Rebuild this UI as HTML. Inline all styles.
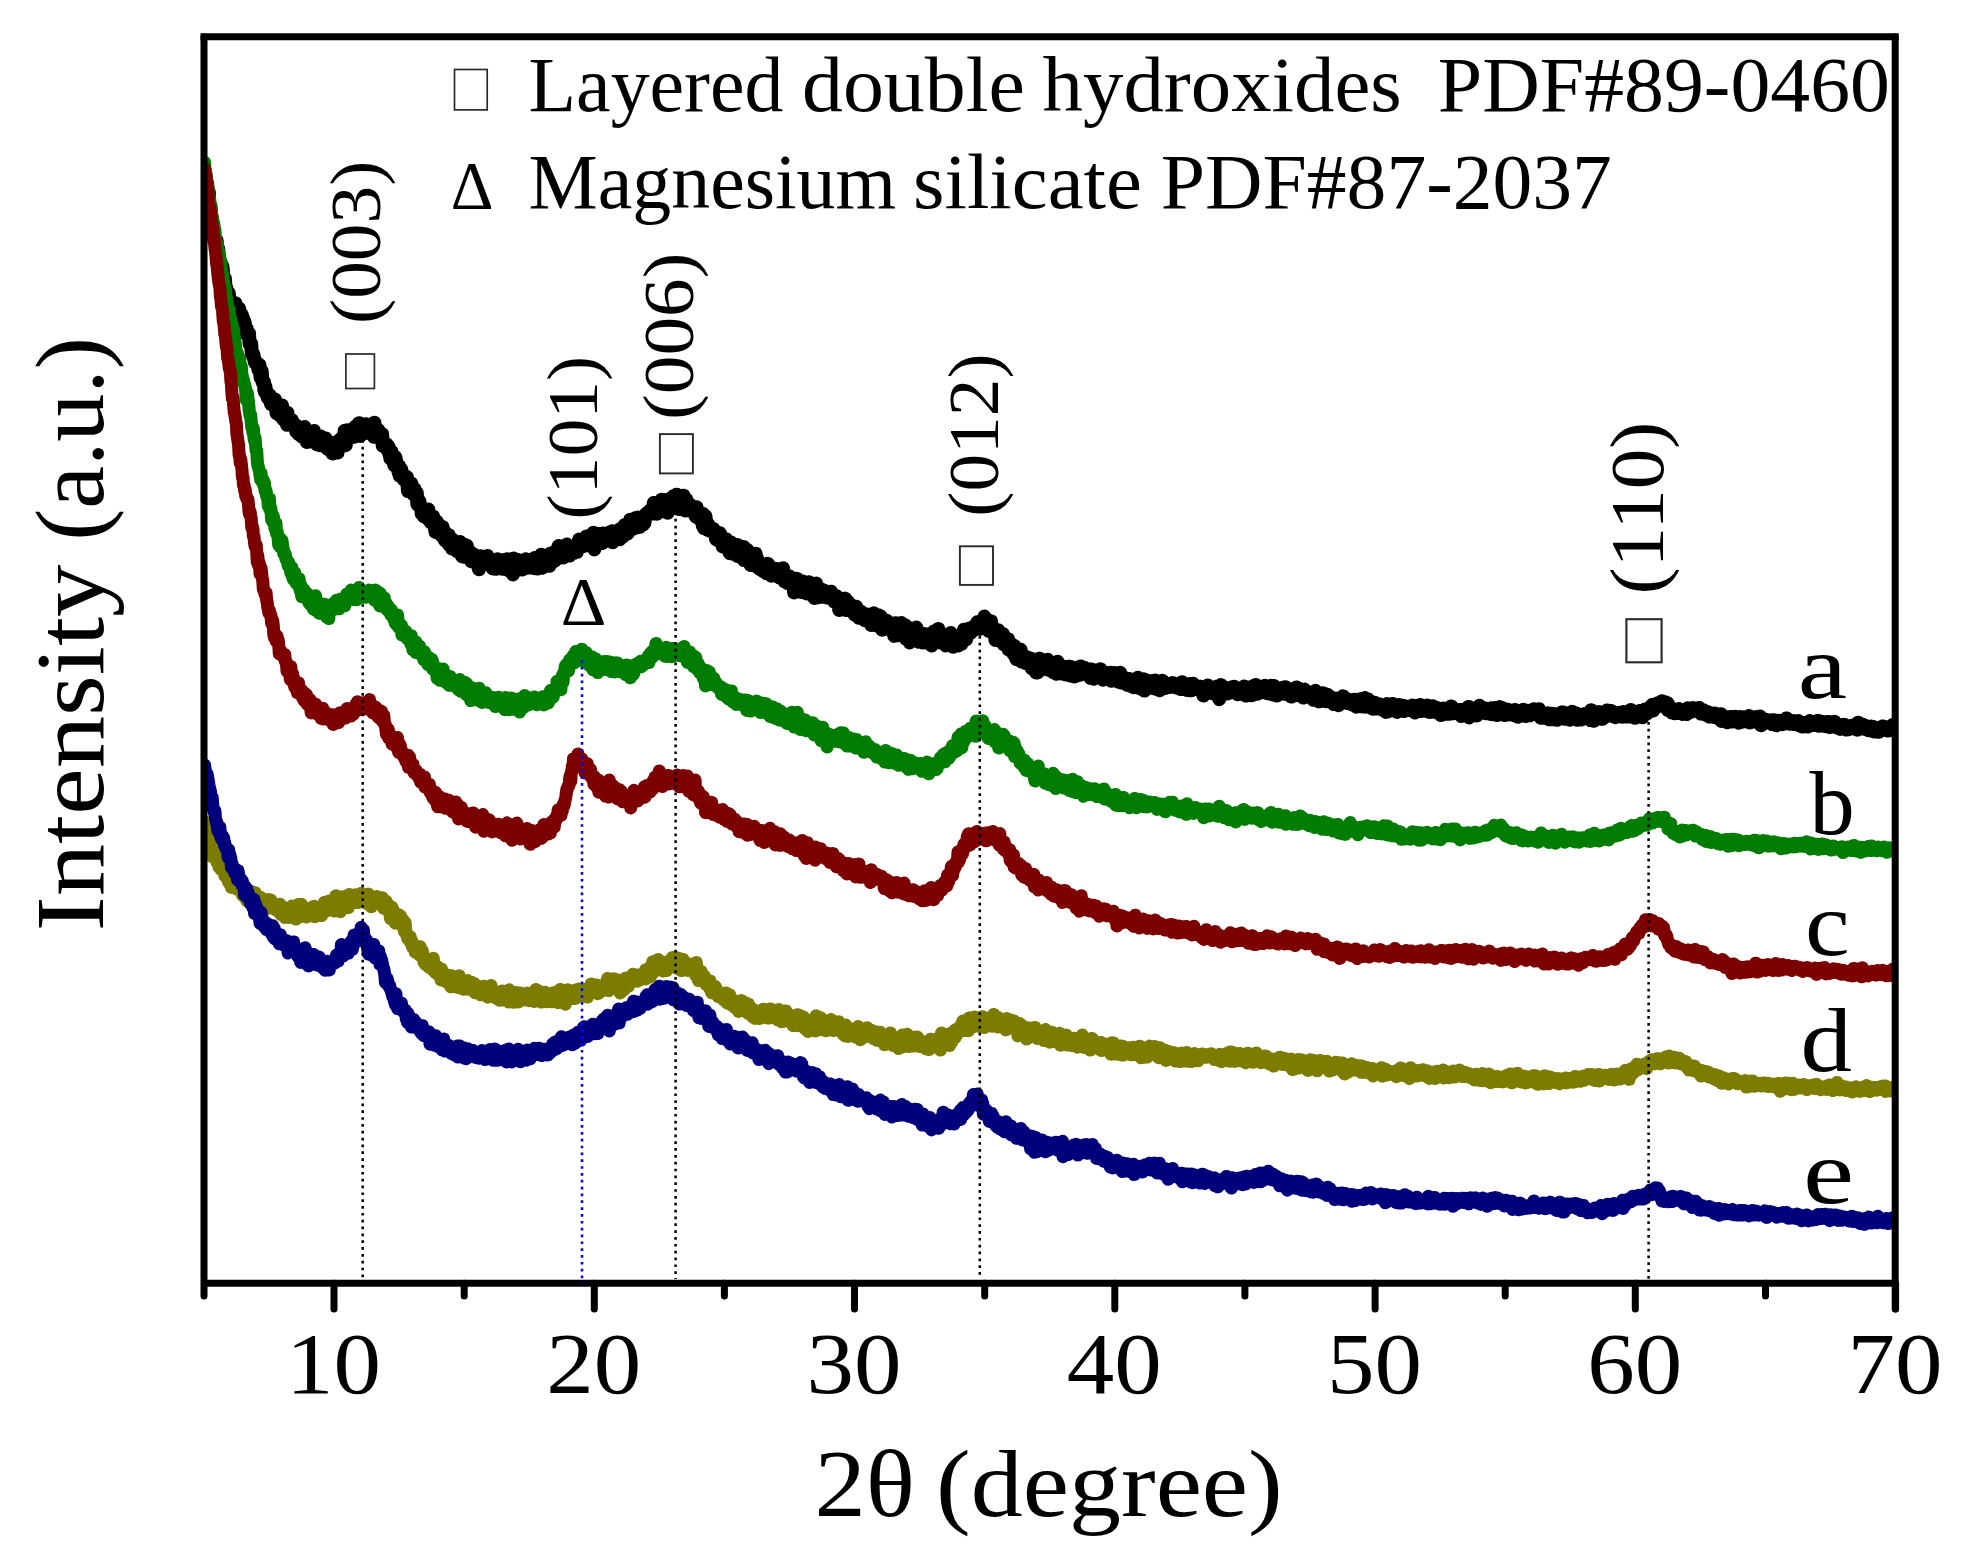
<!DOCTYPE html>
<html lang="en"><head><meta charset="utf-8"><title>XRD patterns</title>
<style>
html,body{margin:0;padding:0;background:#fff;}
body{width:1963px;height:1557px;overflow:hidden;}
svg{display:block;}
text{font-family:"Liberation Serif",serif;fill:#000;}
</style></head><body>
<svg width="1963" height="1557" viewBox="0 0 1963 1557">
<rect width="1963" height="1557" fill="#fff"/>
<defs><clipPath id="plot"><rect x="202.0" y="36.7" width="1693.2" height="1246.6"/></clipPath></defs>
<g clip-path="url(#plot)" fill="none" stroke-linejoin="round" stroke-linecap="round">
<path d="M203.9,163.0 204.5,175.1 205.0,171.6 205.6,177.0 206.1,181.0 206.7,182.3 207.2,183.8 207.8,193.8 208.3,196.4 208.9,192.7 209.4,210.3 210.0,209.7 210.5,208.0 211.1,217.1 211.6,216.4 212.2,221.4 212.7,227.7 213.3,224.4 213.8,233.5 214.4,239.2 214.9,241.8 215.5,239.3 216.0,245.9 216.6,240.4 217.1,247.7 217.7,252.2 218.2,248.9 218.8,255.4 219.3,263.7 219.9,269.0 220.4,265.4 221.0,267.9 221.5,264.5 222.1,266.1 222.6,267.9 223.2,276.6 223.7,279.8 224.3,277.6 224.8,278.1 225.4,285.3 225.9,287.7 226.5,288.5 227.0,295.1 227.6,292.6 228.1,294.6 228.7,293.0 229.2,298.6 229.8,303.9 230.3,301.0 230.9,302.2 231.4,304.4 232.0,304.8 232.5,306.4 233.1,307.2 233.6,308.2 234.2,304.4 234.7,308.6 235.3,303.1 235.8,309.9 236.4,305.6 236.9,310.2 237.5,312.8 238.0,310.8 238.6,313.4 239.1,308.8 239.7,312.3 240.2,318.4 240.8,313.5 241.3,320.4 241.9,315.0 242.4,317.7 243.0,318.3 243.5,323.1 244.1,326.1 244.6,322.3 245.2,326.5 245.7,333.8 246.3,329.1 246.8,329.2 247.4,334.8 247.9,334.7 248.5,335.1 249.0,333.6 249.6,344.0 250.1,341.6 250.7,345.4 251.2,344.0 251.8,353.5 252.3,353.6 252.9,356.2 253.4,354.4 254.0,357.8 254.5,360.8 255.1,362.8 255.6,362.1 256.2,362.4 256.7,362.9 257.3,363.2 257.8,364.0 258.4,369.7 258.9,369.3 259.5,365.1 260.0,372.5 260.6,377.8 261.1,375.0 261.7,371.3 262.2,378.3 262.8,382.7 263.3,382.2 263.9,381.6 264.4,390.4 265.0,392.0 265.5,387.0 266.1,391.4 266.6,391.6 267.2,394.2 267.7,397.8 268.3,397.1 268.8,396.1 269.4,395.0 269.9,395.6 270.5,399.3 271.0,404.1 271.6,402.3 272.1,402.3 272.7,403.7 273.2,403.8 273.8,406.2 274.3,401.5 274.9,399.5 275.4,405.2 276.0,403.6 276.5,413.2 277.1,408.1 277.6,408.5 278.2,405.0 278.7,411.5 279.3,409.2 279.8,415.4 280.4,415.1 280.9,410.5 281.5,414.9 282.0,405.4 282.6,412.5 283.1,419.2 283.7,418.3 284.2,416.9 284.8,416.8 285.3,412.8 285.9,413.6 286.4,419.2 287.0,424.8 287.5,412.7 288.1,422.2 288.6,422.7 289.2,424.4 289.7,419.1 290.3,420.8 290.8,423.2 291.4,420.3 291.9,420.2 292.5,421.8 293.0,425.0 293.6,426.9 294.1,426.2 294.7,427.0 295.2,425.0 295.8,425.3 296.3,431.7 296.9,428.4 297.4,428.7 298.0,432.4 298.5,433.8 299.1,434.3 299.6,431.8 300.2,430.7 300.7,432.2 301.3,432.2 301.8,436.5 302.4,433.3 302.9,434.7 303.5,432.9 304.0,437.8 304.6,427.1 305.1,435.3 305.7,436.8 306.2,431.0 306.8,442.0 307.3,434.9 307.9,435.2 308.4,432.6 309.0,439.2 309.5,437.3 310.1,435.0 310.6,437.9 311.2,439.6 311.7,441.6 312.3,438.6 312.8,435.0 313.4,436.5 313.9,431.0 314.5,436.3 315.0,441.1 315.6,440.4 316.1,438.7 316.7,438.1 317.2,444.4 317.8,440.4 318.3,442.5 318.9,441.0 319.4,437.8 320.0,445.2 320.5,436.4 321.1,436.8 321.6,439.6 322.2,439.0 322.7,439.9 323.3,440.1 323.8,445.6 324.4,443.0 324.9,444.4 325.5,438.5 326.0,441.3 326.6,447.9 327.1,441.0 327.7,449.0 328.2,442.2 328.8,446.8 329.3,443.4 329.9,447.0 330.4,443.7 331.0,445.9 331.5,452.2 332.1,445.7 332.6,453.5 333.2,445.4 333.7,443.0 334.3,446.9 334.8,445.1 335.4,451.8 335.9,448.6 336.5,449.3 337.0,447.1 337.6,452.5 338.1,446.7 338.7,445.3 339.2,440.4 339.8,439.7 340.3,442.7 340.9,444.7 341.4,444.6 342.0,437.5 342.5,441.7 343.1,440.1 343.6,435.4 344.2,440.2 344.7,430.8 345.3,438.5 345.8,445.2 346.4,433.7 346.9,436.7 347.5,430.2 348.0,433.5 348.6,438.0 349.1,431.8 349.7,434.7 350.2,433.3 350.8,432.9 351.3,434.4 351.9,435.0 352.4,437.1 353.0,435.5 353.5,430.7 354.1,436.8 354.6,436.0 355.2,426.8 355.7,433.7 356.3,433.9 356.8,434.1 357.4,432.5 357.9,426.3 358.5,429.3 359.0,423.2 359.6,429.1 360.1,435.9 360.7,431.4 361.2,431.8 361.8,427.3 362.3,425.7 362.9,425.5 363.4,429.4 364.0,426.5 364.5,427.2 365.1,433.1 365.6,424.3 366.2,425.5 366.7,428.3 367.3,429.8 367.8,429.9 368.4,426.0 368.9,431.3 369.5,430.5 370.0,432.2 370.6,427.8 371.1,432.2 371.7,432.3 372.2,429.6 372.8,431.2 373.3,430.4 373.9,436.8 374.4,422.7 375.0,428.4 375.5,427.9 376.1,432.6 376.6,432.0 377.2,433.3 377.7,437.4 378.3,430.3 378.8,433.4 379.4,435.9 379.9,433.4 380.5,439.0 381.0,439.6 381.6,436.9 382.1,434.2 382.7,445.7 383.2,442.9 383.8,443.5 384.3,443.1 384.9,443.7 385.4,447.2 386.0,445.3 386.5,444.1 387.1,449.3 387.6,448.1 388.2,446.3 388.7,446.7 389.3,454.2 389.8,453.4 390.4,458.6 390.9,451.5 391.5,451.7 392.0,456.3 392.6,460.4 393.1,458.9 393.7,459.4 394.2,465.1 394.8,457.7 395.3,457.1 395.9,459.8 396.4,462.2 397.0,465.5 397.5,468.7 398.1,467.8 398.6,472.4 399.2,466.0 399.7,475.9 400.3,468.2 400.8,475.7 401.4,470.0 401.9,475.1 402.5,475.2 403.0,477.7 403.6,479.4 404.1,477.3 404.7,478.7 405.2,480.6 405.8,476.5 406.3,479.2 406.9,477.2 407.4,483.2 408.0,491.1 408.5,487.2 409.1,482.8 409.6,484.1 410.2,490.3 410.7,486.5 411.3,483.6 411.8,486.3 412.4,487.0 412.9,488.0 413.5,494.3 414.0,493.2 414.6,489.1 415.1,493.1 415.7,492.1 416.2,492.9 416.8,492.9 417.3,504.3 417.9,498.7 418.4,502.6 419.0,504.6 419.5,501.6 420.1,505.6 420.6,506.6 421.2,506.6 421.7,513.8 422.3,508.8 422.8,508.1 423.4,511.8 423.9,516.4 424.5,514.7 425.0,510.8 425.6,510.4 426.1,511.0 426.7,512.6 427.2,516.7 427.8,518.8 428.3,509.5 428.9,517.3 429.4,514.4 430.0,520.7 430.5,522.0 431.1,517.2 431.6,518.8 432.2,517.7 432.7,522.6 433.3,516.8 433.8,518.9 434.4,520.9 434.9,527.6 435.5,532.0 436.0,525.0 436.6,521.6 437.1,526.4 437.7,524.0 438.2,529.0 438.8,524.6 439.3,527.6 439.9,529.4 440.4,531.8 441.0,530.6 441.5,535.6 442.1,532.6 442.6,527.0 443.2,536.5 443.7,533.2 444.3,532.6 444.8,540.2 445.4,532.9 445.9,536.9 446.5,535.0 447.0,542.2 447.6,537.3 448.1,539.8 448.7,535.1 449.2,544.7 449.8,537.3 450.3,544.1 450.9,545.3 451.4,546.2 452.0,548.6 452.5,539.5 453.1,544.9 453.6,544.5 454.2,545.8 454.7,548.4 455.3,545.5 455.8,542.9 456.4,545.5 456.9,551.0 457.5,542.6 458.0,546.8 458.6,543.7 459.1,550.6 459.7,542.1 460.2,546.5 460.8,547.5 461.3,548.6 461.9,556.1 462.4,553.9 463.0,546.1 463.5,556.7 464.1,546.4 464.6,544.7 465.2,546.4 465.7,552.4 466.3,553.9 466.8,545.7 467.4,554.7 467.9,553.0 468.5,556.6 469.0,553.6 469.6,558.2 470.1,557.5 470.7,552.4 471.2,561.2 471.8,557.6 472.3,559.5 472.9,561.5 473.4,554.6 474.0,557.7 474.5,555.5 475.1,555.3 475.6,559.3 476.2,559.6 476.7,562.9 477.3,563.1 477.8,558.7 478.4,556.2 478.9,569.2 479.5,565.9 480.0,558.8 480.6,556.3 481.1,558.1 481.7,560.5 482.2,563.4 482.8,563.1 483.3,561.6 483.9,559.7 484.4,561.3 485.0,560.0 485.5,561.5 486.1,561.2 486.6,563.5 487.2,556.1 487.7,561.3 488.3,561.8 488.8,559.4 489.4,562.7 489.9,560.2 490.5,561.7 491.0,563.1 491.6,563.5 492.1,562.8 492.7,568.4 493.2,565.7 493.8,566.3 494.3,566.3 494.9,563.6 495.4,563.0 496.0,568.7 496.5,565.0 497.1,560.5 497.6,559.2 498.2,566.9 498.7,563.8 499.3,565.9 499.8,564.3 500.4,564.7 500.9,565.4 501.5,561.9 502.0,565.7 502.6,568.8 503.1,567.8 503.7,559.9 504.2,561.0 504.8,561.0 505.3,564.3 505.9,567.8 506.4,566.0 507.0,559.2 507.5,564.9 508.1,567.2 508.6,563.1 509.2,570.6 509.7,562.4 510.3,568.1 510.8,571.8 511.4,560.2 511.9,563.2 512.5,566.0 513.0,574.4 513.6,558.4 514.1,565.9 514.7,565.0 515.2,562.7 515.8,561.4 516.3,562.4 516.9,563.1 517.4,560.0 518.0,569.1 518.5,560.6 519.1,562.8 519.6,562.0 520.2,562.8 520.7,564.4 521.3,561.7 521.8,563.3 522.4,569.5 522.9,567.4 523.5,563.0 524.0,566.8 524.6,561.4 525.1,564.6 525.7,559.3 526.2,560.1 526.8,561.0 527.3,567.7 527.9,564.4 528.4,565.4 529.0,564.2 529.5,564.8 530.1,565.0 530.6,566.1 531.2,564.1 531.7,560.7 532.3,561.0 532.8,567.4 533.4,568.0 533.9,565.2 534.5,558.1 535.0,568.3 535.6,564.3 536.1,562.9 536.7,563.2 537.2,561.8 537.8,568.6 538.3,568.2 538.9,559.4 539.4,562.2 540.0,563.7 540.5,566.7 541.1,554.8 541.6,565.5 542.2,567.8 542.7,561.3 543.3,562.2 543.8,566.2 544.4,563.3 544.9,557.7 545.5,558.1 546.0,558.3 546.6,556.9 547.1,561.2 547.7,559.3 548.2,560.8 548.8,562.6 549.3,565.8 549.9,560.4 550.4,553.5 551.0,563.5 551.5,558.3 552.1,562.1 552.6,556.5 553.2,558.6 553.7,556.9 554.3,556.9 554.8,560.7 555.4,554.3 555.9,556.6 556.5,556.5 557.0,554.3 557.6,548.3 558.1,556.2 558.7,545.9 559.2,549.9 559.8,553.1 560.3,555.8 560.9,557.0 561.4,556.7 562.0,555.8 562.5,552.6 563.1,557.5 563.6,552.6 564.2,556.8 564.7,545.9 565.3,549.8 565.8,550.9 566.4,552.5 566.9,544.6 567.5,554.6 568.0,554.9 568.6,554.0 569.1,549.6 569.7,555.6 570.2,548.9 570.8,553.2 571.3,549.8 571.9,549.6 572.4,548.8 573.0,548.9 573.5,552.1 574.1,552.8 574.6,552.4 575.2,550.3 575.7,549.2 576.3,548.1 576.8,551.9 577.4,544.5 577.9,543.6 578.5,545.4 579.0,539.6 579.6,543.8 580.1,544.0 580.7,540.7 581.2,541.8 581.8,545.6 582.3,542.5 582.9,543.2 583.4,546.1 584.0,540.7 584.5,538.9 585.1,542.3 585.6,543.7 586.2,536.5 586.7,544.3 587.3,541.2 587.8,540.8 588.4,539.3 588.9,541.4 589.5,545.1 590.0,543.6 590.6,544.4 591.1,540.6 591.7,546.7 592.2,545.5 592.8,541.2 593.3,532.7 593.9,541.1 594.4,549.4 595.0,540.2 595.5,536.9 596.1,545.3 596.6,537.6 597.2,540.9 597.7,541.5 598.3,534.1 598.8,538.9 599.4,542.1 599.9,537.0 600.5,539.9 601.0,537.5 601.6,540.7 602.1,543.1 602.7,533.6 603.2,536.1 603.8,538.1 604.3,534.8 604.9,534.1 605.4,535.6 606.0,535.9 606.5,534.6 607.1,537.8 607.6,539.3 608.2,539.1 608.7,538.9 609.3,540.5 609.8,532.3 610.4,536.3 610.9,537.2 611.5,538.2 612.0,531.3 612.6,542.3 613.1,533.4 613.7,536.9 614.2,538.2 614.8,539.2 615.3,533.4 615.9,533.6 616.4,536.3 617.0,536.8 617.5,537.6 618.1,534.3 618.6,532.0 619.2,529.7 619.7,539.3 620.3,529.1 620.8,535.4 621.4,533.8 621.9,535.1 622.5,535.4 623.0,536.4 623.6,531.6 624.1,532.8 624.7,525.0 625.2,531.0 625.8,527.6 626.3,529.7 626.9,533.8 627.4,529.9 628.0,532.6 628.5,528.2 629.1,529.7 629.6,526.8 630.2,519.7 630.7,525.1 631.3,526.2 631.8,527.2 632.4,526.3 632.9,525.6 633.5,528.6 634.0,527.3 634.6,523.6 635.1,527.3 635.7,517.9 636.2,522.9 636.8,523.0 637.3,527.3 637.9,521.0 638.4,517.6 639.0,522.4 639.5,526.8 640.1,520.3 640.6,520.2 641.2,519.3 641.7,519.6 642.3,523.1 642.8,524.6 643.4,519.3 643.9,516.9 644.5,522.6 645.0,516.4 645.6,515.8 646.1,513.9 646.7,513.5 647.2,514.7 647.8,512.5 648.3,514.3 648.9,512.7 649.4,513.8 650.0,510.4 650.5,510.5 651.1,511.6 651.6,510.6 652.2,510.4 652.7,513.5 653.3,506.0 653.8,502.9 654.4,511.0 654.9,507.5 655.5,512.2 656.0,507.3 656.6,503.5 657.1,513.7 657.7,507.7 658.2,504.6 658.8,503.3 659.3,507.1 659.9,502.9 660.4,506.0 661.0,508.2 661.5,499.8 662.1,502.9 662.6,505.5 663.2,509.1 663.7,506.7 664.3,502.2 664.8,508.2 665.4,502.3 665.9,502.8 666.5,504.5 667.0,499.7 667.6,512.8 668.1,506.8 668.7,503.6 669.2,501.0 669.8,499.0 670.3,503.7 670.9,504.6 671.4,501.1 672.0,501.6 672.5,503.9 673.1,501.8 673.6,496.0 674.2,503.9 674.7,502.5 675.3,504.0 675.8,499.2 676.4,494.8 676.9,497.6 677.5,502.5 678.0,508.1 678.6,509.0 679.1,502.5 679.7,497.0 680.2,500.6 680.8,503.2 681.3,503.3 681.9,502.4 682.4,506.6 683.0,499.7 683.5,495.8 684.1,500.2 684.6,499.5 685.2,510.6 685.7,503.2 686.3,499.6 686.8,506.4 687.4,508.0 687.9,505.3 688.5,506.2 689.0,509.2 689.6,508.0 690.1,504.6 690.7,509.1 691.2,510.7 691.8,509.3 692.3,511.5 692.9,511.2 693.4,509.2 694.0,510.0 694.5,513.1 695.1,510.0 695.6,516.0 696.2,516.9 696.7,507.3 697.3,514.2 697.8,512.7 698.4,513.7 698.9,516.9 699.5,516.6 700.0,519.6 700.6,519.5 701.1,520.4 701.7,517.4 702.2,519.5 702.8,525.9 703.3,514.1 703.9,528.0 704.4,521.4 705.0,527.6 705.5,516.2 706.1,523.7 706.6,528.3 707.2,526.6 707.7,530.0 708.3,524.5 708.8,526.1 709.4,526.3 709.9,530.6 710.5,531.0 711.0,529.6 711.6,529.7 712.1,530.1 712.7,531.8 713.2,529.0 713.8,532.4 714.3,532.6 714.9,531.8 715.4,532.2 716.0,539.1 716.5,533.0 717.1,536.7 717.6,540.2 718.2,538.7 718.7,536.9 719.3,540.5 719.8,533.3 720.4,534.4 720.9,537.6 721.5,538.6 722.0,539.5 722.6,546.3 723.1,546.2 723.7,541.3 724.2,542.7 724.8,539.6 725.3,544.0 725.9,539.3 726.4,548.4 727.0,542.9 727.5,546.8 728.1,541.3 728.6,550.3 729.2,548.3 729.7,553.0 730.3,547.4 730.8,542.5 731.4,545.5 731.9,544.4 732.5,553.8 733.0,547.1 733.6,547.1 734.1,551.7 734.7,551.0 735.2,552.1 735.8,549.3 736.3,544.9 736.9,547.3 737.4,545.0 738.0,556.3 738.5,555.5 739.1,551.8 739.6,555.3 740.2,555.8 740.7,556.0 741.3,556.0 741.8,557.5 742.4,555.3 742.9,548.4 743.5,547.0 744.0,560.1 744.6,558.3 745.1,548.8 745.7,557.6 746.2,554.6 746.8,556.0 747.3,549.8 747.9,560.8 748.4,558.4 749.0,561.5 749.5,562.7 750.1,563.6 750.6,565.0 751.2,561.0 751.7,561.0 752.3,558.6 752.8,562.6 753.4,560.4 753.9,557.7 754.5,565.5 755.0,564.3 755.6,553.8 756.1,556.7 756.7,562.3 757.2,559.0 757.8,567.5 758.3,564.5 758.9,566.1 759.4,567.6 760.0,569.2 760.5,564.4 761.1,567.6 761.6,566.7 762.2,568.7 762.7,568.2 763.3,571.3 763.8,568.8 764.4,565.8 764.9,568.0 765.5,564.3 766.0,569.2 766.6,573.3 767.1,566.8 767.7,563.8 768.2,569.0 768.8,567.9 769.3,569.8 769.9,568.2 770.4,570.6 771.0,567.3 771.5,575.7 772.1,570.3 772.6,572.9 773.2,573.9 773.7,571.2 774.3,573.3 774.8,571.3 775.4,570.8 775.9,571.8 776.5,574.3 777.0,568.9 777.6,570.3 778.1,570.8 778.7,571.8 779.2,577.5 779.8,574.0 780.3,573.4 780.9,575.1 781.4,578.2 782.0,572.7 782.5,578.7 783.1,568.3 783.6,573.2 784.2,581.0 784.7,581.5 785.3,577.5 785.8,575.9 786.4,580.2 786.9,576.6 787.5,583.1 788.0,582.3 788.6,581.3 789.1,576.5 789.7,582.6 790.2,579.0 790.8,579.4 791.3,579.1 791.9,580.3 792.4,582.5 793.0,583.9 793.5,584.1 794.1,592.4 794.6,580.7 795.2,585.7 795.7,580.1 796.3,581.7 796.8,578.8 797.4,586.5 797.9,583.6 798.5,583.4 799.0,582.8 799.6,586.3 800.1,581.9 800.7,585.0 801.2,592.0 801.8,583.8 802.3,582.5 802.9,581.5 803.4,587.6 804.0,585.6 804.5,583.3 805.1,583.3 805.6,586.3 806.2,583.4 806.7,593.5 807.3,586.5 807.8,586.8 808.4,587.4 808.9,582.2 809.5,583.6 810.0,587.3 810.6,588.6 811.1,584.9 811.7,594.5 812.2,590.8 812.8,593.7 813.3,593.5 813.9,589.3 814.4,598.0 815.0,590.9 815.5,584.8 816.1,583.6 816.6,591.2 817.2,594.2 817.7,591.8 818.3,597.3 818.8,591.1 819.4,594.0 819.9,594.7 820.5,589.2 821.0,593.6 821.6,593.9 822.1,596.3 822.7,596.8 823.2,596.2 823.8,590.8 824.3,595.6 824.9,596.8 825.4,593.6 826.0,596.0 826.5,596.2 827.1,597.6 827.6,594.3 828.2,595.7 828.7,595.0 829.3,594.8 829.8,592.8 830.4,594.0 830.9,591.7 831.5,594.9 832.0,598.0 832.6,598.1 833.1,598.9 833.7,596.5 834.2,601.6 834.8,596.1 835.3,600.3 835.9,599.6 836.4,596.2 837.0,596.7 837.5,601.7 838.1,599.8 838.6,600.9 839.2,610.0 839.7,602.5 840.3,601.4 840.8,603.7 841.4,599.8 841.9,601.5 842.5,603.8 843.0,600.2 843.6,603.0 844.1,602.8 844.7,604.1 845.2,598.6 845.8,610.1 846.3,604.6 846.9,607.0 847.4,602.3 848.0,601.8 848.5,606.4 849.1,605.7 849.6,609.1 850.2,604.5 850.7,604.7 851.3,609.2 851.8,610.8 852.4,611.9 852.9,609.2 853.5,610.6 854.0,607.7 854.6,614.7 855.1,614.6 855.7,614.9 856.2,606.8 856.8,615.1 857.3,610.4 857.9,614.7 858.4,614.9 859.0,617.8 859.5,613.8 860.1,613.7 860.6,611.9 861.2,611.7 861.7,617.6 862.3,613.2 862.8,618.4 863.4,615.4 863.9,615.0 864.5,620.0 865.0,619.9 865.6,614.3 866.1,617.1 866.7,617.8 867.2,620.1 867.8,615.9 868.3,617.1 868.9,618.2 869.4,621.0 870.0,621.8 870.5,617.6 871.1,625.0 871.6,621.1 872.2,617.5 872.7,615.3 873.3,618.9 873.8,613.2 874.4,621.5 874.9,622.8 875.5,625.3 876.0,623.0 876.6,616.3 877.1,620.9 877.7,624.1 878.2,615.3 878.8,619.7 879.3,624.3 879.9,622.7 880.4,616.4 881.0,621.3 881.5,623.1 882.1,629.7 882.6,622.0 883.2,620.7 883.7,624.6 884.3,625.1 884.8,626.0 885.4,629.0 885.9,624.5 886.5,620.6 887.0,625.3 887.6,625.4 888.1,628.6 888.7,628.4 889.2,623.7 889.8,628.5 890.3,629.4 890.9,625.8 891.4,629.5 892.0,627.1 892.5,627.2 893.1,626.3 893.6,629.3 894.2,635.9 894.7,627.6 895.3,623.2 895.8,626.2 896.4,625.2 896.9,628.1 897.5,626.7 898.0,635.2 898.6,629.7 899.1,633.3 899.7,625.4 900.2,627.2 900.8,634.5 901.3,623.0 901.9,629.0 902.4,623.9 903.0,633.9 903.5,624.9 904.1,628.8 904.6,629.5 905.2,625.1 905.7,638.5 906.3,630.6 906.8,636.6 907.4,629.6 907.9,627.6 908.5,633.2 909.0,633.5 909.6,642.4 910.1,630.2 910.7,629.0 911.2,632.0 911.8,635.4 912.3,636.5 912.9,632.7 913.4,634.1 914.0,637.2 914.5,639.1 915.1,634.0 915.6,636.4 916.2,627.5 916.7,633.3 917.3,637.8 917.8,636.5 918.4,636.1 918.9,641.8 919.5,635.9 920.0,633.5 920.6,637.6 921.1,637.6 921.7,633.4 922.2,640.1 922.8,642.4 923.3,635.1 923.9,634.2 924.4,636.7 925.0,640.8 925.5,635.1 926.1,634.5 926.6,634.8 927.2,637.4 927.7,637.2 928.3,635.9 928.8,640.2 929.4,643.4 929.9,634.4 930.5,639.4 931.0,637.0 931.6,645.5 932.1,633.3 932.7,635.0 933.2,636.4 933.8,631.6 934.3,635.5 934.9,638.4 935.4,631.7 936.0,636.8 936.5,642.1 937.1,634.7 937.6,633.9 938.2,628.9 938.7,636.6 939.3,632.0 939.8,639.0 940.4,642.5 940.9,639.2 941.5,635.1 942.0,639.7 942.6,636.3 943.1,634.3 943.7,636.5 944.2,638.9 944.8,637.2 945.3,640.1 945.9,645.4 946.4,640.8 947.0,641.4 947.5,637.1 948.1,643.6 948.6,640.7 949.2,643.0 949.7,637.6 950.3,641.0 950.8,633.1 951.4,639.5 951.9,638.2 952.5,638.0 953.0,646.8 953.6,636.7 954.1,641.3 954.7,641.6 955.2,643.9 955.8,645.6 956.3,637.6 956.9,641.2 957.4,640.8 958.0,645.1 958.5,645.5 959.1,640.7 959.6,639.6 960.2,637.3 960.7,640.7 961.3,643.9 961.8,638.9 962.4,634.7 962.9,633.5 963.5,633.3 964.0,629.7 964.6,639.7 965.1,633.7 965.7,631.8 966.2,639.2 966.8,632.3 967.3,635.7 967.9,631.4 968.4,633.6 969.0,630.1 969.5,628.4 970.1,630.7 970.6,631.4 971.2,632.4 971.7,629.4 972.3,627.8 972.8,627.2 973.4,629.2 973.9,626.5 974.5,626.8 975.0,629.3 975.6,629.3 976.1,628.8 976.7,624.7 977.2,622.3 977.8,627.5 978.3,626.8 978.9,625.1 979.4,626.8 980.0,628.7 980.5,625.3 981.1,627.0 981.6,622.6 982.2,624.9 982.7,623.0 983.3,621.0 983.8,626.9 984.4,616.6 984.9,625.3 985.5,628.0 986.0,626.9 986.6,620.8 987.1,626.6 987.7,620.3 988.2,623.4 988.8,631.0 989.3,627.3 989.9,630.8 990.4,624.0 991.0,621.3 991.5,625.8 992.1,632.5 992.6,631.7 993.2,632.5 993.7,629.1 994.3,629.7 994.8,629.8 995.4,640.0 995.9,631.7 996.5,637.5 997.0,632.0 997.6,637.5 998.1,630.3 998.7,632.7 999.2,636.0 999.8,633.6 1000.3,634.7 1000.9,635.9 1001.4,635.2 1002.0,642.3 1002.5,641.4 1003.1,634.0 1003.6,644.2 1004.2,639.3 1004.7,639.8 1005.3,639.9 1005.8,643.6 1006.4,643.7 1006.9,640.4 1007.5,642.8 1008.0,639.1 1008.6,649.6 1009.1,641.8 1009.7,642.3 1010.2,643.5 1010.8,646.9 1011.3,649.4 1011.9,646.7 1012.4,648.6 1013.0,648.1 1013.5,653.9 1014.1,651.3 1014.6,646.0 1015.2,656.4 1015.7,653.6 1016.3,659.1 1016.8,651.9 1017.4,652.8 1017.9,654.4 1018.5,651.1 1019.0,654.7 1019.6,660.1 1020.1,658.9 1020.7,649.8 1021.2,661.4 1021.8,658.9 1022.3,660.6 1022.9,658.6 1023.4,659.3 1024.0,659.2 1024.5,659.5 1025.1,656.5 1025.6,663.1 1026.2,660.9 1026.7,661.7 1027.3,662.0 1027.8,660.4 1028.4,661.5 1028.9,658.1 1029.5,663.3 1030.0,663.7 1030.6,662.6 1031.1,658.6 1031.7,668.2 1032.2,664.0 1032.8,664.9 1033.3,664.3 1033.9,663.8 1034.4,664.6 1035.0,662.7 1035.5,664.5 1036.1,672.5 1036.6,670.0 1037.2,672.5 1037.7,664.7 1038.3,660.9 1038.8,662.5 1039.4,658.7 1039.9,669.7 1040.5,670.1 1041.0,666.8 1041.6,667.6 1042.1,667.5 1042.7,666.1 1043.2,668.6 1043.8,663.5 1044.3,665.2 1044.9,666.2 1045.4,661.7 1046.0,663.8 1046.5,668.1 1047.1,667.9 1047.6,659.8 1048.2,669.8 1048.7,668.2 1049.3,669.5 1049.8,667.1 1050.4,669.1 1050.9,663.7 1051.5,666.9 1052.0,664.5 1052.6,666.2 1053.1,671.2 1053.7,672.5 1054.2,668.0 1054.8,666.7 1055.3,670.3 1055.9,669.4 1056.4,673.7 1057.0,670.1 1057.5,661.7 1058.1,668.7 1058.6,667.7 1059.2,666.5 1059.7,669.3 1060.3,669.2 1060.8,668.2 1061.4,673.6 1061.9,670.5 1062.5,670.7 1063.0,670.2 1063.6,673.3 1064.1,666.8 1064.7,673.5 1065.2,669.5 1065.8,674.5 1066.3,674.4 1066.9,671.8 1067.4,669.2 1068.0,671.4 1068.5,671.7 1069.1,666.6 1069.6,669.9 1070.2,668.9 1070.7,674.8 1071.3,675.8 1071.8,669.1 1072.4,669.7 1072.9,667.6 1073.5,672.1 1074.0,673.7 1074.6,676.5 1075.1,667.9 1075.7,674.2 1076.2,671.2 1076.8,669.6 1077.3,670.7 1077.9,669.5 1078.4,672.9 1079.0,671.6 1079.5,674.9 1080.1,670.1 1080.6,666.4 1081.2,668.8 1081.7,672.4 1082.3,667.4 1082.8,669.4 1083.4,672.9 1083.9,667.7 1084.5,673.8 1085.0,672.4 1085.6,669.9 1086.1,671.4 1086.7,670.2 1087.2,670.6 1087.8,670.8 1088.3,671.9 1088.9,671.7 1089.4,670.0 1090.0,669.5 1090.5,677.9 1091.1,669.4 1091.6,672.2 1092.2,676.0 1092.7,675.6 1093.3,671.1 1093.8,678.7 1094.4,678.2 1094.9,672.8 1095.5,670.5 1096.0,675.7 1096.6,673.7 1097.1,673.6 1097.7,672.4 1098.2,673.2 1098.8,675.4 1099.3,677.6 1099.9,669.8 1100.4,669.2 1101.0,678.3 1101.5,673.7 1102.1,677.9 1102.6,676.5 1103.2,679.7 1103.7,679.0 1104.3,675.9 1104.8,676.4 1105.4,677.7 1105.9,679.0 1106.5,675.4 1107.0,673.1 1107.6,677.5 1108.1,677.1 1108.7,676.9 1109.2,674.7 1109.8,678.9 1110.3,672.8 1110.9,676.1 1111.4,680.7 1112.0,674.4 1112.5,678.4 1113.1,678.5 1113.6,678.4 1114.2,672.9 1114.7,680.0 1115.3,677.7 1115.8,678.7 1116.4,678.3 1116.9,677.7 1117.5,680.8 1118.0,681.5 1118.6,673.1 1119.1,676.1 1119.7,677.8 1120.2,672.8 1120.8,682.5 1121.3,676.9 1121.9,680.6 1122.4,679.9 1123.0,679.1 1123.5,677.3 1124.1,679.2 1124.6,680.6 1125.2,682.7 1125.7,680.4 1126.3,680.1 1126.8,680.7 1127.4,684.9 1127.9,682.5 1128.5,680.2 1129.0,678.9 1129.6,681.2 1130.1,680.0 1130.7,681.4 1131.2,686.0 1131.8,684.4 1132.3,683.3 1132.9,683.8 1133.4,687.2 1134.0,680.0 1134.5,684.0 1135.1,682.4 1135.6,683.3 1136.2,683.2 1136.7,682.3 1137.3,684.5 1137.8,677.8 1138.4,684.1 1138.9,685.2 1139.5,681.2 1140.0,681.2 1140.6,688.6 1141.1,681.7 1141.7,683.1 1142.2,682.3 1142.8,682.8 1143.3,682.8 1143.9,679.3 1144.4,690.6 1145.0,683.0 1145.5,685.8 1146.1,684.7 1146.6,688.3 1147.2,686.7 1147.7,687.8 1148.3,687.9 1148.8,687.1 1149.4,685.1 1149.9,687.3 1150.5,681.1 1151.0,687.2 1151.6,686.7 1152.1,685.7 1152.7,681.7 1153.2,688.2 1153.8,683.3 1154.3,686.5 1154.9,680.4 1155.4,684.5 1156.0,683.4 1156.5,683.1 1157.1,683.4 1157.6,689.3 1158.2,684.9 1158.7,685.9 1159.3,690.3 1159.8,681.6 1160.4,688.8 1160.9,684.2 1161.5,683.6 1162.0,684.2 1162.6,680.8 1163.1,681.5 1163.7,682.5 1164.2,684.0 1164.8,687.1 1165.3,688.1 1165.9,684.6 1166.4,686.4 1167.0,686.6 1167.5,685.1 1168.1,686.2 1168.6,684.3 1169.2,687.1 1169.7,685.3 1170.3,686.0 1170.8,686.6 1171.4,686.4 1171.9,684.3 1172.5,682.9 1173.0,686.0 1173.6,684.8 1174.1,685.0 1174.7,686.0 1175.2,684.6 1175.8,687.4 1176.3,687.4 1176.9,684.2 1177.4,687.3 1178.0,684.2 1178.5,688.2 1179.1,688.0 1179.6,686.5 1180.2,688.7 1180.7,689.1 1181.3,687.8 1181.8,682.3 1182.4,687.1 1182.9,687.3 1183.5,688.9 1184.0,684.6 1184.6,688.8 1185.1,688.0 1185.7,688.2 1186.2,684.3 1186.8,685.3 1187.3,690.1 1187.9,689.5 1188.4,687.3 1189.0,690.2 1189.5,688.3 1190.1,686.7 1190.6,684.0 1191.2,690.2 1191.7,687.5 1192.3,688.5 1192.8,683.7 1193.4,686.7 1193.9,688.8 1194.5,687.6 1195.0,686.6 1195.6,685.8 1196.1,689.1 1196.7,687.8 1197.2,688.1 1197.8,688.3 1198.3,687.7 1198.9,688.6 1199.4,688.1 1200.0,689.8 1200.5,686.7 1201.1,687.5 1201.6,690.3 1202.2,690.1 1202.7,691.0 1203.3,695.5 1203.8,692.6 1204.4,693.6 1204.9,692.0 1205.5,690.8 1206.0,689.2 1206.6,686.7 1207.1,687.7 1207.7,685.5 1208.2,688.4 1208.8,687.2 1209.3,688.6 1209.9,690.8 1210.4,689.8 1211.0,692.8 1211.5,692.7 1212.1,693.0 1212.6,692.5 1213.2,691.1 1213.7,689.2 1214.3,691.4 1214.8,689.7 1215.4,689.8 1215.9,691.3 1216.5,687.7 1217.0,686.5 1217.6,691.1 1218.1,694.5 1218.7,693.0 1219.2,699.2 1219.8,687.2 1220.3,689.0 1220.9,685.1 1221.4,688.5 1222.0,694.9 1222.5,694.3 1223.1,688.2 1223.6,689.8 1224.2,688.6 1224.7,687.4 1225.3,689.9 1225.8,689.7 1226.4,690.6 1226.9,690.9 1227.5,691.9 1228.0,693.4 1228.6,690.0 1229.1,689.6 1229.7,690.1 1230.2,691.0 1230.8,689.7 1231.3,687.6 1231.9,688.7 1232.4,691.6 1233.0,687.5 1233.5,691.8 1234.1,686.7 1234.6,691.4 1235.2,691.4 1235.7,689.6 1236.3,690.2 1236.8,689.8 1237.4,694.3 1237.9,689.6 1238.5,689.0 1239.0,691.7 1239.6,693.5 1240.1,691.9 1240.7,690.9 1241.2,693.7 1241.8,689.7 1242.3,689.7 1242.9,688.7 1243.4,694.4 1244.0,686.6 1244.5,688.7 1245.1,692.2 1245.6,692.6 1246.2,695.6 1246.7,692.5 1247.3,690.3 1247.8,694.6 1248.4,693.8 1248.9,693.9 1249.5,693.6 1250.0,692.2 1250.6,687.6 1251.1,688.5 1251.7,695.3 1252.2,690.8 1252.8,686.4 1253.3,690.6 1253.9,692.6 1254.4,691.2 1255.0,690.3 1255.5,684.9 1256.1,690.2 1256.6,689.7 1257.2,693.8 1257.7,689.9 1258.3,689.7 1258.8,688.8 1259.4,689.5 1259.9,690.4 1260.5,688.6 1261.0,687.7 1261.6,686.9 1262.1,690.0 1262.7,689.0 1263.2,689.1 1263.8,686.5 1264.3,688.1 1264.9,685.8 1265.4,692.3 1266.0,692.9 1266.5,691.2 1267.1,690.2 1267.6,691.6 1268.2,687.3 1268.7,687.8 1269.3,693.5 1269.8,688.6 1270.4,691.0 1270.9,689.7 1271.5,685.8 1272.0,689.8 1272.6,693.3 1273.1,694.5 1273.7,685.9 1274.2,688.1 1274.8,690.4 1275.3,693.9 1275.9,694.5 1276.4,695.3 1277.0,695.5 1277.5,690.8 1278.1,689.5 1278.6,693.8 1279.2,691.1 1279.7,691.8 1280.3,690.9 1280.8,690.8 1281.4,693.7 1281.9,689.4 1282.5,687.7 1283.0,690.1 1283.6,691.9 1284.1,691.0 1284.7,691.4 1285.2,687.2 1285.8,689.7 1286.3,694.1 1286.9,691.3 1287.4,690.2 1288.0,694.2 1288.5,690.5 1289.1,693.4 1289.6,692.1 1290.2,692.5 1290.7,693.9 1291.3,696.6 1291.8,694.4 1292.4,689.6 1292.9,689.0 1293.5,690.7 1294.0,691.0 1294.6,692.9 1295.1,691.4 1295.7,691.7 1296.2,687.5 1296.8,691.2 1297.3,692.5 1297.9,695.2 1298.4,693.2 1299.0,691.7 1299.5,689.0 1300.1,691.7 1300.6,691.9 1301.2,691.7 1301.7,692.5 1302.3,693.5 1302.8,693.5 1303.4,697.6 1303.9,690.7 1304.5,689.6 1305.0,694.2 1305.6,690.8 1306.1,693.2 1306.7,693.7 1307.2,692.3 1307.8,696.0 1308.3,695.9 1308.9,694.9 1309.4,696.2 1310.0,696.9 1310.5,694.5 1311.1,696.6 1311.6,695.8 1312.2,695.6 1312.7,694.7 1313.3,699.7 1313.8,696.8 1314.4,693.0 1314.9,697.4 1315.5,690.8 1316.0,697.1 1316.6,698.3 1317.1,699.9 1317.7,697.3 1318.2,695.5 1318.8,701.4 1319.3,699.5 1319.9,700.2 1320.4,696.9 1321.0,699.0 1321.5,693.8 1322.1,698.8 1322.6,693.3 1323.2,695.8 1323.7,694.9 1324.3,700.8 1324.8,700.4 1325.4,697.2 1325.9,701.3 1326.5,698.9 1327.0,694.6 1327.6,698.1 1328.1,695.4 1328.7,699.4 1329.2,700.1 1329.8,697.9 1330.3,701.3 1330.9,702.0 1331.4,697.8 1332.0,701.1 1332.5,699.8 1333.1,699.5 1333.6,703.9 1334.2,698.8 1334.7,699.6 1335.3,700.3 1335.8,701.8 1336.4,702.3 1336.9,698.6 1337.5,703.7 1338.0,704.8 1338.6,705.2 1339.1,701.2 1339.7,699.8 1340.2,698.6 1340.8,701.7 1341.3,700.9 1341.9,700.9 1342.4,699.7 1343.0,696.3 1343.5,700.5 1344.1,700.8 1344.6,700.4 1345.2,698.2 1345.7,700.8 1346.3,701.1 1346.8,699.1 1347.4,703.0 1347.9,701.6 1348.5,702.0 1349.0,702.7 1349.6,701.4 1350.1,701.9 1350.7,703.3 1351.2,703.9 1351.8,704.2 1352.3,702.0 1352.9,704.2 1353.4,705.0 1354.0,699.7 1354.5,701.9 1355.1,702.7 1355.6,702.8 1356.2,706.7 1356.7,705.4 1357.3,702.6 1357.8,702.7 1358.4,699.9 1358.9,700.8 1359.5,705.8 1360.0,699.2 1360.6,704.2 1361.1,701.3 1361.7,702.1 1362.2,702.5 1362.8,706.6 1363.3,703.4 1363.9,703.8 1364.4,704.9 1365.0,698.0 1365.5,706.8 1366.1,699.3 1366.6,701.4 1367.2,704.5 1367.7,700.6 1368.3,699.6 1368.8,705.9 1369.4,702.9 1369.9,705.8 1370.5,705.0 1371.0,703.7 1371.6,707.8 1372.1,703.9 1372.7,708.8 1373.2,702.8 1373.8,702.7 1374.3,703.5 1374.9,705.6 1375.4,702.8 1376.0,703.9 1376.5,708.5 1377.1,705.9 1377.6,708.1 1378.2,706.5 1378.7,704.6 1379.3,704.3 1379.8,706.4 1380.4,706.3 1380.9,705.1 1381.5,705.1 1382.0,709.5 1382.6,708.7 1383.1,707.2 1383.7,706.0 1384.2,705.9 1384.8,711.1 1385.3,705.7 1385.9,711.9 1386.4,705.7 1387.0,704.1 1387.5,711.5 1388.1,707.1 1388.6,710.6 1389.2,708.3 1389.7,707.0 1390.3,709.5 1390.8,706.9 1391.4,708.5 1391.9,707.3 1392.5,704.0 1393.0,708.5 1393.6,706.6 1394.1,707.5 1394.7,708.7 1395.2,704.9 1395.8,709.0 1396.3,709.1 1396.9,711.9 1397.4,709.7 1398.0,708.7 1398.5,706.7 1399.1,708.0 1399.6,705.1 1400.2,708.9 1400.7,707.7 1401.3,707.4 1401.8,708.2 1402.4,709.1 1402.9,708.8 1403.5,705.8 1404.0,711.0 1404.6,708.4 1405.1,709.1 1405.7,708.4 1406.2,706.5 1406.8,709.0 1407.3,707.7 1407.9,706.7 1408.4,708.8 1409.0,710.1 1409.5,709.8 1410.1,708.9 1410.6,707.3 1411.2,707.9 1411.7,708.3 1412.3,705.6 1412.8,710.2 1413.4,708.8 1413.9,706.0 1414.5,711.6 1415.0,712.5 1415.6,706.0 1416.1,708.3 1416.7,707.0 1417.2,710.3 1417.8,705.9 1418.3,709.8 1418.9,709.6 1419.4,711.1 1420.0,705.0 1420.5,707.3 1421.1,708.5 1421.6,710.9 1422.2,709.2 1422.7,710.6 1423.3,710.0 1423.8,707.3 1424.4,708.9 1424.9,708.4 1425.5,708.6 1426.0,707.5 1426.6,710.9 1427.1,710.0 1427.7,705.6 1428.2,711.0 1428.8,708.4 1429.3,706.6 1429.9,712.1 1430.4,709.6 1431.0,710.4 1431.5,709.5 1432.1,709.7 1432.6,706.2 1433.2,711.3 1433.7,708.4 1434.3,709.9 1434.8,709.7 1435.4,708.0 1435.9,707.4 1436.5,709.6 1437.0,712.4 1437.6,708.6 1438.1,708.7 1438.7,710.1 1439.2,708.8 1439.8,712.6 1440.3,711.0 1440.9,715.1 1441.4,710.6 1442.0,714.7 1442.5,709.2 1443.1,710.9 1443.6,708.5 1444.2,709.9 1444.7,710.2 1445.3,712.1 1445.8,713.8 1446.4,710.6 1446.9,708.4 1447.5,711.4 1448.0,711.1 1448.6,710.5 1449.1,713.3 1449.7,713.8 1450.2,710.2 1450.8,710.2 1451.3,706.4 1451.9,710.3 1452.4,713.2 1453.0,709.6 1453.5,713.2 1454.1,712.7 1454.6,712.5 1455.2,712.5 1455.7,711.0 1456.3,713.1 1456.8,713.2 1457.4,711.8 1457.9,711.0 1458.5,713.7 1459.0,714.1 1459.6,709.9 1460.1,712.9 1460.7,711.4 1461.2,716.0 1461.8,710.8 1462.3,710.4 1462.9,709.9 1463.4,713.6 1464.0,709.8 1464.5,713.2 1465.1,711.0 1465.6,714.8 1466.2,715.3 1466.7,714.5 1467.3,708.4 1467.8,709.4 1468.4,706.9 1468.9,717.4 1469.5,711.0 1470.0,711.3 1470.6,712.1 1471.1,713.1 1471.7,711.1 1472.2,711.8 1472.8,711.5 1473.3,708.9 1473.9,714.9 1474.4,714.6 1475.0,711.2 1475.5,710.7 1476.1,714.6 1476.6,715.6 1477.2,710.9 1477.7,712.0 1478.3,709.9 1478.8,711.4 1479.4,705.7 1479.9,706.3 1480.5,711.6 1481.0,710.3 1481.6,711.5 1482.1,710.9 1482.7,711.9 1483.2,711.2 1483.8,710.3 1484.3,711.5 1484.9,709.3 1485.4,713.3 1486.0,708.6 1486.5,709.7 1487.1,712.2 1487.6,709.7 1488.2,712.2 1488.7,713.1 1489.3,711.8 1489.8,709.4 1490.4,713.9 1490.9,711.1 1491.5,708.3 1492.0,714.2 1492.6,710.6 1493.1,711.5 1493.7,712.1 1494.2,709.4 1494.8,712.2 1495.3,708.1 1495.9,708.7 1496.4,709.9 1497.0,715.0 1497.5,712.0 1498.1,713.2 1498.6,710.2 1499.2,712.2 1499.7,707.1 1500.3,710.8 1500.8,712.2 1501.4,710.4 1501.9,707.8 1502.5,708.5 1503.0,713.0 1503.6,714.4 1504.1,711.2 1504.7,715.1 1505.2,709.6 1505.8,713.4 1506.3,712.9 1506.9,714.4 1507.4,709.6 1508.0,714.5 1508.5,712.9 1509.1,711.2 1509.6,712.0 1510.2,712.6 1510.7,713.6 1511.3,711.5 1511.8,711.6 1512.4,713.5 1512.9,713.3 1513.5,714.4 1514.0,715.2 1514.6,709.9 1515.1,713.3 1515.7,714.0 1516.2,713.6 1516.8,711.5 1517.3,714.9 1517.9,716.8 1518.4,713.2 1519.0,712.0 1519.5,715.0 1520.1,713.6 1520.6,713.8 1521.2,714.0 1521.7,712.7 1522.3,713.6 1522.8,712.2 1523.4,709.8 1523.9,715.6 1524.5,714.1 1525.0,713.4 1525.6,716.1 1526.1,713.2 1526.7,715.7 1527.2,715.1 1527.8,712.9 1528.3,711.1 1528.9,714.3 1529.4,713.8 1530.0,715.3 1530.5,710.5 1531.1,713.2 1531.6,713.9 1532.2,714.1 1532.7,713.7 1533.3,714.1 1533.8,709.2 1534.4,713.0 1534.9,712.4 1535.5,710.8 1536.0,714.0 1536.6,713.1 1537.1,711.7 1537.7,711.3 1538.2,714.6 1538.8,709.2 1539.3,713.9 1539.9,712.0 1540.4,714.4 1541.0,717.7 1541.5,716.1 1542.1,714.0 1542.6,717.0 1543.2,717.8 1543.7,716.1 1544.3,717.8 1544.8,714.7 1545.4,715.6 1545.9,714.3 1546.5,713.8 1547.0,714.7 1547.6,713.3 1548.1,714.7 1548.7,719.2 1549.2,716.5 1549.8,714.9 1550.3,718.7 1550.9,718.3 1551.4,713.7 1552.0,714.5 1552.5,719.2 1553.1,716.2 1553.6,716.5 1554.2,715.2 1554.7,714.2 1555.3,718.5 1555.8,714.8 1556.4,717.4 1556.9,719.8 1557.5,717.3 1558.0,715.9 1558.6,717.5 1559.1,717.3 1559.7,715.3 1560.2,716.6 1560.8,713.7 1561.3,712.6 1561.9,714.8 1562.4,712.4 1563.0,714.4 1563.5,715.3 1564.1,715.8 1564.6,718.8 1565.2,713.6 1565.7,714.4 1566.3,714.3 1566.8,713.3 1567.4,718.9 1567.9,713.7 1568.5,714.7 1569.0,714.9 1569.6,719.8 1570.1,714.7 1570.7,714.0 1571.2,717.8 1571.8,714.4 1572.3,711.8 1572.9,717.9 1573.4,717.6 1574.0,713.3 1574.5,713.8 1575.1,716.1 1575.6,714.4 1576.2,713.4 1576.7,714.1 1577.3,719.7 1577.8,718.4 1578.4,714.4 1578.9,716.0 1579.5,716.5 1580.0,715.7 1580.6,716.2 1581.1,719.5 1581.7,715.0 1582.2,714.7 1582.8,716.0 1583.3,714.8 1583.9,715.2 1584.4,715.1 1585.0,714.1 1585.5,718.1 1586.1,714.6 1586.6,718.3 1587.2,714.2 1587.7,714.1 1588.3,716.2 1588.8,715.2 1589.4,717.3 1589.9,717.0 1590.5,720.1 1591.0,710.3 1591.6,713.8 1592.1,715.7 1592.7,715.4 1593.2,715.7 1593.8,720.7 1594.3,711.7 1594.9,717.1 1595.4,715.4 1596.0,715.9 1596.5,717.8 1597.1,715.7 1597.6,717.2 1598.2,718.1 1598.7,717.9 1599.3,712.1 1599.8,714.3 1600.4,713.0 1600.9,713.8 1601.5,714.8 1602.0,718.9 1602.6,713.7 1603.1,714.3 1603.7,714.4 1604.2,717.4 1604.8,713.4 1605.3,715.2 1605.9,715.8 1606.4,715.3 1607.0,710.4 1607.5,711.7 1608.1,715.3 1608.6,710.7 1609.2,713.5 1609.7,711.2 1610.3,714.7 1610.8,713.9 1611.4,711.1 1611.9,713.6 1612.5,712.1 1613.0,713.1 1613.6,716.5 1614.1,714.7 1614.7,714.9 1615.2,717.2 1615.8,714.6 1616.3,716.8 1616.9,715.2 1617.4,715.0 1618.0,713.9 1618.5,713.1 1619.1,712.7 1619.6,712.9 1620.2,715.6 1620.7,715.4 1621.3,713.1 1621.8,716.8 1622.4,713.4 1622.9,713.8 1623.5,712.0 1624.0,713.0 1624.6,716.0 1625.1,715.2 1625.7,713.2 1626.2,716.6 1626.8,714.2 1627.3,714.4 1627.9,716.2 1628.4,715.1 1629.0,713.7 1629.5,712.3 1630.1,716.6 1630.6,710.0 1631.2,713.1 1631.7,711.1 1632.3,713.2 1632.8,715.8 1633.4,713.7 1633.9,713.5 1634.5,714.2 1635.0,717.8 1635.6,716.7 1636.1,714.6 1636.7,713.0 1637.2,713.3 1637.8,714.6 1638.3,713.4 1638.9,713.5 1639.4,711.7 1640.0,711.0 1640.5,711.3 1641.1,713.5 1641.6,711.2 1642.2,717.2 1642.7,713.5 1643.3,713.4 1643.8,713.8 1644.4,710.0 1644.9,709.5 1645.5,710.9 1646.0,712.1 1646.6,711.8 1647.1,713.5 1647.7,712.8 1648.2,711.9 1648.8,711.7 1649.3,709.9 1649.9,710.6 1650.4,708.3 1651.0,707.7 1651.5,709.8 1652.1,705.0 1652.6,710.0 1653.2,710.5 1653.7,706.1 1654.3,707.9 1654.8,706.6 1655.4,704.2 1655.9,706.2 1656.5,706.2 1657.0,706.7 1657.6,704.0 1658.1,704.5 1658.7,702.9 1659.2,705.5 1659.8,703.3 1660.3,704.8 1660.9,701.9 1661.4,703.2 1662.0,701.3 1662.5,701.5 1663.1,704.7 1663.6,702.5 1664.2,702.8 1664.7,704.5 1665.3,702.2 1665.8,707.4 1666.4,703.3 1666.9,704.6 1667.5,709.7 1668.0,703.6 1668.6,710.3 1669.1,708.6 1669.7,709.5 1670.2,707.5 1670.8,710.2 1671.3,708.2 1671.9,712.6 1672.4,710.8 1673.0,710.4 1673.5,710.8 1674.1,711.3 1674.6,713.3 1675.2,712.3 1675.7,710.4 1676.3,710.2 1676.8,710.0 1677.4,713.1 1677.9,712.6 1678.5,709.9 1679.0,709.1 1679.6,711.8 1680.1,711.0 1680.7,712.9 1681.2,711.8 1681.8,712.7 1682.3,713.5 1682.9,713.9 1683.4,711.8 1684.0,713.4 1684.5,711.1 1685.1,710.0 1685.6,712.3 1686.2,713.8 1686.7,714.0 1687.3,711.3 1687.8,708.3 1688.4,711.6 1688.9,710.4 1689.5,711.6 1690.0,712.2 1690.6,709.5 1691.1,708.9 1691.7,709.3 1692.2,708.7 1692.8,708.1 1693.3,710.1 1693.9,708.5 1694.4,709.3 1695.0,709.2 1695.5,708.8 1696.1,710.9 1696.6,709.1 1697.2,709.9 1697.7,711.4 1698.3,709.9 1698.8,707.9 1699.4,709.6 1699.9,709.8 1700.5,711.7 1701.0,713.6 1701.6,711.3 1702.1,710.9 1702.7,713.8 1703.2,710.3 1703.8,712.2 1704.3,712.7 1704.9,712.0 1705.4,711.9 1706.0,712.7 1706.5,715.1 1707.1,713.8 1707.6,712.0 1708.2,713.7 1708.7,715.0 1709.3,716.6 1709.8,715.2 1710.4,714.4 1710.9,716.5 1711.5,715.9 1712.0,714.9 1712.6,713.8 1713.1,715.3 1713.7,717.0 1714.2,714.0 1714.8,713.4 1715.3,717.1 1715.9,714.1 1716.4,714.7 1717.0,716.8 1717.5,717.0 1718.1,717.8 1718.6,718.2 1719.2,719.0 1719.7,718.2 1720.3,717.2 1720.8,714.2 1721.4,721.0 1721.9,720.4 1722.5,720.2 1723.0,719.3 1723.6,717.9 1724.1,720.2 1724.7,719.3 1725.2,717.2 1725.8,721.1 1726.3,717.1 1726.9,718.7 1727.4,722.3 1728.0,718.1 1728.5,719.7 1729.1,721.1 1729.6,719.4 1730.2,717.1 1730.7,718.6 1731.3,719.3 1731.8,716.9 1732.4,721.6 1732.9,719.8 1733.5,720.4 1734.0,719.7 1734.6,719.9 1735.1,718.6 1735.7,716.8 1736.2,720.3 1736.8,719.2 1737.3,721.7 1737.9,717.3 1738.4,719.4 1739.0,722.7 1739.5,717.0 1740.1,717.2 1740.6,719.5 1741.2,721.9 1741.7,717.2 1742.3,719.3 1742.8,718.9 1743.4,718.3 1743.9,718.8 1744.5,721.2 1745.0,719.5 1745.6,717.2 1746.1,718.3 1746.7,719.5 1747.2,717.1 1747.8,718.3 1748.3,718.8 1748.9,716.1 1749.4,722.4 1750.0,716.9 1750.5,719.6 1751.1,719.2 1751.6,718.6 1752.2,721.5 1752.7,719.7 1753.3,718.2 1753.8,721.4 1754.4,720.5 1754.9,717.9 1755.5,717.1 1756.0,721.0 1756.6,719.4 1757.1,717.2 1757.7,720.5 1758.2,717.3 1758.8,718.5 1759.3,718.3 1759.9,716.5 1760.4,720.8 1761.0,725.3 1761.5,720.8 1762.1,720.5 1762.6,719.5 1763.2,719.8 1763.7,720.5 1764.3,721.1 1764.8,719.4 1765.4,720.4 1765.9,720.1 1766.5,721.5 1767.0,722.2 1767.6,722.6 1768.1,720.3 1768.7,720.4 1769.2,722.4 1769.8,721.1 1770.3,721.3 1770.9,722.5 1771.4,722.5 1772.0,724.1 1772.5,720.2 1773.1,724.0 1773.6,721.6 1774.2,723.4 1774.7,720.4 1775.3,722.3 1775.8,721.5 1776.4,725.3 1776.9,721.0 1777.5,724.3 1778.0,721.2 1778.6,720.7 1779.1,722.9 1779.7,724.0 1780.2,722.2 1780.8,723.2 1781.3,722.6 1781.9,722.0 1782.4,724.2 1783.0,722.0 1783.5,723.3 1784.1,720.1 1784.6,721.6 1785.2,723.3 1785.7,721.1 1786.3,718.4 1786.8,723.0 1787.4,722.7 1787.9,721.4 1788.5,722.0 1789.0,721.4 1789.6,722.6 1790.1,723.8 1790.7,722.6 1791.2,722.1 1791.8,721.6 1792.3,722.2 1792.9,721.7 1793.4,724.1 1794.0,721.1 1794.5,721.9 1795.1,723.5 1795.6,723.6 1796.2,723.5 1796.7,722.6 1797.3,723.6 1797.8,721.2 1798.4,721.1 1798.9,721.6 1799.5,724.2 1800.0,725.8 1800.6,723.0 1801.1,722.9 1801.7,723.3 1802.2,726.6 1802.8,724.2 1803.3,724.0 1803.9,723.0 1804.4,724.6 1805.0,725.8 1805.5,724.1 1806.1,722.6 1806.6,725.8 1807.2,723.8 1807.7,726.5 1808.3,722.2 1808.8,723.5 1809.4,724.2 1809.9,721.1 1810.5,723.9 1811.0,724.7 1811.6,723.6 1812.1,724.5 1812.7,724.1 1813.2,722.6 1813.8,725.1 1814.3,722.8 1814.9,723.6 1815.4,722.9 1816.0,725.1 1816.5,723.4 1817.1,723.5 1817.6,720.9 1818.2,723.8 1818.7,725.7 1819.3,721.1 1819.8,724.8 1820.4,724.2 1820.9,721.6 1821.5,723.6 1822.0,725.6 1822.6,724.2 1823.1,724.7 1823.7,725.8 1824.2,723.6 1824.8,725.4 1825.3,722.2 1825.9,722.8 1826.4,726.3 1827.0,726.1 1827.5,725.5 1828.1,721.9 1828.6,723.8 1829.2,722.8 1829.7,727.0 1830.3,722.2 1830.8,722.3 1831.4,723.4 1831.9,724.8 1832.5,723.5 1833.0,723.9 1833.6,724.9 1834.1,724.5 1834.7,721.8 1835.2,722.8 1835.8,727.1 1836.3,724.8 1836.9,727.6 1837.4,727.1 1838.0,726.7 1838.5,725.3 1839.1,727.6 1839.6,724.8 1840.2,728.9 1840.7,726.6 1841.3,726.7 1841.8,725.4 1842.4,725.2 1842.9,725.8 1843.5,725.5 1844.0,725.1 1844.6,724.8 1845.1,726.8 1845.7,728.3 1846.2,729.5 1846.8,727.8 1847.3,726.5 1847.9,727.6 1848.4,729.2 1849.0,726.9 1849.5,728.2 1850.1,727.4 1850.6,727.0 1851.2,726.0 1851.7,727.9 1852.3,725.6 1852.8,725.4 1853.4,727.3 1853.9,728.2 1854.5,728.1 1855.0,728.0 1855.6,726.3 1856.1,726.5 1856.7,728.4 1857.2,729.7 1857.8,722.8 1858.3,728.4 1858.9,727.0 1859.4,726.6 1860.0,725.6 1860.5,725.8 1861.1,725.0 1861.6,727.2 1862.2,725.4 1862.7,726.7 1863.3,724.8 1863.8,728.8 1864.4,728.2 1864.9,725.6 1865.5,728.1 1866.0,727.0 1866.6,726.4 1867.1,727.9 1867.7,729.1 1868.2,730.2 1868.8,728.5 1869.3,729.9 1869.9,729.3 1870.4,729.4 1871.0,729.9 1871.5,726.6 1872.1,728.1 1872.6,730.9 1873.2,726.9 1873.7,727.6 1874.3,731.6 1874.8,727.5 1875.4,729.2 1875.9,729.5 1876.5,728.7 1877.0,730.5 1877.6,730.5 1878.1,728.3 1878.7,731.8 1879.2,728.2 1879.8,728.8 1880.3,729.3 1880.9,729.8 1881.4,728.0 1882.0,729.9 1882.5,726.5 1883.1,728.9 1883.6,728.3 1884.2,728.6 1884.7,729.4 1885.3,729.9 1885.8,728.4 1886.4,729.5 1886.9,727.3 1887.5,728.8 1888.0,730.6 1888.6,728.3 1889.1,728.7 1889.7,729.1 1890.2,730.2 1890.8,729.6 1891.3,728.8 1891.9,727.6 1892.4,729.3 1893.0,724.9" stroke="#000000" stroke-width="14"/>
<path d="M203.9,163.7 204.5,162.4 205.0,172.0 205.6,170.7 206.1,178.0 206.7,183.9 207.2,184.5 207.8,186.9 208.3,190.3 208.9,197.1 209.4,196.8 210.0,204.2 210.5,211.4 211.1,205.9 211.6,213.3 212.2,220.6 212.7,219.7 213.3,223.5 213.8,226.2 214.4,236.3 214.9,229.6 215.5,239.0 216.0,241.6 216.6,244.9 217.1,244.9 217.7,250.3 218.2,250.9 218.8,252.3 219.3,266.1 219.9,263.6 220.4,259.4 221.0,263.4 221.5,270.1 222.1,276.4 222.6,274.3 223.2,280.5 223.7,282.2 224.3,288.8 224.8,286.6 225.4,289.2 225.9,295.9 226.5,299.1 227.0,301.4 227.6,308.2 228.1,309.5 228.7,310.5 229.2,309.2 229.8,318.1 230.3,321.6 230.9,319.5 231.4,324.1 232.0,323.6 232.5,330.4 233.1,332.1 233.6,329.8 234.2,338.3 234.7,339.9 235.3,342.6 235.8,349.8 236.4,350.6 236.9,354.6 237.5,353.3 238.0,361.3 238.6,357.0 239.1,364.3 239.7,359.4 240.2,367.3 240.8,365.5 241.3,366.3 241.9,375.4 242.4,376.1 243.0,379.4 243.5,380.2 244.1,383.3 244.6,384.8 245.2,386.9 245.7,390.5 246.3,400.2 246.8,392.2 247.4,393.3 247.9,398.0 248.5,401.6 249.0,408.4 249.6,413.2 250.1,416.3 250.7,415.0 251.2,421.1 251.8,427.9 252.3,427.2 252.9,432.6 253.4,428.6 254.0,437.9 254.5,441.0 255.1,437.9 255.6,445.5 256.2,451.3 256.7,450.7 257.3,461.0 257.8,465.5 258.4,467.2 258.9,469.1 259.5,471.3 260.0,475.3 260.6,479.7 261.1,473.5 261.7,480.2 262.2,482.0 262.8,480.0 263.3,480.3 263.9,485.5 264.4,482.7 265.0,490.8 265.5,491.2 266.1,490.6 266.6,496.2 267.2,495.5 267.7,498.0 268.3,506.2 268.8,502.0 269.4,498.3 269.9,509.7 270.5,507.3 271.0,509.9 271.6,519.8 272.1,516.5 272.7,521.4 273.2,516.1 273.8,519.1 274.3,521.6 274.9,528.4 275.4,525.7 276.0,523.3 276.5,533.8 277.1,531.4 277.6,535.0 278.2,538.9 278.7,545.1 279.3,539.6 279.8,546.5 280.4,538.5 280.9,545.1 281.5,547.1 282.0,540.5 282.6,546.0 283.1,548.3 283.7,553.8 284.2,552.0 284.8,553.6 285.3,554.2 285.9,559.3 286.4,559.0 287.0,560.3 287.5,561.1 288.1,565.5 288.6,562.3 289.2,565.8 289.7,567.2 290.3,569.7 290.8,573.0 291.4,572.0 291.9,567.8 292.5,576.5 293.0,578.3 293.6,579.7 294.1,579.4 294.7,572.7 295.2,578.4 295.8,582.4 296.3,583.4 296.9,581.5 297.4,583.2 298.0,580.2 298.5,585.9 299.1,578.9 299.6,585.9 300.2,590.6 300.7,584.6 301.3,593.5 301.8,596.7 302.4,592.9 302.9,590.5 303.5,591.4 304.0,589.9 304.6,597.0 305.1,591.8 305.7,596.7 306.2,593.3 306.8,599.2 307.3,593.7 307.9,598.3 308.4,597.0 309.0,603.1 309.5,599.0 310.1,600.3 310.6,604.9 311.2,598.1 311.7,598.2 312.3,602.5 312.8,599.9 313.4,609.1 313.9,604.7 314.5,605.7 315.0,604.3 315.6,595.8 316.1,610.7 316.7,606.7 317.2,601.1 317.8,604.7 318.3,608.6 318.9,613.2 319.4,610.8 320.0,611.3 320.5,611.5 321.1,607.9 321.6,609.0 322.2,611.4 322.7,607.2 323.3,611.8 323.8,614.0 324.4,604.2 324.9,611.1 325.5,610.9 326.0,612.0 326.6,617.2 327.1,606.9 327.7,617.4 328.2,613.1 328.8,618.6 329.3,609.1 329.9,611.1 330.4,609.2 331.0,610.9 331.5,606.0 332.1,605.9 332.6,607.5 333.2,609.7 333.7,603.0 334.3,605.7 334.8,604.3 335.4,606.9 335.9,608.2 336.5,600.3 337.0,601.5 337.6,603.2 338.1,600.7 338.7,608.3 339.2,608.8 339.8,605.5 340.3,604.4 340.9,598.9 341.4,599.0 342.0,603.2 342.5,606.3 343.1,600.0 343.6,601.8 344.2,605.8 344.7,605.9 345.3,596.8 345.8,600.7 346.4,601.9 346.9,593.9 347.5,597.4 348.0,599.3 348.6,596.7 349.1,599.8 349.7,596.6 350.2,592.1 350.8,593.3 351.3,590.1 351.9,592.4 352.4,598.2 353.0,596.9 353.5,597.3 354.1,599.5 354.6,591.4 355.2,593.2 355.7,595.0 356.3,599.7 356.8,595.1 357.4,593.6 357.9,594.9 358.5,591.0 359.0,587.5 359.6,595.5 360.1,592.6 360.7,595.5 361.2,590.2 361.8,591.2 362.3,596.6 362.9,594.8 363.4,597.3 364.0,592.0 364.5,594.5 365.1,596.5 365.6,597.2 366.2,594.1 366.7,595.2 367.3,594.0 367.8,593.9 368.4,594.2 368.9,595.9 369.5,590.1 370.0,594.4 370.6,591.3 371.1,594.7 371.7,593.9 372.2,595.5 372.8,594.2 373.3,594.7 373.9,590.9 374.4,600.1 375.0,591.4 375.5,590.0 376.1,597.5 376.6,598.5 377.2,596.6 377.7,596.2 378.3,593.9 378.8,603.8 379.4,592.7 379.9,606.0 380.5,593.8 381.0,596.1 381.6,599.1 382.1,599.0 382.7,602.6 383.2,598.9 383.8,601.2 384.3,597.9 384.9,607.6 385.4,603.5 386.0,602.9 386.5,606.2 387.1,609.9 387.6,609.0 388.2,606.4 388.7,610.0 389.3,611.5 389.8,612.6 390.4,611.2 390.9,615.2 391.5,610.3 392.0,615.1 392.6,612.9 393.1,616.6 393.7,615.3 394.2,620.2 394.8,617.5 395.3,623.5 395.9,617.5 396.4,624.6 397.0,619.4 397.5,615.0 398.1,620.6 398.6,627.4 399.2,626.1 399.7,627.8 400.3,625.8 400.8,628.9 401.4,625.4 401.9,634.9 402.5,635.2 403.0,632.3 403.6,629.7 404.1,630.2 404.7,634.9 405.2,634.8 405.8,631.4 406.3,637.3 406.9,638.3 407.4,638.0 408.0,638.1 408.5,638.2 409.1,638.1 409.6,637.7 410.2,637.4 410.7,643.9 411.3,635.7 411.8,641.7 412.4,644.8 412.9,650.1 413.5,642.3 414.0,648.6 414.6,649.1 415.1,648.8 415.7,652.5 416.2,642.1 416.8,651.3 417.3,648.7 417.9,651.2 418.4,650.1 419.0,648.6 419.5,646.1 420.1,654.1 420.6,652.7 421.2,649.9 421.7,654.4 422.3,652.0 422.8,653.3 423.4,657.3 423.9,659.9 424.5,651.8 425.0,658.3 425.6,661.1 426.1,655.7 426.7,659.3 427.2,661.9 427.8,664.5 428.3,658.4 428.9,657.5 429.4,661.3 430.0,662.3 430.5,664.4 431.1,665.3 431.6,659.5 432.2,668.7 432.7,661.7 433.3,668.7 433.8,669.9 434.4,670.2 434.9,670.4 435.5,671.2 436.0,668.1 436.6,668.5 437.1,678.5 437.7,677.3 438.2,677.1 438.8,675.9 439.3,668.7 439.9,680.3 440.4,674.0 441.0,675.1 441.5,678.1 442.1,673.9 442.6,680.6 443.2,669.1 443.7,681.2 444.3,679.3 444.8,675.3 445.4,681.2 445.9,682.6 446.5,681.8 447.0,682.6 447.6,679.2 448.1,683.8 448.7,684.2 449.2,685.3 449.8,683.7 450.3,676.6 450.9,684.1 451.4,678.5 452.0,680.6 452.5,683.0 453.1,684.3 453.6,683.1 454.2,685.4 454.7,686.3 455.3,685.5 455.8,685.5 456.4,686.6 456.9,688.0 457.5,683.0 458.0,681.4 458.6,689.9 459.1,687.2 459.7,679.6 460.2,690.9 460.8,691.3 461.3,682.0 461.9,684.4 462.4,686.9 463.0,685.0 463.5,687.3 464.1,689.5 464.6,693.2 465.2,682.4 465.7,691.1 466.3,694.7 466.8,683.7 467.4,693.0 467.9,692.1 468.5,690.8 469.0,695.5 469.6,697.6 470.1,697.2 470.7,700.6 471.2,691.8 471.8,687.7 472.3,692.9 472.9,695.3 473.4,698.7 474.0,696.8 474.5,693.2 475.1,699.7 475.6,696.9 476.2,696.3 476.7,694.9 477.3,697.0 477.8,697.6 478.4,696.0 478.9,688.2 479.5,693.2 480.0,697.6 480.6,701.4 481.1,700.3 481.7,700.2 482.2,702.4 482.8,699.2 483.3,701.5 483.9,700.7 484.4,698.4 485.0,694.9 485.5,692.7 486.1,699.7 486.6,694.5 487.2,698.4 487.7,701.4 488.3,697.0 488.8,702.5 489.4,700.0 489.9,697.1 490.5,702.1 491.0,702.8 491.6,699.1 492.1,702.5 492.7,697.4 493.2,701.6 493.8,702.4 494.3,698.2 494.9,702.1 495.4,706.6 496.0,699.9 496.5,698.5 497.1,697.6 497.6,699.9 498.2,698.9 498.7,697.2 499.3,703.1 499.8,703.9 500.4,699.8 500.9,703.2 501.5,706.2 502.0,704.4 502.6,703.9 503.1,705.6 503.7,701.3 504.2,706.4 504.8,709.7 505.3,701.5 505.9,697.6 506.4,701.4 507.0,700.6 507.5,704.6 508.1,707.9 508.6,705.9 509.2,709.7 509.7,705.6 510.3,704.4 510.8,697.9 511.4,705.5 511.9,702.1 512.5,702.5 513.0,703.3 513.6,709.4 514.1,706.9 514.7,704.1 515.2,699.3 515.8,702.5 516.3,703.0 516.9,706.6 517.4,705.4 518.0,705.3 518.5,700.4 519.1,706.4 519.6,712.0 520.2,698.6 520.7,699.6 521.3,703.1 521.8,705.9 522.4,703.5 522.9,702.9 523.5,707.3 524.0,698.8 524.6,695.6 525.1,697.2 525.7,704.7 526.2,705.0 526.8,700.6 527.3,697.1 527.9,698.9 528.4,702.8 529.0,704.7 529.5,699.4 530.1,698.7 530.6,698.3 531.2,699.3 531.7,703.4 532.3,701.8 532.8,702.4 533.4,701.5 533.9,701.8 534.5,696.9 535.0,697.7 535.6,702.3 536.1,702.5 536.7,704.7 537.2,700.9 537.8,698.3 538.3,700.4 538.9,700.2 539.4,702.6 540.0,700.3 540.5,702.4 541.1,702.3 541.6,702.2 542.2,702.2 542.7,696.8 543.3,703.6 543.8,705.0 544.4,702.1 544.9,704.4 545.5,700.3 546.0,696.9 546.6,700.1 547.1,698.0 547.7,697.4 548.2,702.7 548.8,694.3 549.3,700.5 549.9,694.8 550.4,690.6 551.0,698.1 551.5,695.6 552.1,695.4 552.6,694.9 553.2,697.0 553.7,694.0 554.3,691.2 554.8,691.0 555.4,691.9 555.9,687.8 556.5,690.0 557.0,681.3 557.6,686.5 558.1,685.8 558.7,687.2 559.2,680.4 559.8,682.3 560.3,683.3 560.9,689.8 561.4,680.0 562.0,680.1 562.5,675.0 563.1,682.2 563.6,673.2 564.2,671.8 564.7,671.6 565.3,665.7 565.8,665.4 566.4,666.3 566.9,663.8 567.5,668.6 568.0,663.0 568.6,670.8 569.1,663.8 569.7,659.7 570.2,661.8 570.8,662.7 571.3,659.8 571.9,660.6 572.4,657.8 573.0,655.6 573.5,657.3 574.1,662.8 574.6,655.7 575.2,656.4 575.7,651.5 576.3,654.0 576.8,656.8 577.4,654.4 577.9,658.9 578.5,658.1 579.0,653.5 579.6,654.5 580.1,656.8 580.7,655.8 581.2,653.9 581.8,649.2 582.3,659.7 582.9,655.8 583.4,656.7 584.0,654.5 584.5,662.0 585.1,657.5 585.6,659.1 586.2,652.8 586.7,658.3 587.3,660.2 587.8,662.2 588.4,663.6 588.9,661.3 589.5,665.6 590.0,662.4 590.6,662.5 591.1,663.3 591.7,658.3 592.2,656.8 592.8,669.8 593.3,658.8 593.9,662.6 594.4,666.5 595.0,662.8 595.5,668.6 596.1,659.1 596.6,665.9 597.2,667.6 597.7,672.6 598.3,670.5 598.8,663.7 599.4,668.8 599.9,667.1 600.5,662.4 601.0,664.7 601.6,669.6 602.1,665.4 602.7,663.4 603.2,664.4 603.8,662.4 604.3,661.4 604.9,667.5 605.4,667.8 606.0,669.6 606.5,661.5 607.1,662.8 607.6,667.7 608.2,666.8 608.7,665.8 609.3,662.7 609.8,665.5 610.4,662.1 610.9,671.4 611.5,668.9 612.0,663.7 612.6,670.8 613.1,663.8 613.7,669.0 614.2,667.9 614.8,666.3 615.3,671.9 615.9,662.7 616.4,667.0 617.0,667.2 617.5,662.9 618.1,663.9 618.6,669.2 619.2,669.8 619.7,666.1 620.3,671.1 620.8,671.0 621.4,672.2 621.9,669.2 622.5,669.8 623.0,672.1 623.6,668.6 624.1,667.8 624.7,666.8 625.2,672.2 625.8,674.6 626.3,665.0 626.9,669.9 627.4,673.1 628.0,675.4 628.5,671.6 629.1,668.2 629.6,672.9 630.2,677.8 630.7,671.6 631.3,672.5 631.8,675.6 632.4,665.4 632.9,672.4 633.5,674.2 634.0,672.4 634.6,669.6 635.1,667.6 635.7,666.7 636.2,664.0 636.8,666.1 637.3,663.6 637.9,666.6 638.4,665.9 639.0,664.4 639.5,664.5 640.1,665.6 640.6,661.3 641.2,666.7 641.7,665.0 642.3,665.9 642.8,662.7 643.4,662.8 643.9,663.5 644.5,663.1 645.0,661.3 645.6,661.0 646.1,659.9 646.7,659.9 647.2,658.1 647.8,657.3 648.3,656.0 648.9,662.5 649.4,655.4 650.0,656.4 650.5,652.9 651.1,655.5 651.6,658.0 652.2,651.2 652.7,653.2 653.3,651.8 653.8,653.9 654.4,650.4 654.9,649.8 655.5,649.0 656.0,643.4 656.6,652.1 657.1,654.0 657.7,646.4 658.2,651.5 658.8,649.0 659.3,653.5 659.9,647.6 660.4,650.7 661.0,653.5 661.5,651.4 662.1,650.6 662.6,650.0 663.2,648.6 663.7,651.1 664.3,648.0 664.8,656.2 665.4,653.1 665.9,651.2 666.5,647.3 667.0,655.3 667.6,656.4 668.1,653.9 668.7,655.3 669.2,655.5 669.8,652.8 670.3,652.2 670.9,653.4 671.4,656.8 672.0,651.4 672.5,648.4 673.1,653.5 673.6,653.5 674.2,652.9 674.7,653.7 675.3,649.7 675.8,650.6 676.4,652.1 676.9,653.0 677.5,654.8 678.0,655.4 678.6,653.9 679.1,652.9 679.7,650.4 680.2,651.9 680.8,648.6 681.3,651.2 681.9,654.6 682.4,655.0 683.0,650.3 683.5,656.8 684.1,646.4 684.6,655.3 685.2,654.0 685.7,653.9 686.3,656.0 686.8,654.0 687.4,662.4 687.9,654.8 688.5,655.7 689.0,658.2 689.6,651.9 690.1,657.8 690.7,654.4 691.2,663.2 691.8,658.2 692.3,659.8 692.9,655.4 693.4,666.8 694.0,656.8 694.5,658.2 695.1,661.0 695.6,657.1 696.2,660.6 696.7,664.0 697.3,669.1 697.8,670.0 698.4,663.9 698.9,666.4 699.5,670.8 700.0,673.0 700.6,667.6 701.1,670.0 701.7,671.4 702.2,672.4 702.8,671.9 703.3,678.6 703.9,673.1 704.4,677.8 705.0,676.4 705.5,685.9 706.1,680.2 706.6,670.4 707.2,678.6 707.7,671.0 708.3,681.7 708.8,677.2 709.4,672.3 709.9,676.1 710.5,678.6 711.0,684.5 711.6,681.0 712.1,682.7 712.7,679.8 713.2,680.9 713.8,678.4 714.3,682.3 714.9,683.2 715.4,684.4 716.0,682.7 716.5,685.1 717.1,685.0 717.6,687.7 718.2,685.5 718.7,686.2 719.3,685.9 719.8,687.0 720.4,688.8 720.9,687.1 721.5,694.4 722.0,694.3 722.6,692.8 723.1,694.4 723.7,688.8 724.2,691.0 724.8,691.9 725.3,694.4 725.9,696.5 726.4,697.0 727.0,690.3 727.5,694.9 728.1,698.7 728.6,694.8 729.2,697.3 729.7,691.1 730.3,696.6 730.8,696.0 731.4,691.0 731.9,699.8 732.5,701.8 733.0,700.5 733.6,697.3 734.1,698.2 734.7,697.0 735.2,701.2 735.8,701.1 736.3,704.4 736.9,700.3 737.4,703.5 738.0,700.3 738.5,699.2 739.1,701.6 739.6,699.3 740.2,699.6 740.7,704.7 741.3,704.8 741.8,700.5 742.4,700.4 742.9,702.7 743.5,701.2 744.0,705.8 744.6,702.8 745.1,699.9 745.7,701.5 746.2,705.5 746.8,710.5 747.3,706.0 747.9,700.4 748.4,701.8 749.0,705.2 749.5,704.3 750.1,705.3 750.6,711.1 751.2,701.9 751.7,702.2 752.3,705.1 752.8,705.5 753.4,706.2 753.9,708.1 754.5,705.7 755.0,709.1 755.6,706.6 756.1,707.3 756.7,701.1 757.2,703.8 757.8,705.5 758.3,708.8 758.9,705.0 759.4,704.1 760.0,704.9 760.5,712.6 761.1,703.0 761.6,708.3 762.2,707.9 762.7,712.2 763.3,710.1 763.8,707.2 764.4,710.9 764.9,712.3 765.5,707.5 766.0,703.6 766.6,705.2 767.1,709.1 767.7,706.0 768.2,709.6 768.8,712.9 769.3,710.2 769.9,716.5 770.4,709.7 771.0,706.6 771.5,711.2 772.1,713.9 772.6,707.0 773.2,712.9 773.7,716.9 774.3,712.9 774.8,718.2 775.4,708.5 775.9,715.1 776.5,708.7 777.0,708.9 777.6,710.2 778.1,718.2 778.7,716.3 779.2,720.0 779.8,713.5 780.3,711.2 780.9,719.3 781.4,714.8 782.0,712.6 782.5,719.8 783.1,720.8 783.6,715.4 784.2,718.4 784.7,719.7 785.3,715.3 785.8,715.8 786.4,719.3 786.9,723.5 787.5,715.6 788.0,721.2 788.6,720.6 789.1,719.6 789.7,718.5 790.2,716.7 790.8,721.5 791.3,719.3 791.9,712.2 792.4,721.1 793.0,717.9 793.5,720.1 794.1,727.1 794.6,722.2 795.2,715.0 795.7,720.3 796.3,718.4 796.8,725.4 797.4,712.3 797.9,724.6 798.5,723.3 799.0,722.3 799.6,725.0 800.1,729.5 800.7,718.4 801.2,722.9 801.8,724.6 802.3,725.0 802.9,724.3 803.4,726.8 804.0,725.9 804.5,724.3 805.1,720.0 805.6,728.1 806.2,730.7 806.7,730.0 807.3,727.8 807.8,730.4 808.4,722.2 808.9,729.5 809.5,728.3 810.0,727.2 810.6,731.1 811.1,727.2 811.7,726.8 812.2,725.0 812.8,722.7 813.3,727.3 813.9,734.4 814.4,735.0 815.0,727.6 815.5,730.3 816.1,734.8 816.6,727.1 817.2,729.2 817.7,726.5 818.3,736.2 818.8,729.5 819.4,730.6 819.9,731.9 820.5,729.7 821.0,740.7 821.6,736.6 822.1,740.0 822.7,727.2 823.2,736.4 823.8,733.8 824.3,731.1 824.9,735.2 825.4,740.4 826.0,739.3 826.5,734.2 827.1,747.0 827.6,740.0 828.2,734.0 828.7,734.1 829.3,734.9 829.8,736.8 830.4,735.5 830.9,735.2 831.5,740.3 832.0,735.3 832.6,737.8 833.1,735.5 833.7,736.7 834.2,741.3 834.8,737.7 835.3,740.1 835.9,737.5 836.4,741.3 837.0,737.8 837.5,741.6 838.1,734.1 838.6,741.8 839.2,739.9 839.7,735.7 840.3,736.6 840.8,732.7 841.4,738.3 841.9,739.9 842.5,737.9 843.0,743.1 843.6,733.1 844.1,739.5 844.7,736.5 845.2,739.0 845.8,743.6 846.3,741.1 846.9,746.1 847.4,740.5 848.0,739.8 848.5,741.2 849.1,737.7 849.6,739.8 850.2,742.6 850.7,746.0 851.3,740.1 851.8,740.6 852.4,738.7 852.9,739.5 853.5,743.9 854.0,744.4 854.6,745.5 855.1,743.8 855.7,748.1 856.2,739.4 856.8,745.0 857.3,747.3 857.9,744.3 858.4,746.9 859.0,744.9 859.5,744.6 860.1,746.4 860.6,744.0 861.2,746.1 861.7,748.3 862.3,743.0 862.8,748.9 863.4,750.6 863.9,752.3 864.5,746.3 865.0,751.1 865.6,741.8 866.1,743.5 866.7,748.3 867.2,744.8 867.8,745.6 868.3,745.6 868.9,748.1 869.4,747.3 870.0,746.6 870.5,749.8 871.1,748.6 871.6,750.6 872.2,751.9 872.7,753.1 873.3,751.0 873.8,750.7 874.4,751.1 874.9,749.4 875.5,754.6 876.0,753.3 876.6,757.1 877.1,755.1 877.7,753.0 878.2,757.5 878.8,754.2 879.3,755.2 879.9,757.2 880.4,756.8 881.0,754.0 881.5,758.8 882.1,758.1 882.6,757.1 883.2,756.8 883.7,758.4 884.3,753.2 884.8,762.1 885.4,750.5 885.9,755.3 886.5,755.5 887.0,759.9 887.6,758.9 888.1,760.0 888.7,755.3 889.2,762.8 889.8,762.0 890.3,752.9 890.9,760.0 891.4,753.5 892.0,757.8 892.5,761.3 893.1,759.7 893.6,755.7 894.2,757.9 894.7,763.3 895.3,760.6 895.8,762.4 896.4,755.1 896.9,762.0 897.5,761.2 898.0,757.8 898.6,765.2 899.1,760.9 899.7,763.8 900.2,759.7 900.8,762.6 901.3,763.2 901.9,761.3 902.4,762.2 903.0,762.9 903.5,761.9 904.1,758.4 904.6,763.5 905.2,762.2 905.7,763.5 906.3,760.4 906.8,767.7 907.4,766.0 907.9,767.6 908.5,769.3 909.0,766.7 909.6,763.0 910.1,760.2 910.7,767.7 911.2,765.2 911.8,767.1 912.3,768.8 912.9,764.5 913.4,762.4 914.0,766.7 914.5,764.3 915.1,763.3 915.6,767.3 916.2,765.6 916.7,768.1 917.3,763.5 917.8,766.6 918.4,766.4 918.9,767.3 919.5,765.7 920.0,769.7 920.6,763.4 921.1,769.2 921.7,771.3 922.2,767.9 922.8,768.2 923.3,765.7 923.9,768.8 924.4,769.3 925.0,768.4 925.5,769.0 926.1,769.4 926.6,768.4 927.2,762.1 927.7,764.1 928.3,767.1 928.8,773.8 929.4,770.5 929.9,767.0 930.5,766.4 931.0,765.6 931.6,768.6 932.1,765.8 932.7,766.8 933.2,764.0 933.8,765.3 934.3,763.5 934.9,764.0 935.4,765.2 936.0,769.5 936.5,766.8 937.1,768.5 937.6,763.6 938.2,765.4 938.7,762.3 939.3,763.1 939.8,762.6 940.4,757.7 940.9,762.1 941.5,757.8 942.0,762.2 942.6,758.3 943.1,754.8 943.7,755.3 944.2,755.6 944.8,761.9 945.3,753.2 945.9,755.2 946.4,756.2 947.0,754.6 947.5,754.4 948.1,756.0 948.6,751.3 949.2,758.0 949.7,756.3 950.3,752.3 950.8,755.1 951.4,750.9 951.9,748.7 952.5,745.8 953.0,746.9 953.6,750.0 954.1,748.8 954.7,752.1 955.2,751.4 955.8,749.0 956.3,746.2 956.9,750.6 957.4,744.7 958.0,737.2 958.5,743.0 959.1,744.7 959.6,744.6 960.2,744.1 960.7,744.2 961.3,733.7 961.8,747.7 962.4,742.0 962.9,740.1 963.5,733.5 964.0,741.2 964.6,735.1 965.1,731.6 965.7,738.7 966.2,738.0 966.8,735.4 967.3,732.5 967.9,735.9 968.4,734.3 969.0,734.7 969.5,734.4 970.1,728.2 970.6,733.7 971.2,728.2 971.7,733.1 972.3,730.3 972.8,729.6 973.4,735.8 973.9,731.2 974.5,730.9 975.0,732.4 975.6,736.3 976.1,720.9 976.7,730.7 977.2,729.0 977.8,732.0 978.3,728.4 978.9,727.9 979.4,729.6 980.0,727.5 980.5,724.8 981.1,727.5 981.6,733.0 982.2,729.3 982.7,720.7 983.3,727.4 983.8,725.2 984.4,731.3 984.9,725.4 985.5,729.0 986.0,731.2 986.6,732.7 987.1,728.7 987.7,731.9 988.2,738.4 988.8,730.0 989.3,732.7 989.9,730.6 990.4,733.3 991.0,736.1 991.5,735.4 992.1,737.9 992.6,732.6 993.2,737.6 993.7,736.8 994.3,729.5 994.8,742.1 995.4,739.4 995.9,737.6 996.5,742.9 997.0,741.6 997.6,733.0 998.1,741.9 998.7,748.0 999.2,741.8 999.8,743.6 1000.3,736.1 1000.9,736.6 1001.4,737.1 1002.0,745.0 1002.5,744.6 1003.1,734.2 1003.6,744.8 1004.2,735.7 1004.7,737.8 1005.3,741.9 1005.8,740.2 1006.4,742.2 1006.9,743.1 1007.5,746.1 1008.0,741.2 1008.6,740.8 1009.1,740.9 1009.7,750.7 1010.2,747.2 1010.8,747.7 1011.3,746.1 1011.9,745.6 1012.4,749.9 1013.0,746.0 1013.5,742.5 1014.1,743.2 1014.6,756.8 1015.2,747.0 1015.7,749.2 1016.3,751.9 1016.8,756.8 1017.4,751.3 1017.9,755.2 1018.5,758.1 1019.0,754.1 1019.6,759.2 1020.1,763.2 1020.7,761.5 1021.2,761.8 1021.8,763.6 1022.3,762.6 1022.9,762.0 1023.4,762.4 1024.0,767.1 1024.5,760.2 1025.1,762.1 1025.6,768.7 1026.2,770.5 1026.7,767.8 1027.3,765.5 1027.8,763.7 1028.4,770.8 1028.9,770.1 1029.5,771.0 1030.0,771.7 1030.6,767.8 1031.1,769.0 1031.7,771.4 1032.2,771.6 1032.8,767.6 1033.3,769.1 1033.9,772.6 1034.4,777.7 1035.0,781.0 1035.5,775.0 1036.1,773.6 1036.6,775.8 1037.2,775.4 1037.7,773.0 1038.3,766.1 1038.8,776.6 1039.4,774.5 1039.9,776.5 1040.5,774.0 1041.0,776.2 1041.6,778.0 1042.1,773.9 1042.7,776.0 1043.2,780.3 1043.8,781.0 1044.3,773.8 1044.9,781.7 1045.4,783.4 1046.0,781.1 1046.5,781.5 1047.1,780.8 1047.6,781.7 1048.2,779.4 1048.7,784.7 1049.3,781.1 1049.8,777.0 1050.4,782.9 1050.9,784.1 1051.5,782.7 1052.0,778.7 1052.6,783.4 1053.1,773.3 1053.7,786.6 1054.2,783.3 1054.8,776.5 1055.3,775.7 1055.9,788.6 1056.4,782.4 1057.0,779.7 1057.5,782.8 1058.1,781.2 1058.6,781.3 1059.2,782.8 1059.7,782.9 1060.3,779.1 1060.8,783.1 1061.4,782.9 1061.9,779.6 1062.5,785.3 1063.0,784.2 1063.6,779.9 1064.1,788.1 1064.7,784.7 1065.2,787.3 1065.8,781.4 1066.3,782.4 1066.9,784.3 1067.4,782.5 1068.0,783.7 1068.5,780.4 1069.1,790.5 1069.6,786.4 1070.2,788.8 1070.7,790.2 1071.3,785.4 1071.8,791.4 1072.4,779.3 1072.9,785.1 1073.5,784.8 1074.0,786.4 1074.6,783.5 1075.1,789.4 1075.7,792.7 1076.2,788.1 1076.8,789.3 1077.3,781.8 1077.9,786.0 1078.4,789.4 1079.0,786.6 1079.5,789.6 1080.1,787.9 1080.6,790.2 1081.2,785.6 1081.7,791.1 1082.3,793.9 1082.8,792.0 1083.4,796.2 1083.9,790.2 1084.5,793.1 1085.0,787.2 1085.6,793.6 1086.1,792.5 1086.7,790.5 1087.2,794.4 1087.8,788.2 1088.3,790.8 1088.9,792.4 1089.4,788.9 1090.0,789.0 1090.5,794.5 1091.1,790.9 1091.6,789.1 1092.2,790.8 1092.7,790.6 1093.3,790.2 1093.8,793.4 1094.4,789.7 1094.9,788.7 1095.5,793.0 1096.0,792.9 1096.6,796.5 1097.1,789.9 1097.7,792.1 1098.2,796.5 1098.8,794.9 1099.3,792.6 1099.9,792.1 1100.4,796.4 1101.0,794.6 1101.5,792.7 1102.1,793.9 1102.6,794.2 1103.2,797.9 1103.7,788.9 1104.3,794.3 1104.8,799.2 1105.4,791.7 1105.9,795.7 1106.5,798.9 1107.0,793.4 1107.6,795.6 1108.1,795.0 1108.7,798.0 1109.2,796.0 1109.8,795.2 1110.3,798.4 1110.9,799.0 1111.4,801.6 1112.0,797.8 1112.5,798.7 1113.1,797.8 1113.6,802.5 1114.2,802.8 1114.7,797.8 1115.3,794.5 1115.8,805.2 1116.4,795.5 1116.9,796.0 1117.5,799.2 1118.0,805.7 1118.6,803.8 1119.1,800.4 1119.7,803.0 1120.2,800.9 1120.8,804.3 1121.3,800.4 1121.9,805.8 1122.4,803.2 1123.0,800.4 1123.5,797.5 1124.1,805.0 1124.6,803.4 1125.2,799.6 1125.7,799.9 1126.3,801.0 1126.8,801.4 1127.4,801.9 1127.9,802.3 1128.5,802.4 1129.0,801.0 1129.6,807.7 1130.1,801.9 1130.7,801.0 1131.2,804.1 1131.8,800.6 1132.3,804.0 1132.9,803.3 1133.4,805.6 1134.0,800.6 1134.5,798.4 1135.1,806.1 1135.6,802.8 1136.2,807.7 1136.7,805.2 1137.3,802.3 1137.8,804.3 1138.4,800.6 1138.9,801.1 1139.5,803.6 1140.0,804.0 1140.6,799.5 1141.1,805.7 1141.7,805.1 1142.2,806.4 1142.8,800.3 1143.3,805.4 1143.9,802.5 1144.4,802.9 1145.0,806.7 1145.5,804.3 1146.1,805.6 1146.6,806.4 1147.2,807.0 1147.7,802.1 1148.3,802.0 1148.8,805.2 1149.4,805.7 1149.9,802.7 1150.5,805.4 1151.0,802.3 1151.6,803.8 1152.1,804.2 1152.7,805.0 1153.2,806.1 1153.8,803.7 1154.3,804.9 1154.9,802.5 1155.4,806.4 1156.0,806.0 1156.5,803.4 1157.1,809.4 1157.6,804.7 1158.2,804.3 1158.7,804.1 1159.3,806.1 1159.8,805.7 1160.4,803.9 1160.9,806.7 1161.5,808.2 1162.0,809.3 1162.6,807.3 1163.1,805.4 1163.7,804.4 1164.2,807.6 1164.8,809.4 1165.3,811.8 1165.9,805.9 1166.4,804.1 1167.0,804.4 1167.5,807.6 1168.1,808.3 1168.6,805.1 1169.2,804.0 1169.7,802.3 1170.3,808.5 1170.8,803.2 1171.4,808.2 1171.9,806.4 1172.5,802.2 1173.0,804.2 1173.6,809.3 1174.1,807.1 1174.7,806.6 1175.2,810.2 1175.8,807.3 1176.3,807.8 1176.9,807.9 1177.4,808.0 1178.0,810.5 1178.5,806.8 1179.1,810.8 1179.6,811.9 1180.2,807.3 1180.7,809.7 1181.3,806.0 1181.8,809.0 1182.4,811.9 1182.9,811.3 1183.5,808.3 1184.0,810.7 1184.6,810.6 1185.1,809.9 1185.7,810.1 1186.2,814.4 1186.8,803.8 1187.3,808.7 1187.9,812.2 1188.4,810.0 1189.0,811.2 1189.5,811.2 1190.1,810.1 1190.6,810.7 1191.2,809.0 1191.7,810.9 1192.3,812.8 1192.8,813.4 1193.4,812.4 1193.9,810.6 1194.5,810.4 1195.0,807.4 1195.6,810.9 1196.1,809.2 1196.7,809.8 1197.2,810.7 1197.8,811.6 1198.3,811.8 1198.9,811.6 1199.4,808.9 1200.0,810.5 1200.5,813.1 1201.1,811.3 1201.6,812.5 1202.2,811.7 1202.7,815.1 1203.3,815.5 1203.8,817.7 1204.4,811.0 1204.9,813.7 1205.5,809.0 1206.0,813.7 1206.6,813.1 1207.1,811.3 1207.7,815.6 1208.2,812.7 1208.8,808.9 1209.3,815.9 1209.9,812.8 1210.4,814.5 1211.0,811.3 1211.5,811.1 1212.1,810.2 1212.6,810.6 1213.2,814.9 1213.7,814.6 1214.3,809.7 1214.8,813.5 1215.4,813.7 1215.9,812.0 1216.5,814.5 1217.0,812.1 1217.6,816.2 1218.1,813.4 1218.7,814.5 1219.2,806.2 1219.8,813.1 1220.3,814.2 1220.9,812.8 1221.4,813.7 1222.0,812.1 1222.5,816.3 1223.1,812.0 1223.6,813.7 1224.2,817.7 1224.7,817.2 1225.3,814.5 1225.8,811.8 1226.4,810.4 1226.9,815.8 1227.5,815.4 1228.0,814.3 1228.6,814.3 1229.1,819.8 1229.7,817.1 1230.2,815.2 1230.8,814.8 1231.3,814.5 1231.9,816.0 1232.4,814.7 1233.0,815.6 1233.5,814.3 1234.1,817.0 1234.6,815.9 1235.2,812.8 1235.7,821.9 1236.3,816.0 1236.8,814.3 1237.4,812.6 1237.9,815.6 1238.5,814.0 1239.0,819.3 1239.6,816.7 1240.1,814.2 1240.7,811.6 1241.2,817.4 1241.8,811.8 1242.3,816.7 1242.9,816.0 1243.4,809.5 1244.0,815.1 1244.5,819.4 1245.1,813.7 1245.6,810.7 1246.2,811.9 1246.7,815.6 1247.3,816.4 1247.8,817.6 1248.4,816.4 1248.9,813.6 1249.5,814.8 1250.0,815.3 1250.6,815.5 1251.1,813.0 1251.7,817.3 1252.2,818.3 1252.8,815.6 1253.3,816.3 1253.9,813.1 1254.4,816.5 1255.0,814.2 1255.5,814.1 1256.1,817.9 1256.6,816.5 1257.2,815.2 1257.7,812.6 1258.3,816.4 1258.8,820.1 1259.4,817.2 1259.9,817.1 1260.5,819.4 1261.0,821.5 1261.6,818.2 1262.1,819.3 1262.7,817.5 1263.2,818.3 1263.8,818.3 1264.3,819.9 1264.9,816.4 1265.4,818.3 1266.0,818.3 1266.5,817.5 1267.1,816.4 1267.6,819.7 1268.2,817.0 1268.7,814.5 1269.3,819.6 1269.8,814.8 1270.4,819.8 1270.9,812.4 1271.5,818.1 1272.0,822.2 1272.6,817.7 1273.1,820.8 1273.7,817.4 1274.2,816.6 1274.8,817.7 1275.3,820.5 1275.9,821.3 1276.4,821.7 1277.0,820.6 1277.5,818.6 1278.1,814.3 1278.6,817.1 1279.2,822.3 1279.7,815.4 1280.3,820.2 1280.8,820.2 1281.4,815.6 1281.9,820.2 1282.5,818.7 1283.0,820.1 1283.6,819.6 1284.1,819.5 1284.7,818.0 1285.2,815.7 1285.8,824.3 1286.3,818.5 1286.9,820.0 1287.4,819.9 1288.0,820.2 1288.5,819.3 1289.1,822.3 1289.6,821.1 1290.2,820.1 1290.7,819.9 1291.3,822.4 1291.8,819.2 1292.4,822.5 1292.9,824.3 1293.5,823.7 1294.0,822.5 1294.6,817.6 1295.1,822.9 1295.7,821.8 1296.2,824.2 1296.8,820.0 1297.3,820.2 1297.9,824.4 1298.4,819.4 1299.0,823.8 1299.5,822.1 1300.1,815.9 1300.6,820.4 1301.2,820.4 1301.7,818.6 1302.3,817.4 1302.8,821.9 1303.4,819.6 1303.9,820.5 1304.5,820.0 1305.0,821.7 1305.6,823.4 1306.1,824.2 1306.7,823.7 1307.2,821.8 1307.8,822.4 1308.3,824.1 1308.9,825.7 1309.4,822.9 1310.0,820.3 1310.5,823.9 1311.1,824.8 1311.6,822.4 1312.2,826.2 1312.7,822.6 1313.3,823.8 1313.8,824.8 1314.4,827.6 1314.9,821.6 1315.5,825.5 1316.0,826.2 1316.6,824.3 1317.1,827.0 1317.7,823.4 1318.2,822.4 1318.8,822.4 1319.3,823.7 1319.9,823.0 1320.4,826.6 1321.0,825.6 1321.5,822.5 1322.1,829.2 1322.6,826.3 1323.2,822.2 1323.7,821.8 1324.3,826.0 1324.8,828.9 1325.4,825.3 1325.9,828.1 1326.5,829.6 1327.0,827.6 1327.6,825.4 1328.1,823.2 1328.7,824.7 1329.2,829.2 1329.8,826.4 1330.3,824.2 1330.9,825.6 1331.4,826.2 1332.0,829.2 1332.5,825.6 1333.1,831.1 1333.6,827.6 1334.2,828.0 1334.7,824.8 1335.3,828.3 1335.8,828.1 1336.4,829.2 1336.9,826.1 1337.5,828.2 1338.0,824.4 1338.6,825.6 1339.1,833.0 1339.7,826.9 1340.2,826.3 1340.8,830.0 1341.3,827.7 1341.9,833.8 1342.4,828.3 1343.0,829.7 1343.5,827.7 1344.1,830.8 1344.6,828.5 1345.2,834.4 1345.7,826.9 1346.3,829.6 1346.8,830.2 1347.4,826.2 1347.9,827.6 1348.5,827.1 1349.0,825.1 1349.6,829.5 1350.1,822.6 1350.7,826.1 1351.2,826.4 1351.8,829.5 1352.3,828.6 1352.9,831.2 1353.4,831.6 1354.0,829.3 1354.5,826.9 1355.1,830.6 1355.6,827.4 1356.2,828.3 1356.7,829.1 1357.3,832.3 1357.8,834.8 1358.4,831.8 1358.9,828.1 1359.5,831.2 1360.0,831.9 1360.6,827.3 1361.1,829.5 1361.7,827.7 1362.2,827.8 1362.8,829.4 1363.3,829.5 1363.9,827.5 1364.4,829.2 1365.0,826.5 1365.5,828.7 1366.1,829.4 1366.6,828.0 1367.2,825.7 1367.7,827.3 1368.3,829.8 1368.8,831.0 1369.4,830.9 1369.9,831.0 1370.5,832.6 1371.0,827.9 1371.6,831.3 1372.1,827.1 1372.7,832.6 1373.2,831.0 1373.8,826.8 1374.3,830.5 1374.9,831.2 1375.4,827.4 1376.0,830.0 1376.5,831.2 1377.1,833.4 1377.6,828.4 1378.2,833.0 1378.7,827.8 1379.3,828.3 1379.8,833.1 1380.4,832.0 1380.9,828.9 1381.5,833.9 1382.0,831.9 1382.6,831.4 1383.1,830.5 1383.7,825.8 1384.2,831.4 1384.8,833.5 1385.3,831.5 1385.9,833.3 1386.4,831.7 1387.0,834.9 1387.5,826.0 1388.1,833.3 1388.6,830.5 1389.2,833.0 1389.7,834.1 1390.3,835.3 1390.8,834.7 1391.4,835.7 1391.9,831.2 1392.5,833.7 1393.0,829.0 1393.6,834.4 1394.1,830.3 1394.7,836.1 1395.2,834.3 1395.8,833.4 1396.3,832.7 1396.9,834.5 1397.4,832.9 1398.0,831.2 1398.5,835.1 1399.1,832.5 1399.6,835.4 1400.2,832.5 1400.7,832.0 1401.3,839.3 1401.8,836.0 1402.4,837.3 1402.9,834.3 1403.5,834.8 1404.0,835.0 1404.6,839.1 1405.1,836.5 1405.7,835.3 1406.2,835.1 1406.8,835.3 1407.3,837.4 1407.9,835.3 1408.4,835.3 1409.0,838.0 1409.5,837.2 1410.1,836.8 1410.6,839.2 1411.2,834.9 1411.7,832.8 1412.3,831.8 1412.8,835.0 1413.4,835.7 1413.9,837.2 1414.5,832.3 1415.0,832.5 1415.6,834.8 1416.1,834.7 1416.7,832.4 1417.2,835.0 1417.8,836.8 1418.3,834.9 1418.9,840.3 1419.4,837.0 1420.0,833.9 1420.5,835.1 1421.1,832.7 1421.6,840.1 1422.2,835.1 1422.7,835.1 1423.3,837.2 1423.8,835.0 1424.4,834.4 1424.9,835.6 1425.5,837.8 1426.0,837.8 1426.6,832.8 1427.1,832.3 1427.7,836.5 1428.2,834.9 1428.8,834.5 1429.3,837.6 1429.9,836.3 1430.4,834.3 1431.0,836.5 1431.5,833.7 1432.1,834.1 1432.6,838.9 1433.2,834.5 1433.7,836.1 1434.3,834.3 1434.8,834.2 1435.4,832.5 1435.9,832.4 1436.5,837.2 1437.0,839.1 1437.6,836.0 1438.1,835.7 1438.7,833.4 1439.2,834.3 1439.8,837.5 1440.3,839.7 1440.9,835.8 1441.4,835.2 1442.0,836.6 1442.5,834.6 1443.1,832.7 1443.6,832.4 1444.2,833.6 1444.7,833.3 1445.3,829.3 1445.8,830.4 1446.4,835.6 1446.9,835.9 1447.5,835.5 1448.0,833.4 1448.6,832.4 1449.1,833.6 1449.7,834.3 1450.2,832.7 1450.8,835.9 1451.3,832.3 1451.9,828.9 1452.4,835.1 1453.0,835.6 1453.5,833.4 1454.1,836.0 1454.6,836.4 1455.2,828.9 1455.7,835.0 1456.3,831.8 1456.8,835.8 1457.4,835.0 1457.9,836.3 1458.5,834.2 1459.0,833.6 1459.6,835.5 1460.1,839.9 1460.7,835.9 1461.2,833.0 1461.8,835.1 1462.3,834.8 1462.9,837.9 1463.4,835.6 1464.0,834.8 1464.5,835.8 1465.1,834.0 1465.6,836.4 1466.2,833.3 1466.7,834.6 1467.3,835.9 1467.8,832.8 1468.4,832.8 1468.9,834.0 1469.5,838.4 1470.0,837.2 1470.6,835.6 1471.1,837.5 1471.7,837.2 1472.2,834.3 1472.8,833.3 1473.3,837.9 1473.9,834.1 1474.4,836.7 1475.0,832.3 1475.5,835.2 1476.1,832.9 1476.6,836.6 1477.2,836.8 1477.7,836.0 1478.3,836.7 1478.8,834.0 1479.4,835.8 1479.9,836.0 1480.5,833.0 1481.0,835.8 1481.6,835.0 1482.1,835.3 1482.7,833.7 1483.2,834.0 1483.8,834.9 1484.3,834.0 1484.9,834.7 1485.4,830.8 1486.0,835.2 1486.5,831.6 1487.1,835.1 1487.6,830.0 1488.2,831.4 1488.7,833.0 1489.3,833.0 1489.8,831.0 1490.4,829.7 1490.9,832.3 1491.5,832.8 1492.0,828.5 1492.6,827.5 1493.1,828.2 1493.7,828.8 1494.2,825.2 1494.8,826.3 1495.3,829.3 1495.9,826.2 1496.4,826.0 1497.0,830.5 1497.5,829.7 1498.1,830.9 1498.6,827.8 1499.2,827.8 1499.7,827.6 1500.3,825.9 1500.8,825.1 1501.4,829.4 1501.9,828.5 1502.5,831.8 1503.0,832.9 1503.6,828.5 1504.1,829.2 1504.7,832.7 1505.2,835.3 1505.8,836.0 1506.3,831.8 1506.9,833.5 1507.4,836.4 1508.0,832.4 1508.5,832.2 1509.1,837.0 1509.6,833.2 1510.2,832.5 1510.7,838.1 1511.3,834.4 1511.8,834.6 1512.4,836.7 1512.9,838.6 1513.5,837.3 1514.0,836.3 1514.6,836.7 1515.1,836.8 1515.7,836.6 1516.2,832.8 1516.8,836.8 1517.3,833.7 1517.9,834.9 1518.4,836.7 1519.0,836.3 1519.5,837.4 1520.1,836.7 1520.6,837.8 1521.2,840.5 1521.7,835.0 1522.3,839.3 1522.8,840.9 1523.4,836.6 1523.9,836.9 1524.5,837.5 1525.0,838.7 1525.6,836.6 1526.1,837.3 1526.7,838.1 1527.2,838.3 1527.8,841.0 1528.3,837.4 1528.9,840.0 1529.4,840.0 1530.0,838.9 1530.5,838.9 1531.1,837.1 1531.6,837.3 1532.2,839.4 1532.7,839.2 1533.3,838.3 1533.8,841.0 1534.4,839.1 1534.9,839.0 1535.5,838.6 1536.0,841.0 1536.6,840.0 1537.1,839.6 1537.7,836.6 1538.2,842.2 1538.8,836.4 1539.3,839.8 1539.9,836.8 1540.4,836.1 1541.0,833.0 1541.5,839.3 1542.1,839.5 1542.6,838.3 1543.2,838.0 1543.7,836.3 1544.3,838.8 1544.8,838.3 1545.4,836.0 1545.9,837.9 1546.5,838.2 1547.0,836.7 1547.6,840.9 1548.1,836.3 1548.7,842.5 1549.2,841.0 1549.8,838.0 1550.3,842.0 1550.9,841.1 1551.4,841.4 1552.0,839.4 1552.5,837.3 1553.1,835.2 1553.6,839.7 1554.2,839.0 1554.7,838.2 1555.3,843.2 1555.8,840.3 1556.4,836.5 1556.9,839.1 1557.5,840.3 1558.0,837.0 1558.6,839.7 1559.1,838.7 1559.7,836.5 1560.2,840.0 1560.8,840.5 1561.3,834.3 1561.9,839.9 1562.4,838.0 1563.0,838.4 1563.5,835.9 1564.1,837.1 1564.6,842.2 1565.2,840.2 1565.7,838.6 1566.3,839.1 1566.8,837.4 1567.4,838.7 1567.9,837.3 1568.5,839.4 1569.0,836.9 1569.6,839.4 1570.1,840.5 1570.7,838.6 1571.2,839.6 1571.8,839.8 1572.3,838.3 1572.9,836.8 1573.4,841.4 1574.0,839.7 1574.5,839.0 1575.1,841.9 1575.6,838.1 1576.2,838.7 1576.7,838.4 1577.3,837.8 1577.8,839.4 1578.4,838.5 1578.9,842.2 1579.5,838.4 1580.0,841.9 1580.6,837.9 1581.1,838.9 1581.7,839.5 1582.2,837.8 1582.8,840.5 1583.3,838.1 1583.9,837.9 1584.4,840.3 1585.0,837.6 1585.5,840.0 1586.1,840.7 1586.6,840.1 1587.2,841.1 1587.7,837.7 1588.3,840.6 1588.8,837.2 1589.4,835.1 1589.9,837.7 1590.5,841.4 1591.0,836.0 1591.6,840.9 1592.1,835.1 1592.7,839.2 1593.2,838.4 1593.8,836.6 1594.3,833.3 1594.9,838.5 1595.4,838.4 1596.0,838.1 1596.5,839.0 1597.1,835.7 1597.6,840.8 1598.2,838.8 1598.7,835.7 1599.3,841.0 1599.8,837.1 1600.4,837.9 1600.9,838.5 1601.5,835.4 1602.0,835.4 1602.6,836.7 1603.1,834.9 1603.7,836.5 1604.2,839.3 1604.8,834.8 1605.3,836.9 1605.9,835.7 1606.4,838.2 1607.0,834.5 1607.5,834.5 1608.1,836.1 1608.6,839.9 1609.2,834.4 1609.7,832.9 1610.3,834.1 1610.8,837.0 1611.4,837.2 1611.9,835.3 1612.5,835.6 1613.0,832.5 1613.6,835.5 1614.1,834.3 1614.7,833.3 1615.2,836.0 1615.8,835.9 1616.3,833.0 1616.9,834.0 1617.4,830.0 1618.0,831.4 1618.5,835.4 1619.1,830.9 1619.6,831.0 1620.2,834.5 1620.7,828.3 1621.3,831.0 1621.8,833.3 1622.4,831.1 1622.9,830.2 1623.5,829.7 1624.0,831.8 1624.6,829.6 1625.1,831.7 1625.7,830.7 1626.2,830.8 1626.8,832.6 1627.3,829.7 1627.9,828.6 1628.4,830.1 1629.0,830.4 1629.5,829.4 1630.1,826.6 1630.6,830.6 1631.2,826.1 1631.7,825.5 1632.3,830.5 1632.8,831.3 1633.4,828.0 1633.9,826.8 1634.5,830.5 1635.0,825.5 1635.6,827.6 1636.1,826.4 1636.7,828.3 1637.2,827.5 1637.8,825.4 1638.3,828.5 1638.9,827.6 1639.4,826.1 1640.0,825.3 1640.5,825.5 1641.1,823.1 1641.6,824.7 1642.2,824.4 1642.7,825.5 1643.3,823.9 1643.8,823.3 1644.4,824.2 1644.9,825.2 1645.5,824.2 1646.0,822.8 1646.6,822.0 1647.1,824.9 1647.7,822.4 1648.2,820.1 1648.8,822.4 1649.3,818.7 1649.9,820.7 1650.4,822.6 1651.0,821.1 1651.5,820.6 1652.1,822.3 1652.6,823.0 1653.2,819.2 1653.7,818.7 1654.3,819.4 1654.8,818.5 1655.4,821.2 1655.9,821.6 1656.5,820.1 1657.0,818.3 1657.6,817.4 1658.1,819.8 1658.7,818.6 1659.2,820.7 1659.8,817.7 1660.3,818.9 1660.9,819.1 1661.4,821.6 1662.0,821.1 1662.5,820.6 1663.1,820.2 1663.6,821.2 1664.2,817.2 1664.7,822.2 1665.3,820.7 1665.8,824.1 1666.4,823.7 1666.9,824.8 1667.5,822.2 1668.0,829.0 1668.6,825.7 1669.1,825.8 1669.7,825.0 1670.2,827.1 1670.8,823.7 1671.3,830.4 1671.9,829.8 1672.4,829.8 1673.0,833.2 1673.5,832.7 1674.1,833.4 1674.6,832.5 1675.2,834.5 1675.7,832.3 1676.3,832.6 1676.8,834.8 1677.4,833.5 1677.9,832.2 1678.5,834.2 1679.0,831.3 1679.6,837.0 1680.1,832.7 1680.7,832.6 1681.2,836.6 1681.8,831.3 1682.3,830.0 1682.9,833.6 1683.4,833.0 1684.0,835.1 1684.5,833.2 1685.1,830.4 1685.6,833.3 1686.2,832.6 1686.7,835.0 1687.3,833.4 1687.8,831.2 1688.4,831.6 1688.9,832.7 1689.5,831.9 1690.0,833.0 1690.6,833.0 1691.1,830.6 1691.7,833.0 1692.2,833.9 1692.8,830.6 1693.3,830.2 1693.9,834.0 1694.4,833.8 1695.0,834.6 1695.5,836.1 1696.1,833.2 1696.6,831.8 1697.2,834.2 1697.7,833.0 1698.3,835.0 1698.8,835.9 1699.4,835.1 1699.9,836.2 1700.5,835.6 1701.0,836.4 1701.6,834.4 1702.1,839.4 1702.7,835.8 1703.2,836.6 1703.8,836.5 1704.3,837.6 1704.9,837.6 1705.4,835.4 1706.0,841.6 1706.5,839.9 1707.1,839.1 1707.6,839.8 1708.2,841.8 1708.7,841.7 1709.3,841.1 1709.8,842.2 1710.4,836.6 1710.9,842.4 1711.5,840.6 1712.0,839.8 1712.6,839.4 1713.1,841.3 1713.7,838.4 1714.2,841.8 1714.8,840.1 1715.3,842.6 1715.9,838.5 1716.4,842.1 1717.0,840.8 1717.5,839.6 1718.1,843.7 1718.6,843.5 1719.2,840.2 1719.7,841.3 1720.3,844.3 1720.8,842.1 1721.4,841.0 1721.9,840.5 1722.5,840.8 1723.0,843.1 1723.6,843.7 1724.1,841.6 1724.7,840.6 1725.2,841.0 1725.8,839.4 1726.3,843.2 1726.9,842.4 1727.4,844.2 1728.0,846.2 1728.5,844.7 1729.1,841.9 1729.6,842.0 1730.2,840.4 1730.7,839.2 1731.3,845.7 1731.8,843.0 1732.4,840.1 1732.9,843.8 1733.5,839.2 1734.0,842.3 1734.6,842.9 1735.1,841.7 1735.7,841.9 1736.2,844.0 1736.8,841.9 1737.3,844.7 1737.9,839.9 1738.4,842.2 1739.0,845.7 1739.5,841.2 1740.1,841.3 1740.6,843.0 1741.2,842.2 1741.7,843.4 1742.3,844.6 1742.8,843.9 1743.4,843.3 1743.9,842.4 1744.5,843.4 1745.0,844.5 1745.6,841.6 1746.1,842.4 1746.7,841.3 1747.2,843.1 1747.8,843.4 1748.3,842.3 1748.9,841.5 1749.4,842.1 1750.0,844.4 1750.5,842.5 1751.1,844.8 1751.6,842.5 1752.2,842.3 1752.7,844.9 1753.3,842.4 1753.8,845.5 1754.4,840.2 1754.9,843.8 1755.5,842.9 1756.0,843.2 1756.6,844.3 1757.1,840.6 1757.7,847.3 1758.2,843.1 1758.8,847.8 1759.3,845.2 1759.9,844.1 1760.4,841.2 1761.0,846.5 1761.5,844.7 1762.1,845.5 1762.6,841.0 1763.2,840.6 1763.7,842.8 1764.3,844.2 1764.8,844.5 1765.4,845.1 1765.9,841.7 1766.5,840.9 1767.0,844.2 1767.6,841.3 1768.1,842.8 1768.7,846.2 1769.2,842.2 1769.8,843.5 1770.3,843.3 1770.9,842.9 1771.4,843.6 1772.0,843.9 1772.5,843.2 1773.1,845.7 1773.6,844.8 1774.2,841.8 1774.7,845.8 1775.3,843.9 1775.8,843.5 1776.4,842.6 1776.9,845.2 1777.5,844.0 1778.0,842.9 1778.6,843.0 1779.1,846.2 1779.7,844.0 1780.2,843.9 1780.8,848.7 1781.3,845.3 1781.9,845.8 1782.4,845.1 1783.0,844.9 1783.5,843.4 1784.1,846.1 1784.6,845.5 1785.2,843.8 1785.7,845.0 1786.3,848.0 1786.8,845.7 1787.4,845.3 1787.9,844.2 1788.5,844.3 1789.0,846.1 1789.6,846.6 1790.1,845.5 1790.7,846.6 1791.2,843.9 1791.8,844.5 1792.3,845.6 1792.9,846.9 1793.4,844.3 1794.0,846.4 1794.5,843.2 1795.1,846.6 1795.6,846.8 1796.2,844.2 1796.7,845.2 1797.3,845.8 1797.8,843.6 1798.4,844.0 1798.9,843.9 1799.5,845.4 1800.0,846.0 1800.6,843.2 1801.1,843.5 1801.7,845.6 1802.2,843.7 1802.8,844.4 1803.3,846.0 1803.9,844.9 1804.4,846.5 1805.0,845.1 1805.5,844.9 1806.1,844.0 1806.6,841.8 1807.2,844.7 1807.7,842.5 1808.3,846.6 1808.8,846.7 1809.4,846.3 1809.9,847.4 1810.5,849.0 1811.0,843.1 1811.6,845.7 1812.1,847.2 1812.7,845.7 1813.2,845.9 1813.8,847.9 1814.3,847.1 1814.9,844.2 1815.4,848.6 1816.0,845.2 1816.5,846.9 1817.1,847.5 1817.6,844.2 1818.2,849.4 1818.7,847.9 1819.3,847.5 1819.8,848.2 1820.4,846.7 1820.9,848.2 1821.5,848.2 1822.0,843.9 1822.6,845.4 1823.1,848.7 1823.7,845.8 1824.2,848.2 1824.8,847.2 1825.3,848.6 1825.9,844.8 1826.4,847.7 1827.0,847.6 1827.5,848.0 1828.1,848.0 1828.6,847.8 1829.2,848.3 1829.7,848.5 1830.3,847.0 1830.8,850.1 1831.4,848.0 1831.9,847.1 1832.5,849.0 1833.0,845.9 1833.6,849.7 1834.1,847.6 1834.7,848.3 1835.2,848.3 1835.8,848.9 1836.3,847.3 1836.9,847.6 1837.4,848.8 1838.0,847.4 1838.5,848.3 1839.1,848.1 1839.6,847.8 1840.2,847.4 1840.7,847.2 1841.3,847.8 1841.8,846.7 1842.4,846.9 1842.9,852.6 1843.5,848.7 1844.0,850.0 1844.6,849.1 1845.1,849.8 1845.7,849.0 1846.2,850.3 1846.8,849.1 1847.3,849.3 1847.9,847.1 1848.4,850.3 1849.0,848.6 1849.5,848.8 1850.1,849.5 1850.6,849.2 1851.2,848.8 1851.7,850.6 1852.3,847.5 1852.8,845.8 1853.4,848.3 1853.9,845.5 1854.5,848.5 1855.0,850.5 1855.6,850.9 1856.1,847.1 1856.7,849.2 1857.2,846.9 1857.8,849.1 1858.3,850.6 1858.9,847.7 1859.4,850.8 1860.0,849.0 1860.5,852.4 1861.1,847.7 1861.6,847.3 1862.2,850.5 1862.7,849.9 1863.3,849.5 1863.8,847.5 1864.4,848.9 1864.9,847.9 1865.5,850.9 1866.0,849.6 1866.6,847.8 1867.1,847.5 1867.7,846.6 1868.2,847.9 1868.8,848.7 1869.3,849.3 1869.9,850.3 1870.4,848.1 1871.0,850.6 1871.5,845.9 1872.1,848.7 1872.6,849.7 1873.2,848.1 1873.7,849.2 1874.3,850.1 1874.8,848.1 1875.4,849.3 1875.9,850.6 1876.5,847.4 1877.0,850.7 1877.6,849.0 1878.1,847.1 1878.7,849.8 1879.2,850.3 1879.8,849.1 1880.3,849.9 1880.9,850.2 1881.4,849.6 1882.0,849.8 1882.5,850.8 1883.1,850.8 1883.6,849.7 1884.2,847.1 1884.7,847.9 1885.3,849.2 1885.8,851.4 1886.4,850.5 1886.9,852.3 1887.5,850.4 1888.0,850.4 1888.6,849.3 1889.1,851.5 1889.7,847.8 1890.2,850.2 1890.8,849.5 1891.3,849.0 1891.9,851.1 1892.4,850.7 1893.0,850.3" stroke="#007c00" stroke-width="13"/>
<path d="M203.9,168.7 204.5,168.8 205.0,173.7 205.6,179.4 206.1,176.7 206.7,184.8 207.2,190.4 207.8,189.7 208.3,200.8 208.9,204.3 209.4,206.4 210.0,208.4 210.5,211.7 211.1,218.8 211.6,222.5 212.2,228.2 212.7,227.2 213.3,235.6 213.8,241.5 214.4,239.4 214.9,247.4 215.5,251.7 216.0,255.7 216.6,264.1 217.1,265.3 217.7,272.9 218.2,276.8 218.8,282.7 219.3,284.4 219.9,287.9 220.4,296.7 221.0,299.6 221.5,306.7 222.1,307.2 222.6,311.7 223.2,320.3 223.7,323.2 224.3,327.0 224.8,334.2 225.4,336.1 225.9,341.9 226.5,347.5 227.0,347.1 227.6,357.9 228.1,359.4 228.7,362.9 229.2,367.8 229.8,370.3 230.3,371.0 230.9,381.2 231.4,384.1 232.0,395.0 232.5,399.1 233.1,397.6 233.6,404.8 234.2,411.8 234.7,414.2 235.3,417.3 235.8,421.4 236.4,424.0 236.9,434.3 237.5,438.1 238.0,441.3 238.6,445.3 239.1,455.1 239.7,455.7 240.2,463.0 240.8,459.6 241.3,464.8 241.9,468.8 242.4,477.0 243.0,477.1 243.5,485.5 244.1,484.9 244.6,490.6 245.2,489.5 245.7,496.2 246.3,495.4 246.8,498.9 247.4,498.9 247.9,499.4 248.5,504.2 249.0,511.6 249.6,514.6 250.1,511.9 250.7,516.2 251.2,518.6 251.8,527.7 252.3,526.3 252.9,528.9 253.4,536.5 254.0,536.3 254.5,542.6 255.1,546.4 255.6,545.3 256.2,544.8 256.7,552.0 257.3,562.3 257.8,555.3 258.4,565.4 258.9,562.1 259.5,563.8 260.0,573.9 260.6,570.9 261.1,568.3 261.7,573.4 262.2,577.5 262.8,581.0 263.3,589.2 263.9,590.8 264.4,590.5 265.0,594.3 265.5,594.0 266.1,592.8 266.6,600.4 267.2,602.0 267.7,607.8 268.3,608.3 268.8,613.0 269.4,610.5 269.9,612.8 270.5,614.6 271.0,615.5 271.6,623.5 272.1,622.8 272.7,620.6 273.2,624.5 273.8,634.1 274.3,637.4 274.9,636.5 275.4,634.6 276.0,641.0 276.5,637.9 277.1,636.3 277.6,641.9 278.2,640.1 278.7,644.5 279.3,653.8 279.8,650.1 280.4,650.7 280.9,654.1 281.5,651.8 282.0,655.5 282.6,653.1 283.1,653.4 283.7,657.5 284.2,656.7 284.8,654.8 285.3,661.4 285.9,661.1 286.4,662.8 287.0,671.3 287.5,670.0 288.1,672.3 288.6,669.9 289.2,668.5 289.7,670.1 290.3,679.5 290.8,666.5 291.4,674.7 291.9,677.9 292.5,673.8 293.0,682.6 293.6,677.9 294.1,681.4 294.7,687.2 295.2,686.0 295.8,683.6 296.3,684.8 296.9,690.6 297.4,692.8 298.0,689.4 298.5,683.0 299.1,688.1 299.6,693.6 300.2,688.9 300.7,691.1 301.3,689.8 301.8,692.3 302.4,697.4 302.9,697.3 303.5,692.6 304.0,700.6 304.6,693.0 305.1,701.2 305.7,701.8 306.2,695.8 306.8,694.8 307.3,704.4 307.9,704.0 308.4,703.4 309.0,701.0 309.5,705.2 310.1,700.0 310.6,707.6 311.2,712.9 311.7,705.8 312.3,710.1 312.8,704.8 313.4,708.9 313.9,707.8 314.5,710.2 315.0,708.3 315.6,704.3 316.1,713.3 316.7,706.8 317.2,714.2 317.8,707.4 318.3,714.0 318.9,713.1 319.4,710.8 320.0,715.7 320.5,713.9 321.1,718.4 321.6,715.9 322.2,718.0 322.7,708.2 323.3,719.1 323.8,714.4 324.4,714.7 324.9,711.7 325.5,713.7 326.0,715.3 326.6,716.7 327.1,716.8 327.7,715.6 328.2,717.5 328.8,719.8 329.3,715.7 329.9,715.4 330.4,720.8 331.0,718.9 331.5,714.7 332.1,719.7 332.6,719.0 333.2,724.5 333.7,720.5 334.3,720.2 334.8,717.5 335.4,714.8 335.9,717.4 336.5,716.8 337.0,716.7 337.6,721.0 338.1,714.2 338.7,722.6 339.2,714.1 339.8,712.8 340.3,719.9 340.9,716.2 341.4,714.6 342.0,717.9 342.5,715.0 343.1,716.8 343.6,715.1 344.2,716.6 344.7,713.5 345.3,718.0 345.8,714.4 346.4,715.8 346.9,708.6 347.5,716.6 348.0,713.1 348.6,713.9 349.1,713.2 349.7,712.1 350.2,710.5 350.8,716.0 351.3,711.2 351.9,711.6 352.4,710.8 353.0,709.1 353.5,714.2 354.1,708.3 354.6,711.0 355.2,707.0 355.7,704.6 356.3,704.1 356.8,709.7 357.4,701.7 357.9,702.1 358.5,704.9 359.0,708.3 359.6,703.8 360.1,709.0 360.7,704.8 361.2,704.4 361.8,709.6 362.3,706.2 362.9,703.2 363.4,702.8 364.0,707.0 364.5,708.9 365.1,703.9 365.6,704.5 366.2,708.5 366.7,703.3 367.3,707.0 367.8,706.8 368.4,705.8 368.9,703.8 369.5,699.6 370.0,706.6 370.6,703.7 371.1,708.5 371.7,706.3 372.2,707.0 372.8,713.0 373.3,711.1 373.9,706.5 374.4,712.5 375.0,709.3 375.5,707.0 376.1,711.9 376.6,712.2 377.2,715.7 377.7,716.5 378.3,717.4 378.8,712.6 379.4,715.2 379.9,710.7 380.5,717.8 381.0,716.9 381.6,711.8 382.1,721.1 382.7,721.5 383.2,716.2 383.8,715.2 384.3,721.9 384.9,724.7 385.4,724.7 386.0,730.5 386.5,734.4 387.1,728.7 387.6,728.8 388.2,729.2 388.7,738.1 389.3,733.0 389.8,736.1 390.4,737.8 390.9,739.3 391.5,738.4 392.0,743.9 392.6,740.7 393.1,740.4 393.7,737.4 394.2,740.4 394.8,742.1 395.3,746.2 395.9,742.0 396.4,745.2 397.0,744.5 397.5,737.5 398.1,747.3 398.6,752.4 399.2,743.4 399.7,752.1 400.3,745.4 400.8,748.6 401.4,750.3 401.9,754.2 402.5,752.1 403.0,753.0 403.6,756.5 404.1,757.4 404.7,754.7 405.2,757.5 405.8,761.1 406.3,759.1 406.9,755.2 407.4,759.3 408.0,755.2 408.5,767.5 409.1,762.1 409.6,757.1 410.2,761.6 410.7,765.2 411.3,766.9 411.8,765.0 412.4,765.0 412.9,764.1 413.5,770.7 414.0,772.7 414.6,770.7 415.1,771.1 415.7,771.8 416.2,770.5 416.8,771.8 417.3,775.6 417.9,775.4 418.4,776.7 419.0,773.8 419.5,779.3 420.1,774.4 420.6,782.2 421.2,778.4 421.7,780.6 422.3,778.1 422.8,780.7 423.4,779.2 423.9,782.7 424.5,777.2 425.0,787.1 425.6,784.8 426.1,787.0 426.7,785.1 427.2,787.8 427.8,784.7 428.3,784.8 428.9,787.1 429.4,784.5 430.0,792.4 430.5,789.6 431.1,790.9 431.6,789.7 432.2,794.9 432.7,797.3 433.3,793.8 433.8,799.0 434.4,797.4 434.9,797.7 435.5,792.4 436.0,795.5 436.6,802.6 437.1,802.7 437.7,806.8 438.2,798.4 438.8,803.3 439.3,796.4 439.9,798.8 440.4,798.4 441.0,799.4 441.5,803.3 442.1,807.1 442.6,803.5 443.2,799.2 443.7,807.5 444.3,804.7 444.8,798.9 445.4,808.3 445.9,804.4 446.5,806.8 447.0,802.7 447.6,803.2 448.1,806.4 448.7,800.2 449.2,805.7 449.8,808.6 450.3,807.4 450.9,806.0 451.4,805.3 452.0,805.5 452.5,811.8 453.1,808.3 453.6,808.3 454.2,805.2 454.7,809.7 455.3,811.1 455.8,801.9 456.4,814.8 456.9,812.5 457.5,809.7 458.0,805.0 458.6,818.9 459.1,813.8 459.7,810.5 460.2,807.9 460.8,816.2 461.3,807.5 461.9,813.7 462.4,813.2 463.0,810.8 463.5,812.7 464.1,813.1 464.6,818.6 465.2,817.4 465.7,820.1 466.3,813.5 466.8,821.1 467.4,818.4 467.9,821.5 468.5,816.7 469.0,819.4 469.6,815.0 470.1,821.9 470.7,818.7 471.2,816.5 471.8,818.2 472.3,819.0 472.9,812.9 473.4,819.3 474.0,815.7 474.5,818.9 475.1,820.0 475.6,827.2 476.2,821.2 476.7,815.9 477.3,822.1 477.8,816.9 478.4,817.5 478.9,818.7 479.5,824.3 480.0,826.9 480.6,824.0 481.1,817.8 481.7,822.7 482.2,825.1 482.8,814.6 483.3,821.8 483.9,831.3 484.4,819.0 485.0,820.5 485.5,820.3 486.1,828.8 486.6,827.7 487.2,827.4 487.7,829.1 488.3,823.5 488.8,819.8 489.4,828.0 489.9,821.3 490.5,828.9 491.0,828.9 491.6,828.0 492.1,831.9 492.7,829.3 493.2,824.3 493.8,826.0 494.3,830.9 494.9,826.8 495.4,831.0 496.0,828.3 496.5,830.1 497.1,826.3 497.6,829.0 498.2,824.3 498.7,827.3 499.3,831.4 499.8,827.7 500.4,826.8 500.9,832.7 501.5,832.5 502.0,826.4 502.6,831.0 503.1,831.9 503.7,827.6 504.2,828.2 504.8,830.2 505.3,835.7 505.9,830.9 506.4,831.0 507.0,822.8 507.5,832.6 508.1,834.7 508.6,828.2 509.2,834.3 509.7,833.1 510.3,834.6 510.8,832.1 511.4,832.3 511.9,840.2 512.5,838.1 513.0,829.4 513.6,827.0 514.1,833.6 514.7,833.9 515.2,832.9 515.8,832.1 516.3,837.3 516.9,823.1 517.4,829.6 518.0,834.9 518.5,834.6 519.1,834.7 519.6,830.9 520.2,838.9 520.7,836.8 521.3,836.6 521.8,835.5 522.4,829.6 522.9,832.6 523.5,830.5 524.0,834.7 524.6,830.1 525.1,834.9 525.7,833.1 526.2,835.2 526.8,828.4 527.3,832.1 527.9,836.0 528.4,838.1 529.0,831.9 529.5,838.1 530.1,844.3 530.6,835.7 531.2,833.8 531.7,830.4 532.3,831.1 532.8,834.5 533.4,835.3 533.9,837.9 534.5,841.8 535.0,833.2 535.6,836.7 536.1,840.5 536.7,837.4 537.2,836.1 537.8,835.7 538.3,830.7 538.9,830.1 539.4,836.6 540.0,838.3 540.5,837.0 541.1,836.6 541.6,838.2 542.2,837.3 542.7,831.2 543.3,832.8 543.8,824.5 544.4,834.7 544.9,831.6 545.5,831.1 546.0,833.6 546.6,825.9 547.1,830.2 547.7,826.7 548.2,834.1 548.8,824.7 549.3,826.5 549.9,829.4 550.4,832.9 551.0,827.0 551.5,822.1 552.1,823.7 552.6,826.4 553.2,826.5 553.7,820.1 554.3,826.9 554.8,819.7 555.4,818.7 555.9,820.3 556.5,816.2 557.0,815.4 557.6,817.6 558.1,809.8 558.7,815.4 559.2,811.8 559.8,815.6 560.3,810.7 560.9,815.5 561.4,812.6 562.0,811.8 562.5,809.5 563.1,804.5 563.6,806.5 564.2,805.0 564.7,801.2 565.3,799.4 565.8,796.9 566.4,792.5 566.9,789.1 567.5,788.6 568.0,786.4 568.6,785.7 569.1,785.4 569.7,778.3 570.2,775.6 570.8,781.0 571.3,772.3 571.9,770.3 572.4,765.9 573.0,768.1 573.5,758.7 574.1,762.3 574.6,762.9 575.2,760.6 575.7,762.8 576.3,765.2 576.8,762.5 577.4,760.2 577.9,753.9 578.5,759.2 579.0,765.8 579.6,767.0 580.1,764.4 580.7,765.5 581.2,765.7 581.8,759.0 582.3,762.7 582.9,762.9 583.4,767.0 584.0,769.2 584.5,766.6 585.1,773.0 585.6,767.4 586.2,766.9 586.7,767.5 587.3,763.6 587.8,772.9 588.4,769.8 588.9,774.3 589.5,774.5 590.0,775.7 590.6,769.7 591.1,774.7 591.7,776.0 592.2,778.8 592.8,775.6 593.3,776.5 593.9,784.3 594.4,777.1 595.0,783.2 595.5,779.8 596.1,786.5 596.6,783.2 597.2,784.2 597.7,782.9 598.3,780.1 598.8,792.2 599.4,786.9 599.9,792.1 600.5,789.9 601.0,785.1 601.6,786.9 602.1,790.6 602.7,789.4 603.2,787.4 603.8,791.0 604.3,792.8 604.9,794.2 605.4,796.0 606.0,791.2 606.5,790.1 607.1,790.3 607.6,783.5 608.2,796.0 608.7,797.1 609.3,780.1 609.8,792.6 610.4,790.5 610.9,791.4 611.5,786.7 612.0,791.9 612.6,785.8 613.1,794.4 613.7,795.5 614.2,796.6 614.8,787.5 615.3,789.2 615.9,791.2 616.4,797.7 617.0,793.0 617.5,798.9 618.1,794.8 618.6,796.6 619.2,790.2 619.7,789.8 620.3,793.0 620.8,792.0 621.4,791.4 621.9,798.2 622.5,801.8 623.0,794.6 623.6,797.0 624.1,801.8 624.7,798.0 625.2,800.4 625.8,800.5 626.3,802.2 626.9,802.1 627.4,799.5 628.0,795.5 628.5,802.2 629.1,795.3 629.6,799.2 630.2,800.2 630.7,807.9 631.3,800.9 631.8,799.9 632.4,797.1 632.9,797.5 633.5,792.9 634.0,790.3 634.6,796.6 635.1,797.3 635.7,794.9 636.2,795.2 636.8,794.8 637.3,800.9 637.9,792.8 638.4,800.5 639.0,791.7 639.5,792.8 640.1,792.9 640.6,794.6 641.2,796.9 641.7,795.1 642.3,795.1 642.8,792.2 643.4,790.9 643.9,790.3 644.5,786.7 645.0,797.2 645.6,789.7 646.1,787.4 646.7,785.6 647.2,788.2 647.8,785.5 648.3,791.9 648.9,792.1 649.4,786.0 650.0,791.9 650.5,790.1 651.1,788.3 651.6,787.8 652.2,785.6 652.7,789.1 653.3,780.3 653.8,787.7 654.4,784.7 654.9,777.1 655.5,783.0 656.0,784.1 656.6,785.2 657.1,783.1 657.7,779.4 658.2,782.8 658.8,782.0 659.3,770.9 659.9,777.4 660.4,779.5 661.0,778.3 661.5,780.7 662.1,786.5 662.6,779.8 663.2,778.0 663.7,779.0 664.3,776.1 664.8,777.1 665.4,776.5 665.9,780.6 666.5,777.0 667.0,779.0 667.6,779.8 668.1,775.4 668.7,780.6 669.2,783.9 669.8,778.1 670.3,779.8 670.9,782.7 671.4,783.5 672.0,780.3 672.5,778.8 673.1,781.4 673.6,776.3 674.2,777.4 674.7,778.3 675.3,781.5 675.8,776.7 676.4,781.2 676.9,775.1 677.5,777.4 678.0,777.9 678.6,782.6 679.1,786.7 679.7,776.0 680.2,782.1 680.8,781.0 681.3,782.9 681.9,780.0 682.4,784.7 683.0,775.5 683.5,785.5 684.1,787.3 684.6,780.3 685.2,783.8 685.7,780.0 686.3,782.8 686.8,783.3 687.4,775.9 687.9,787.6 688.5,787.3 689.0,791.4 689.6,785.6 690.1,786.6 690.7,790.3 691.2,781.0 691.8,789.1 692.3,786.7 692.9,794.5 693.4,788.3 694.0,792.7 694.5,788.6 695.1,780.1 695.6,795.7 696.2,795.2 696.7,795.7 697.3,792.1 697.8,797.6 698.4,791.3 698.9,792.5 699.5,798.8 700.0,798.9 700.6,803.0 701.1,795.4 701.7,799.9 702.2,800.9 702.8,803.4 703.3,797.0 703.9,801.5 704.4,800.6 705.0,804.3 705.5,812.7 706.1,806.3 706.6,809.7 707.2,807.2 707.7,804.6 708.3,807.2 708.8,806.8 709.4,806.9 709.9,810.4 710.5,810.0 711.0,805.9 711.6,802.3 712.1,807.7 712.7,811.1 713.2,814.6 713.8,811.1 714.3,812.5 714.9,814.4 715.4,815.1 716.0,809.4 716.5,811.4 717.1,814.5 717.6,810.9 718.2,810.1 718.7,812.4 719.3,813.6 719.8,817.3 720.4,812.6 720.9,811.8 721.5,813.5 722.0,817.8 722.6,809.6 723.1,816.6 723.7,819.1 724.2,814.9 724.8,814.5 725.3,812.8 725.9,813.9 726.4,816.6 727.0,821.3 727.5,819.4 728.1,816.6 728.6,813.5 729.2,814.7 729.7,822.3 730.3,814.8 730.8,822.9 731.4,820.6 731.9,823.9 732.5,822.3 733.0,819.9 733.6,822.1 734.1,821.4 734.7,819.2 735.2,823.0 735.8,823.9 736.3,821.1 736.9,824.3 737.4,827.9 738.0,826.0 738.5,822.8 739.1,831.7 739.6,824.8 740.2,831.1 740.7,828.8 741.3,831.4 741.8,829.0 742.4,824.8 742.9,832.4 743.5,826.3 744.0,824.1 744.6,824.1 745.1,830.2 745.7,827.4 746.2,827.6 746.8,824.4 747.3,835.3 747.9,831.6 748.4,832.8 749.0,830.3 749.5,833.6 750.1,828.4 750.6,834.4 751.2,830.2 751.7,829.1 752.3,833.2 752.8,832.3 753.4,832.3 753.9,826.3 754.5,828.6 755.0,827.7 755.6,829.6 756.1,832.7 756.7,829.5 757.2,833.0 757.8,829.9 758.3,832.5 758.9,835.6 759.4,837.8 760.0,840.4 760.5,835.5 761.1,836.0 761.6,840.1 762.2,830.6 762.7,832.5 763.3,839.0 763.8,839.6 764.4,842.5 764.9,842.2 765.5,841.8 766.0,839.5 766.6,837.2 767.1,840.9 767.7,831.3 768.2,836.6 768.8,832.4 769.3,836.5 769.9,828.3 770.4,838.8 771.0,837.3 771.5,841.1 772.1,832.7 772.6,836.8 773.2,840.9 773.7,832.8 774.3,837.9 774.8,831.7 775.4,844.9 775.9,836.1 776.5,839.5 777.0,840.6 777.6,834.1 778.1,838.2 778.7,835.0 779.2,842.3 779.8,845.4 780.3,833.7 780.9,841.0 781.4,836.9 782.0,842.8 782.5,843.7 783.1,845.0 783.6,844.2 784.2,837.2 784.7,838.4 785.3,842.5 785.8,845.0 786.4,840.5 786.9,841.8 787.5,844.7 788.0,843.8 788.6,846.9 789.1,840.1 789.7,845.4 790.2,844.2 790.8,844.3 791.3,843.6 791.9,842.5 792.4,848.7 793.0,842.5 793.5,845.9 794.1,845.1 794.6,842.9 795.2,846.0 795.7,846.4 796.3,850.5 796.8,843.3 797.4,847.8 797.9,847.8 798.5,849.3 799.0,844.3 799.6,847.5 800.1,842.8 800.7,848.0 801.2,850.6 801.8,852.0 802.3,840.4 802.9,846.2 803.4,848.9 804.0,842.2 804.5,855.9 805.1,849.2 805.6,842.9 806.2,858.5 806.7,850.2 807.3,842.8 807.8,846.3 808.4,847.1 808.9,849.4 809.5,855.2 810.0,848.1 810.6,848.8 811.1,850.8 811.7,852.8 812.2,852.2 812.8,847.3 813.3,854.5 813.9,849.2 814.4,849.6 815.0,860.2 815.5,846.9 816.1,852.6 816.6,849.5 817.2,855.3 817.7,854.5 818.3,850.4 818.8,852.1 819.4,852.1 819.9,855.6 820.5,848.7 821.0,855.4 821.6,855.5 822.1,854.8 822.7,853.7 823.2,857.5 823.8,857.4 824.3,856.5 824.9,856.3 825.4,858.5 826.0,858.7 826.5,853.3 827.1,853.1 827.6,855.9 828.2,855.1 828.7,855.8 829.3,857.2 829.8,862.5 830.4,858.6 830.9,859.2 831.5,861.4 832.0,856.9 832.6,858.2 833.1,853.6 833.7,857.0 834.2,862.0 834.8,859.1 835.3,859.6 835.9,865.9 836.4,866.8 837.0,862.2 837.5,859.4 838.1,858.4 838.6,862.7 839.2,859.6 839.7,863.2 840.3,862.1 840.8,863.6 841.4,863.2 841.9,868.5 842.5,864.5 843.0,870.5 843.6,864.4 844.1,871.1 844.7,863.2 845.2,867.5 845.8,865.8 846.3,863.9 846.9,874.0 847.4,868.2 848.0,865.0 848.5,863.4 849.1,870.3 849.6,871.0 850.2,869.5 850.7,867.3 851.3,868.0 851.8,865.8 852.4,868.2 852.9,869.0 853.5,872.5 854.0,873.1 854.6,867.3 855.1,864.6 855.7,876.9 856.2,871.6 856.8,869.0 857.3,872.3 857.9,869.1 858.4,870.3 859.0,864.1 859.5,870.7 860.1,877.3 860.6,874.9 861.2,871.7 861.7,873.0 862.3,875.1 862.8,876.5 863.4,870.9 863.9,872.8 864.5,874.5 865.0,876.9 865.6,873.3 866.1,876.1 866.7,877.3 867.2,875.1 867.8,876.8 868.3,879.2 868.9,871.7 869.4,876.2 870.0,876.7 870.5,882.6 871.1,869.8 871.6,873.5 872.2,871.3 872.7,872.8 873.3,877.0 873.8,873.0 874.4,875.8 874.9,876.3 875.5,875.7 876.0,879.2 876.6,877.9 877.1,874.5 877.7,875.9 878.2,878.5 878.8,876.0 879.3,879.7 879.9,878.5 880.4,877.3 881.0,878.3 881.5,876.3 882.1,881.1 882.6,878.7 883.2,878.7 883.7,880.4 884.3,888.5 884.8,885.7 885.4,880.4 885.9,879.5 886.5,885.2 887.0,880.2 887.6,887.2 888.1,881.6 888.7,887.4 889.2,890.7 889.8,883.4 890.3,886.7 890.9,887.2 891.4,892.4 892.0,892.8 892.5,882.7 893.1,889.5 893.6,889.0 894.2,886.8 894.7,887.6 895.3,882.8 895.8,883.6 896.4,886.3 896.9,882.6 897.5,888.1 898.0,887.8 898.6,892.3 899.1,884.3 899.7,892.2 900.2,889.4 900.8,889.5 901.3,888.8 901.9,889.1 902.4,887.2 903.0,886.6 903.5,893.8 904.1,883.0 904.6,893.5 905.2,891.9 905.7,891.8 906.3,894.7 906.8,891.7 907.4,892.7 907.9,894.3 908.5,892.2 909.0,895.8 909.6,895.8 910.1,893.0 910.7,894.9 911.2,890.9 911.8,894.8 912.3,894.6 912.9,889.8 913.4,894.5 914.0,896.4 914.5,891.8 915.1,890.8 915.6,894.9 916.2,893.3 916.7,892.2 917.3,895.5 917.8,892.4 918.4,895.7 918.9,898.7 919.5,896.4 920.0,896.0 920.6,892.2 921.1,899.4 921.7,894.5 922.2,900.7 922.8,893.6 923.3,895.4 923.9,891.2 924.4,896.2 925.0,890.8 925.5,895.3 926.1,900.4 926.6,897.4 927.2,891.1 927.7,898.0 928.3,891.4 928.8,894.1 929.4,893.4 929.9,893.9 930.5,895.0 931.0,887.6 931.6,898.4 932.1,894.8 932.7,891.9 933.2,896.1 933.8,899.7 934.3,891.9 934.9,897.1 935.4,894.6 936.0,894.9 936.5,892.6 937.1,894.1 937.6,895.5 938.2,888.2 938.7,890.1 939.3,890.3 939.8,889.5 940.4,885.4 940.9,888.2 941.5,885.8 942.0,890.0 942.6,888.1 943.1,887.9 943.7,887.7 944.2,884.1 944.8,881.6 945.3,886.0 945.9,881.5 946.4,879.8 947.0,885.8 947.5,875.1 948.1,881.3 948.6,881.9 949.2,875.6 949.7,873.9 950.3,875.9 950.8,871.2 951.4,866.5 951.9,875.2 952.5,875.6 953.0,865.4 953.6,870.6 954.1,867.9 954.7,866.1 955.2,867.3 955.8,862.6 956.3,861.8 956.9,862.1 957.4,861.5 958.0,851.8 958.5,862.1 959.1,859.1 959.6,859.7 960.2,854.7 960.7,850.9 961.3,854.8 961.8,853.7 962.4,854.0 962.9,852.0 963.5,846.0 964.0,844.2 964.6,846.0 965.1,846.9 965.7,844.4 966.2,842.1 966.8,843.4 967.3,836.3 967.9,841.0 968.4,833.8 969.0,845.4 969.5,833.9 970.1,844.9 970.6,841.6 971.2,841.8 971.7,840.7 972.3,836.6 972.8,837.6 973.4,842.1 973.9,833.3 974.5,835.7 975.0,839.0 975.6,833.7 976.1,841.0 976.7,831.6 977.2,832.7 977.8,835.1 978.3,832.4 978.9,833.8 979.4,834.5 980.0,834.0 980.5,835.6 981.1,835.8 981.6,835.7 982.2,835.3 982.7,834.9 983.3,835.9 983.8,836.1 984.4,837.4 984.9,840.2 985.5,833.1 986.0,840.8 986.6,838.0 987.1,838.5 987.7,833.8 988.2,836.4 988.8,836.7 989.3,834.9 989.9,838.1 990.4,832.3 991.0,833.5 991.5,838.9 992.1,837.8 992.6,831.6 993.2,838.2 993.7,837.5 994.3,840.0 994.8,837.5 995.4,838.0 995.9,835.3 996.5,838.5 997.0,838.1 997.6,841.5 998.1,834.1 998.7,840.9 999.2,845.1 999.8,833.6 1000.3,845.0 1000.9,844.9 1001.4,844.6 1002.0,846.0 1002.5,843.5 1003.1,849.0 1003.6,847.8 1004.2,842.1 1004.7,850.5 1005.3,845.5 1005.8,846.6 1006.4,851.6 1006.9,849.8 1007.5,852.3 1008.0,853.3 1008.6,852.9 1009.1,855.3 1009.7,850.0 1010.2,860.8 1010.8,859.0 1011.3,855.1 1011.9,857.2 1012.4,863.1 1013.0,856.6 1013.5,855.0 1014.1,867.2 1014.6,865.7 1015.2,863.5 1015.7,868.2 1016.3,865.2 1016.8,866.6 1017.4,866.9 1017.9,868.1 1018.5,863.5 1019.0,867.3 1019.6,868.8 1020.1,865.2 1020.7,865.2 1021.2,869.5 1021.8,875.3 1022.3,870.7 1022.9,875.0 1023.4,876.2 1024.0,877.2 1024.5,875.7 1025.1,869.1 1025.6,868.5 1026.2,872.1 1026.7,875.1 1027.3,876.1 1027.8,875.5 1028.4,876.4 1028.9,879.6 1029.5,874.6 1030.0,880.4 1030.6,880.6 1031.1,874.1 1031.7,880.1 1032.2,879.9 1032.8,881.9 1033.3,882.0 1033.9,874.4 1034.4,887.0 1035.0,882.0 1035.5,884.8 1036.1,884.9 1036.6,879.6 1037.2,882.7 1037.7,882.6 1038.3,890.0 1038.8,879.9 1039.4,888.7 1039.9,887.1 1040.5,884.5 1041.0,882.0 1041.6,884.8 1042.1,887.7 1042.7,883.3 1043.2,887.0 1043.8,888.5 1044.3,889.1 1044.9,886.3 1045.4,889.6 1046.0,890.2 1046.5,882.4 1047.1,885.2 1047.6,884.9 1048.2,887.2 1048.7,892.0 1049.3,891.6 1049.8,891.6 1050.4,889.3 1050.9,894.2 1051.5,887.0 1052.0,887.8 1052.6,894.4 1053.1,891.9 1053.7,896.1 1054.2,895.8 1054.8,896.4 1055.3,891.6 1055.9,892.6 1056.4,889.7 1057.0,894.8 1057.5,895.0 1058.1,893.6 1058.6,894.7 1059.2,896.3 1059.7,898.6 1060.3,894.5 1060.8,894.6 1061.4,896.3 1061.9,898.4 1062.5,902.4 1063.0,900.0 1063.6,890.5 1064.1,892.7 1064.7,895.5 1065.2,890.7 1065.8,900.2 1066.3,895.8 1066.9,894.8 1067.4,898.2 1068.0,899.8 1068.5,898.1 1069.1,899.2 1069.6,902.1 1070.2,896.6 1070.7,899.8 1071.3,894.7 1071.8,896.7 1072.4,903.3 1072.9,898.5 1073.5,898.0 1074.0,903.3 1074.6,899.9 1075.1,904.1 1075.7,907.1 1076.2,908.2 1076.8,901.6 1077.3,903.4 1077.9,901.0 1078.4,907.7 1079.0,904.6 1079.5,911.2 1080.1,902.2 1080.6,903.5 1081.2,895.8 1081.7,902.0 1082.3,902.4 1082.8,905.7 1083.4,907.3 1083.9,902.5 1084.5,904.5 1085.0,906.7 1085.6,905.0 1086.1,907.2 1086.7,909.9 1087.2,904.1 1087.8,906.8 1088.3,909.4 1088.9,906.6 1089.4,910.9 1090.0,905.9 1090.5,910.1 1091.1,908.0 1091.6,909.2 1092.2,906.0 1092.7,911.0 1093.3,905.2 1093.8,911.5 1094.4,908.9 1094.9,909.8 1095.5,912.9 1096.0,905.9 1096.6,912.0 1097.1,911.1 1097.7,909.0 1098.2,912.8 1098.8,910.8 1099.3,916.2 1099.9,910.0 1100.4,915.7 1101.0,915.4 1101.5,912.8 1102.1,910.2 1102.6,912.1 1103.2,908.8 1103.7,910.6 1104.3,911.0 1104.8,913.7 1105.4,909.1 1105.9,914.2 1106.5,912.0 1107.0,915.9 1107.6,915.1 1108.1,912.2 1108.7,914.6 1109.2,914.8 1109.8,913.0 1110.3,914.0 1110.9,914.6 1111.4,912.6 1112.0,912.2 1112.5,916.3 1113.1,911.3 1113.6,917.5 1114.2,918.7 1114.7,915.7 1115.3,918.2 1115.8,915.3 1116.4,919.3 1116.9,925.9 1117.5,919.4 1118.0,918.2 1118.6,918.5 1119.1,915.2 1119.7,917.1 1120.2,918.4 1120.8,917.7 1121.3,919.7 1121.9,922.8 1122.4,916.1 1123.0,918.2 1123.5,920.3 1124.1,917.0 1124.6,917.7 1125.2,921.4 1125.7,921.7 1126.3,921.0 1126.8,917.7 1127.4,921.7 1127.9,922.5 1128.5,919.2 1129.0,920.6 1129.6,919.7 1130.1,919.9 1130.7,919.2 1131.2,921.6 1131.8,918.6 1132.3,925.0 1132.9,922.3 1133.4,920.1 1134.0,926.4 1134.5,921.3 1135.1,915.3 1135.6,923.8 1136.2,922.9 1136.7,921.1 1137.3,921.5 1137.8,919.9 1138.4,918.6 1138.9,918.9 1139.5,928.0 1140.0,920.3 1140.6,922.3 1141.1,926.6 1141.7,920.5 1142.2,922.2 1142.8,921.4 1143.3,919.0 1143.9,924.1 1144.4,924.5 1145.0,922.5 1145.5,922.7 1146.1,924.9 1146.6,925.2 1147.2,928.4 1147.7,925.5 1148.3,925.9 1148.8,922.4 1149.4,920.8 1149.9,927.3 1150.5,922.3 1151.0,926.0 1151.6,924.7 1152.1,922.6 1152.7,925.2 1153.2,928.9 1153.8,928.1 1154.3,923.7 1154.9,924.3 1155.4,920.1 1156.0,922.2 1156.5,923.8 1157.1,925.3 1157.6,926.5 1158.2,924.4 1158.7,928.6 1159.3,923.5 1159.8,927.5 1160.4,923.5 1160.9,925.2 1161.5,926.5 1162.0,928.1 1162.6,924.6 1163.1,925.4 1163.7,925.9 1164.2,927.2 1164.8,930.1 1165.3,928.3 1165.9,925.9 1166.4,926.0 1167.0,929.8 1167.5,930.1 1168.1,929.3 1168.6,926.9 1169.2,924.8 1169.7,925.1 1170.3,927.2 1170.8,924.5 1171.4,926.6 1171.9,932.2 1172.5,927.9 1173.0,929.2 1173.6,924.9 1174.1,930.7 1174.7,926.5 1175.2,927.7 1175.8,928.1 1176.3,927.9 1176.9,926.6 1177.4,929.5 1178.0,933.1 1178.5,927.6 1179.1,930.5 1179.6,926.1 1180.2,929.7 1180.7,927.6 1181.3,932.6 1181.8,928.4 1182.4,931.1 1182.9,930.0 1183.5,927.1 1184.0,930.2 1184.6,930.3 1185.1,932.3 1185.7,930.1 1186.2,926.5 1186.8,928.4 1187.3,929.7 1187.9,932.7 1188.4,930.3 1189.0,933.5 1189.5,930.8 1190.1,932.5 1190.6,934.1 1191.2,932.3 1191.7,928.1 1192.3,934.9 1192.8,931.9 1193.4,934.5 1193.9,926.2 1194.5,932.8 1195.0,932.9 1195.6,932.1 1196.1,933.0 1196.7,931.0 1197.2,931.3 1197.8,934.6 1198.3,933.1 1198.9,935.4 1199.4,934.7 1200.0,932.2 1200.5,933.9 1201.1,933.2 1201.6,935.3 1202.2,938.0 1202.7,934.3 1203.3,933.1 1203.8,939.4 1204.4,933.9 1204.9,932.9 1205.5,933.8 1206.0,929.8 1206.6,938.5 1207.1,937.6 1207.7,937.7 1208.2,936.5 1208.8,934.9 1209.3,934.3 1209.9,933.8 1210.4,937.4 1211.0,938.0 1211.5,937.7 1212.1,933.6 1212.6,940.6 1213.2,934.5 1213.7,936.4 1214.3,936.4 1214.8,935.6 1215.4,931.6 1215.9,934.1 1216.5,935.8 1217.0,939.5 1217.6,936.4 1218.1,938.3 1218.7,934.9 1219.2,937.0 1219.8,940.8 1220.3,942.3 1220.9,939.1 1221.4,939.7 1222.0,938.8 1222.5,938.3 1223.1,938.9 1223.6,941.0 1224.2,937.2 1224.7,936.2 1225.3,940.2 1225.8,937.4 1226.4,939.7 1226.9,936.3 1227.5,939.3 1228.0,937.7 1228.6,937.3 1229.1,940.1 1229.7,937.0 1230.2,932.8 1230.8,935.3 1231.3,937.5 1231.9,941.7 1232.4,936.9 1233.0,935.0 1233.5,936.3 1234.1,939.9 1234.6,938.2 1235.2,938.4 1235.7,938.5 1236.3,940.7 1236.8,934.3 1237.4,940.2 1237.9,938.6 1238.5,935.1 1239.0,939.0 1239.6,940.6 1240.1,937.0 1240.7,939.9 1241.2,932.9 1241.8,934.5 1242.3,939.1 1242.9,938.3 1243.4,939.8 1244.0,939.6 1244.5,940.6 1245.1,935.5 1245.6,935.6 1246.2,941.7 1246.7,940.0 1247.3,939.5 1247.8,939.1 1248.4,943.3 1248.9,938.1 1249.5,940.7 1250.0,943.2 1250.6,938.7 1251.1,938.8 1251.7,939.4 1252.2,935.7 1252.8,942.8 1253.3,942.6 1253.9,944.6 1254.4,940.4 1255.0,941.6 1255.5,942.2 1256.1,944.5 1256.6,941.5 1257.2,941.9 1257.7,939.4 1258.3,941.7 1258.8,940.9 1259.4,943.3 1259.9,942.7 1260.5,938.5 1261.0,938.6 1261.6,941.8 1262.1,940.1 1262.7,941.7 1263.2,943.6 1263.8,938.2 1264.3,941.9 1264.9,938.8 1265.4,940.9 1266.0,940.7 1266.5,938.5 1267.1,935.8 1267.6,940.0 1268.2,938.2 1268.7,941.3 1269.3,941.1 1269.8,943.0 1270.4,942.1 1270.9,936.6 1271.5,937.0 1272.0,938.9 1272.6,940.6 1273.1,941.4 1273.7,939.3 1274.2,941.6 1274.8,938.8 1275.3,943.2 1275.9,939.9 1276.4,939.7 1277.0,939.8 1277.5,940.9 1278.1,944.1 1278.6,941.3 1279.2,942.9 1279.7,939.2 1280.3,942.2 1280.8,942.4 1281.4,942.9 1281.9,938.6 1282.5,938.7 1283.0,940.7 1283.6,941.9 1284.1,938.7 1284.7,940.9 1285.2,943.9 1285.8,936.1 1286.3,937.7 1286.9,940.0 1287.4,941.5 1288.0,940.4 1288.5,941.7 1289.1,943.7 1289.6,939.6 1290.2,938.8 1290.7,943.8 1291.3,937.1 1291.8,942.8 1292.4,943.8 1292.9,941.6 1293.5,939.8 1294.0,941.5 1294.6,939.9 1295.1,945.5 1295.7,942.5 1296.2,941.3 1296.8,942.1 1297.3,942.3 1297.9,943.4 1298.4,941.8 1299.0,939.4 1299.5,940.5 1300.1,938.7 1300.6,938.0 1301.2,941.5 1301.7,939.7 1302.3,940.5 1302.8,942.2 1303.4,942.7 1303.9,940.9 1304.5,939.5 1305.0,942.1 1305.6,938.9 1306.1,943.9 1306.7,939.7 1307.2,943.2 1307.8,938.6 1308.3,942.7 1308.9,942.0 1309.4,940.8 1310.0,943.6 1310.5,942.6 1311.1,941.8 1311.6,941.6 1312.2,943.1 1312.7,942.6 1313.3,940.8 1313.8,941.2 1314.4,942.6 1314.9,940.7 1315.5,939.3 1316.0,945.6 1316.6,942.9 1317.1,949.3 1317.7,945.1 1318.2,946.7 1318.8,947.0 1319.3,945.7 1319.9,945.2 1320.4,942.8 1321.0,944.2 1321.5,944.0 1322.1,944.1 1322.6,944.2 1323.2,948.2 1323.7,943.9 1324.3,951.8 1324.8,947.0 1325.4,949.9 1325.9,950.0 1326.5,950.6 1327.0,949.7 1327.6,949.8 1328.1,950.8 1328.7,952.6 1329.2,952.5 1329.8,951.6 1330.3,948.3 1330.9,949.7 1331.4,951.9 1332.0,954.4 1332.5,955.0 1333.1,950.8 1333.6,952.8 1334.2,950.9 1334.7,950.1 1335.3,952.2 1335.8,953.2 1336.4,952.5 1336.9,947.0 1337.5,954.3 1338.0,947.4 1338.6,954.1 1339.1,954.8 1339.7,958.4 1340.2,948.7 1340.8,950.6 1341.3,952.0 1341.9,952.7 1342.4,950.8 1343.0,954.2 1343.5,951.0 1344.1,952.0 1344.6,952.0 1345.2,953.7 1345.7,953.3 1346.3,949.0 1346.8,954.2 1347.4,950.4 1347.9,950.7 1348.5,951.3 1349.0,952.4 1349.6,954.3 1350.1,954.4 1350.7,950.2 1351.2,953.2 1351.8,955.7 1352.3,955.6 1352.9,954.1 1353.4,952.3 1354.0,955.2 1354.5,953.5 1355.1,951.2 1355.6,948.9 1356.2,955.3 1356.7,956.9 1357.3,958.6 1357.8,957.4 1358.4,955.6 1358.9,954.5 1359.5,955.2 1360.0,956.3 1360.6,952.5 1361.1,955.3 1361.7,954.3 1362.2,956.6 1362.8,956.4 1363.3,950.7 1363.9,951.8 1364.4,955.1 1365.0,956.2 1365.5,953.3 1366.1,955.3 1366.6,954.9 1367.2,953.8 1367.7,953.6 1368.3,955.5 1368.8,957.1 1369.4,953.4 1369.9,955.7 1370.5,954.9 1371.0,953.2 1371.6,953.0 1372.1,952.1 1372.7,954.3 1373.2,955.1 1373.8,953.2 1374.3,950.0 1374.9,953.7 1375.4,953.2 1376.0,952.6 1376.5,955.7 1377.1,951.6 1377.6,952.6 1378.2,953.6 1378.7,956.3 1379.3,951.1 1379.8,953.8 1380.4,949.6 1380.9,952.0 1381.5,952.9 1382.0,950.8 1382.6,954.7 1383.1,954.1 1383.7,952.1 1384.2,953.9 1384.8,952.2 1385.3,953.1 1385.9,953.2 1386.4,956.5 1387.0,951.8 1387.5,954.7 1388.1,955.9 1388.6,953.7 1389.2,954.7 1389.7,957.5 1390.3,951.1 1390.8,950.9 1391.4,954.4 1391.9,953.2 1392.5,956.1 1393.0,951.8 1393.6,953.1 1394.1,954.2 1394.7,948.5 1395.2,955.7 1395.8,952.9 1396.3,951.0 1396.9,951.5 1397.4,951.7 1398.0,955.5 1398.5,951.0 1399.1,955.4 1399.6,951.6 1400.2,953.7 1400.7,952.1 1401.3,952.8 1401.8,954.8 1402.4,952.7 1402.9,951.7 1403.5,955.0 1404.0,957.1 1404.6,952.7 1405.1,952.6 1405.7,952.1 1406.2,950.5 1406.8,951.8 1407.3,954.1 1407.9,952.1 1408.4,954.1 1409.0,953.9 1409.5,954.8 1410.1,956.6 1410.6,953.5 1411.2,950.9 1411.7,954.1 1412.3,954.9 1412.8,957.3 1413.4,953.9 1413.9,952.4 1414.5,951.9 1415.0,954.9 1415.6,953.3 1416.1,955.7 1416.7,956.4 1417.2,953.7 1417.8,954.9 1418.3,953.8 1418.9,954.9 1419.4,951.0 1420.0,952.0 1420.5,956.9 1421.1,950.8 1421.6,951.7 1422.2,954.9 1422.7,951.9 1423.3,953.0 1423.8,952.1 1424.4,956.9 1424.9,953.8 1425.5,957.2 1426.0,954.5 1426.6,950.9 1427.1,954.4 1427.7,950.5 1428.2,956.1 1428.8,949.8 1429.3,956.3 1429.9,955.3 1430.4,957.1 1431.0,955.1 1431.5,954.7 1432.1,953.4 1432.6,952.9 1433.2,952.6 1433.7,953.4 1434.3,953.5 1434.8,958.5 1435.4,954.6 1435.9,952.0 1436.5,956.3 1437.0,953.8 1437.6,952.1 1438.1,953.6 1438.7,952.0 1439.2,954.3 1439.8,952.5 1440.3,955.2 1440.9,950.6 1441.4,953.4 1442.0,950.4 1442.5,956.6 1443.1,950.7 1443.6,956.9 1444.2,952.6 1444.7,955.1 1445.3,951.6 1445.8,952.6 1446.4,956.1 1446.9,950.8 1447.5,954.7 1448.0,950.4 1448.6,957.8 1449.1,955.9 1449.7,950.2 1450.2,953.2 1450.8,956.1 1451.3,958.5 1451.9,953.9 1452.4,950.4 1453.0,956.5 1453.5,952.5 1454.1,954.0 1454.6,953.0 1455.2,951.1 1455.7,949.4 1456.3,956.8 1456.8,954.0 1457.4,953.7 1457.9,952.4 1458.5,954.3 1459.0,951.4 1459.6,951.2 1460.1,950.7 1460.7,950.6 1461.2,954.0 1461.8,950.5 1462.3,957.2 1462.9,953.3 1463.4,952.7 1464.0,953.2 1464.5,956.9 1465.1,949.3 1465.6,954.0 1466.2,957.5 1466.7,956.2 1467.3,954.8 1467.8,953.5 1468.4,958.9 1468.9,953.5 1469.5,958.2 1470.0,952.5 1470.6,951.3 1471.1,954.4 1471.7,953.6 1472.2,949.6 1472.8,954.3 1473.3,959.2 1473.9,954.1 1474.4,955.2 1475.0,954.3 1475.5,954.3 1476.1,954.8 1476.6,954.6 1477.2,954.3 1477.7,955.0 1478.3,955.1 1478.8,954.6 1479.4,951.3 1479.9,952.5 1480.5,951.9 1481.0,953.7 1481.6,957.2 1482.1,954.7 1482.7,953.3 1483.2,958.1 1483.8,955.8 1484.3,952.9 1484.9,955.2 1485.4,956.4 1486.0,956.3 1486.5,953.3 1487.1,955.1 1487.6,953.4 1488.2,952.2 1488.7,955.9 1489.3,951.1 1489.8,954.8 1490.4,957.2 1490.9,956.5 1491.5,955.3 1492.0,956.2 1492.6,955.8 1493.1,958.2 1493.7,956.7 1494.2,957.1 1494.8,954.4 1495.3,955.5 1495.9,954.8 1496.4,957.8 1497.0,957.5 1497.5,956.1 1498.1,957.5 1498.6,956.0 1499.2,955.6 1499.7,957.0 1500.3,956.5 1500.8,960.4 1501.4,953.5 1501.9,957.9 1502.5,954.3 1503.0,957.7 1503.6,954.3 1504.1,953.0 1504.7,959.3 1505.2,956.1 1505.8,959.6 1506.3,955.2 1506.9,955.1 1507.4,959.1 1508.0,955.6 1508.5,957.0 1509.1,955.3 1509.6,956.6 1510.2,953.0 1510.7,956.5 1511.3,957.0 1511.8,959.1 1512.4,959.2 1512.9,957.2 1513.5,957.6 1514.0,957.3 1514.6,961.5 1515.1,956.1 1515.7,959.0 1516.2,957.6 1516.8,954.9 1517.3,958.3 1517.9,959.5 1518.4,957.8 1519.0,955.0 1519.5,958.3 1520.1,958.3 1520.6,956.3 1521.2,958.8 1521.7,954.1 1522.3,954.8 1522.8,956.5 1523.4,957.2 1523.9,958.9 1524.5,959.1 1525.0,955.9 1525.6,959.3 1526.1,960.4 1526.7,959.1 1527.2,957.3 1527.8,957.1 1528.3,956.1 1528.9,954.0 1529.4,956.3 1530.0,955.1 1530.5,958.2 1531.1,958.1 1531.6,958.6 1532.2,958.6 1532.7,959.0 1533.3,957.2 1533.8,957.5 1534.4,959.1 1534.9,961.1 1535.5,955.1 1536.0,956.5 1536.6,958.1 1537.1,956.8 1537.7,957.7 1538.2,958.9 1538.8,957.5 1539.3,960.6 1539.9,960.5 1540.4,960.7 1541.0,960.3 1541.5,961.0 1542.1,954.1 1542.6,961.2 1543.2,958.1 1543.7,963.9 1544.3,958.7 1544.8,960.6 1545.4,957.3 1545.9,958.0 1546.5,960.6 1547.0,960.9 1547.6,963.1 1548.1,961.8 1548.7,962.7 1549.2,964.0 1549.8,957.5 1550.3,963.1 1550.9,958.9 1551.4,961.0 1552.0,960.2 1552.5,962.1 1553.1,962.0 1553.6,961.5 1554.2,959.7 1554.7,957.1 1555.3,960.7 1555.8,960.5 1556.4,960.7 1556.9,961.7 1557.5,964.3 1558.0,962.8 1558.6,961.6 1559.1,959.8 1559.7,958.6 1560.2,963.6 1560.8,962.2 1561.3,961.0 1561.9,958.1 1562.4,960.4 1563.0,962.2 1563.5,961.9 1564.1,960.3 1564.6,961.5 1565.2,960.8 1565.7,960.6 1566.3,963.9 1566.8,962.7 1567.4,962.0 1567.9,960.7 1568.5,964.1 1569.0,959.2 1569.6,962.2 1570.1,959.8 1570.7,958.0 1571.2,961.0 1571.8,958.1 1572.3,961.3 1572.9,959.2 1573.4,961.7 1574.0,960.8 1574.5,958.8 1575.1,960.8 1575.6,960.0 1576.2,964.1 1576.7,963.8 1577.3,962.6 1577.8,962.6 1578.4,965.3 1578.9,961.3 1579.5,961.0 1580.0,963.4 1580.6,961.6 1581.1,958.7 1581.7,963.0 1582.2,960.4 1582.8,962.6 1583.3,962.7 1583.9,959.1 1584.4,959.7 1585.0,960.6 1585.5,957.2 1586.1,957.6 1586.6,959.6 1587.2,959.2 1587.7,957.5 1588.3,958.9 1588.8,959.7 1589.4,957.7 1589.9,957.5 1590.5,958.7 1591.0,957.0 1591.6,957.3 1592.1,958.2 1592.7,955.4 1593.2,957.8 1593.8,959.3 1594.3,957.0 1594.9,960.9 1595.4,959.5 1596.0,961.3 1596.5,958.8 1597.1,960.0 1597.6,958.7 1598.2,956.9 1598.7,959.8 1599.3,957.4 1599.8,959.6 1600.4,956.8 1600.9,958.5 1601.5,957.9 1602.0,960.5 1602.6,957.6 1603.1,960.1 1603.7,958.9 1604.2,960.6 1604.8,957.0 1605.3,959.3 1605.9,959.1 1606.4,958.5 1607.0,957.6 1607.5,959.6 1608.1,954.4 1608.6,958.1 1609.2,955.6 1609.7,957.3 1610.3,957.8 1610.8,956.7 1611.4,955.4 1611.9,954.0 1612.5,952.9 1613.0,954.1 1613.6,956.0 1614.1,952.3 1614.7,959.3 1615.2,954.4 1615.8,952.9 1616.3,955.9 1616.9,955.7 1617.4,954.3 1618.0,952.0 1618.5,953.2 1619.1,954.8 1619.6,953.9 1620.2,948.7 1620.7,953.3 1621.3,954.7 1621.8,950.1 1622.4,947.7 1622.9,949.4 1623.5,950.6 1624.0,949.7 1624.6,949.4 1625.1,944.0 1625.7,947.7 1626.2,947.2 1626.8,947.8 1627.3,949.3 1627.9,945.3 1628.4,947.9 1629.0,947.6 1629.5,946.2 1630.1,942.7 1630.6,945.2 1631.2,941.3 1631.7,940.8 1632.3,937.6 1632.8,937.7 1633.4,937.0 1633.9,940.2 1634.5,937.6 1635.0,936.7 1635.6,934.7 1636.1,933.6 1636.7,931.7 1637.2,931.9 1637.8,934.0 1638.3,930.3 1638.9,933.4 1639.4,930.0 1640.0,927.6 1640.5,929.8 1641.1,926.8 1641.6,928.1 1642.2,924.9 1642.7,927.9 1643.3,925.6 1643.8,924.9 1644.4,925.7 1644.9,922.8 1645.5,919.7 1646.0,921.6 1646.6,924.4 1647.1,925.3 1647.7,920.1 1648.2,923.3 1648.8,923.4 1649.3,920.0 1649.9,919.5 1650.4,925.7 1651.0,923.5 1651.5,922.4 1652.1,924.2 1652.6,920.7 1653.2,924.4 1653.7,923.9 1654.3,923.8 1654.8,926.5 1655.4,924.9 1655.9,925.2 1656.5,924.6 1657.0,924.3 1657.6,925.8 1658.1,929.0 1658.7,923.4 1659.2,925.4 1659.8,926.7 1660.3,929.3 1660.9,927.6 1661.4,930.3 1662.0,926.2 1662.5,928.6 1663.1,932.3 1663.6,927.6 1664.2,933.1 1664.7,935.8 1665.3,935.7 1665.8,936.9 1666.4,935.2 1666.9,936.8 1667.5,940.7 1668.0,940.6 1668.6,944.2 1669.1,943.0 1669.7,943.6 1670.2,944.2 1670.8,947.6 1671.3,947.5 1671.9,945.5 1672.4,947.8 1673.0,945.7 1673.5,949.2 1674.1,947.6 1674.6,950.8 1675.2,951.3 1675.7,950.4 1676.3,946.6 1676.8,948.6 1677.4,950.3 1677.9,950.5 1678.5,950.9 1679.0,952.2 1679.6,949.5 1680.1,948.8 1680.7,948.7 1681.2,953.2 1681.8,953.0 1682.3,950.8 1682.9,951.7 1683.4,954.2 1684.0,951.5 1684.5,953.4 1685.1,953.8 1685.6,953.0 1686.2,954.1 1686.7,954.7 1687.3,952.2 1687.8,950.1 1688.4,952.8 1688.9,950.5 1689.5,950.2 1690.0,954.4 1690.6,951.6 1691.1,952.6 1691.7,953.7 1692.2,951.9 1692.8,954.6 1693.3,956.9 1693.9,952.3 1694.4,953.8 1695.0,949.5 1695.5,952.6 1696.1,957.2 1696.6,954.3 1697.2,953.8 1697.7,955.5 1698.3,954.4 1698.8,957.6 1699.4,955.0 1699.9,954.3 1700.5,955.1 1701.0,951.4 1701.6,956.8 1702.1,957.1 1702.7,953.2 1703.2,951.9 1703.8,955.7 1704.3,957.3 1704.9,959.7 1705.4,955.8 1706.0,956.1 1706.5,957.6 1707.1,960.1 1707.6,956.5 1708.2,957.7 1708.7,957.3 1709.3,960.4 1709.8,961.6 1710.4,962.9 1710.9,962.4 1711.5,961.4 1712.0,959.2 1712.6,961.2 1713.1,962.8 1713.7,962.3 1714.2,959.7 1714.8,960.9 1715.3,960.9 1715.9,963.5 1716.4,962.5 1717.0,961.5 1717.5,963.5 1718.1,963.2 1718.6,961.6 1719.2,964.6 1719.7,963.0 1720.3,962.8 1720.8,961.5 1721.4,963.4 1721.9,964.2 1722.5,959.6 1723.0,962.3 1723.6,963.1 1724.1,964.6 1724.7,961.7 1725.2,967.4 1725.8,963.8 1726.3,962.9 1726.9,964.3 1727.4,966.2 1728.0,965.0 1728.5,964.0 1729.1,965.9 1729.6,966.2 1730.2,966.2 1730.7,964.6 1731.3,967.0 1731.8,973.5 1732.4,966.6 1732.9,967.5 1733.5,963.9 1734.0,967.6 1734.6,968.3 1735.1,967.1 1735.7,967.8 1736.2,966.5 1736.8,969.6 1737.3,968.4 1737.9,966.5 1738.4,968.0 1739.0,969.2 1739.5,969.1 1740.1,973.0 1740.6,968.7 1741.2,969.1 1741.7,967.5 1742.3,969.9 1742.8,967.6 1743.4,969.8 1743.9,967.9 1744.5,967.6 1745.0,967.6 1745.6,972.3 1746.1,967.0 1746.7,970.6 1747.2,969.0 1747.8,966.7 1748.3,968.3 1748.9,967.4 1749.4,969.2 1750.0,970.5 1750.5,971.8 1751.1,967.5 1751.6,967.4 1752.2,967.2 1752.7,968.3 1753.3,967.0 1753.8,971.1 1754.4,968.1 1754.9,967.8 1755.5,963.2 1756.0,968.5 1756.6,966.5 1757.1,972.1 1757.7,969.3 1758.2,967.6 1758.8,969.1 1759.3,971.4 1759.9,968.9 1760.4,969.5 1761.0,965.2 1761.5,966.9 1762.1,966.1 1762.6,968.8 1763.2,965.6 1763.7,965.2 1764.3,967.2 1764.8,967.6 1765.4,968.8 1765.9,970.4 1766.5,969.8 1767.0,968.0 1767.6,968.0 1768.1,964.6 1768.7,969.6 1769.2,966.2 1769.8,966.9 1770.3,967.4 1770.9,965.9 1771.4,967.1 1772.0,969.0 1772.5,969.7 1773.1,970.6 1773.6,969.0 1774.2,966.7 1774.7,968.3 1775.3,965.8 1775.8,963.6 1776.4,968.3 1776.9,966.7 1777.5,966.7 1778.0,965.7 1778.6,970.5 1779.1,967.6 1779.7,969.5 1780.2,967.6 1780.8,967.9 1781.3,967.8 1781.9,969.9 1782.4,964.4 1783.0,967.0 1783.5,966.4 1784.1,968.2 1784.6,966.6 1785.2,967.6 1785.7,966.6 1786.3,966.1 1786.8,968.3 1787.4,969.3 1787.9,968.2 1788.5,965.5 1789.0,966.5 1789.6,969.0 1790.1,967.2 1790.7,969.2 1791.2,968.1 1791.8,970.4 1792.3,966.5 1792.9,968.5 1793.4,969.5 1794.0,969.0 1794.5,966.2 1795.1,967.0 1795.6,967.6 1796.2,966.5 1796.7,967.6 1797.3,967.6 1797.8,967.9 1798.4,967.9 1798.9,967.3 1799.5,969.8 1800.0,970.2 1800.6,968.4 1801.1,970.7 1801.7,970.6 1802.2,968.1 1802.8,971.5 1803.3,971.1 1803.9,970.2 1804.4,968.3 1805.0,969.5 1805.5,968.2 1806.1,970.3 1806.6,968.8 1807.2,967.5 1807.7,967.6 1808.3,968.6 1808.8,968.0 1809.4,970.4 1809.9,970.9 1810.5,970.1 1811.0,969.3 1811.6,969.5 1812.1,969.1 1812.7,968.7 1813.2,970.8 1813.8,969.1 1814.3,970.9 1814.9,968.5 1815.4,968.1 1816.0,970.5 1816.5,974.4 1817.1,970.1 1817.6,968.8 1818.2,972.4 1818.7,970.1 1819.3,969.6 1819.8,968.3 1820.4,971.3 1820.9,969.5 1821.5,968.9 1822.0,969.8 1822.6,972.0 1823.1,971.7 1823.7,968.7 1824.2,967.4 1824.8,973.0 1825.3,970.8 1825.9,973.9 1826.4,971.3 1827.0,971.6 1827.5,970.8 1828.1,970.9 1828.6,971.3 1829.2,971.0 1829.7,973.4 1830.3,970.7 1830.8,970.4 1831.4,972.8 1831.9,969.6 1832.5,970.6 1833.0,971.2 1833.6,968.8 1834.1,971.8 1834.7,971.0 1835.2,972.6 1835.8,971.8 1836.3,969.5 1836.9,969.3 1837.4,970.3 1838.0,971.2 1838.5,971.4 1839.1,971.4 1839.6,972.7 1840.2,970.0 1840.7,971.1 1841.3,974.3 1841.8,972.0 1842.4,972.1 1842.9,973.3 1843.5,970.3 1844.0,972.8 1844.6,972.1 1845.1,971.2 1845.7,972.6 1846.2,974.5 1846.8,972.8 1847.3,972.1 1847.9,974.7 1848.4,973.2 1849.0,975.3 1849.5,974.3 1850.1,972.5 1850.6,971.4 1851.2,971.8 1851.7,974.0 1852.3,970.4 1852.8,975.9 1853.4,968.4 1853.9,972.9 1854.5,973.9 1855.0,970.9 1855.6,968.8 1856.1,971.3 1856.7,971.5 1857.2,973.5 1857.8,972.1 1858.3,972.6 1858.9,972.0 1859.4,974.5 1860.0,971.6 1860.5,972.1 1861.1,972.8 1861.6,976.8 1862.2,967.7 1862.7,969.2 1863.3,971.6 1863.8,971.2 1864.4,972.5 1864.9,973.9 1865.5,973.8 1866.0,972.4 1866.6,971.8 1867.1,972.6 1867.7,971.8 1868.2,976.0 1868.8,974.9 1869.3,972.9 1869.9,974.1 1870.4,972.3 1871.0,973.0 1871.5,973.3 1872.1,971.3 1872.6,973.1 1873.2,972.0 1873.7,973.7 1874.3,971.4 1874.8,972.0 1875.4,973.7 1875.9,975.1 1876.5,973.6 1877.0,973.3 1877.6,970.6 1878.1,971.9 1878.7,972.9 1879.2,972.6 1879.8,972.8 1880.3,974.4 1880.9,974.7 1881.4,971.8 1882.0,971.4 1882.5,970.2 1883.1,972.7 1883.6,973.5 1884.2,974.5 1884.7,971.5 1885.3,971.8 1885.8,971.2 1886.4,975.8 1886.9,974.9 1887.5,971.7 1888.0,972.8 1888.6,971.2 1889.1,971.7 1889.7,975.5 1890.2,971.8 1890.8,971.9 1891.3,972.1 1891.9,970.0 1892.4,969.6 1893.0,968.9" stroke="#7c0000" stroke-width="13"/>
<path d="M203.9,823.9 204.5,822.9 205.0,821.8 205.6,826.3 206.1,825.3 206.7,830.9 207.2,833.4 207.8,822.8 208.3,838.9 208.9,835.1 209.4,839.0 210.0,841.8 210.5,842.5 211.1,847.6 211.6,850.2 212.2,838.7 212.7,857.0 213.3,849.7 213.8,852.6 214.4,852.8 214.9,851.7 215.5,855.2 216.0,857.1 216.6,858.5 217.1,862.3 217.7,862.1 218.2,859.0 218.8,866.7 219.3,865.5 219.9,862.5 220.4,867.3 221.0,869.4 221.5,867.1 222.1,868.4 222.6,861.6 223.2,864.3 223.7,869.9 224.3,871.5 224.8,875.8 225.4,869.4 225.9,872.0 226.5,875.0 227.0,872.6 227.6,873.2 228.1,881.0 228.7,878.3 229.2,883.3 229.8,876.0 230.3,882.7 230.9,883.4 231.4,887.4 232.0,882.2 232.5,886.4 233.1,886.1 233.6,883.2 234.2,879.5 234.7,881.7 235.3,882.4 235.8,884.1 236.4,887.7 236.9,889.2 237.5,883.0 238.0,888.4 238.6,889.1 239.1,890.2 239.7,884.7 240.2,884.6 240.8,891.4 241.3,889.1 241.9,889.6 242.4,895.3 243.0,888.7 243.5,886.7 244.1,889.6 244.6,897.1 245.2,892.1 245.7,895.1 246.3,895.5 246.8,900.8 247.4,892.3 247.9,896.4 248.5,896.4 249.0,895.2 249.6,897.0 250.1,891.2 250.7,898.4 251.2,893.2 251.8,900.9 252.3,897.7 252.9,893.1 253.4,897.1 254.0,901.2 254.5,896.5 255.1,892.6 255.6,899.0 256.2,900.0 256.7,900.0 257.3,901.3 257.8,904.8 258.4,904.4 258.9,905.1 259.5,901.0 260.0,907.7 260.6,897.2 261.1,897.9 261.7,899.0 262.2,902.1 262.8,903.6 263.3,900.0 263.9,903.4 264.4,906.4 265.0,905.1 265.5,905.1 266.1,907.4 266.6,908.7 267.2,901.9 267.7,904.0 268.3,899.6 268.8,902.2 269.4,902.2 269.9,903.7 270.5,899.8 271.0,904.7 271.6,905.6 272.1,901.9 272.7,904.1 273.2,908.5 273.8,908.4 274.3,903.6 274.9,905.0 275.4,906.2 276.0,909.0 276.5,910.3 277.1,906.1 277.6,906.5 278.2,908.8 278.7,906.5 279.3,909.7 279.8,904.3 280.4,906.6 280.9,914.6 281.5,909.8 282.0,906.4 282.6,913.1 283.1,910.4 283.7,910.3 284.2,911.0 284.8,917.4 285.3,909.7 285.9,908.2 286.4,913.4 287.0,913.9 287.5,908.9 288.1,910.8 288.6,917.5 289.2,914.8 289.7,917.4 290.3,911.9 290.8,913.2 291.4,909.5 291.9,906.1 292.5,916.3 293.0,909.7 293.6,913.1 294.1,910.6 294.7,913.1 295.2,911.3 295.8,919.0 296.3,913.3 296.9,911.1 297.4,912.9 298.0,904.6 298.5,914.4 299.1,910.0 299.6,915.9 300.2,908.5 300.7,916.6 301.3,904.2 301.8,909.6 302.4,915.3 302.9,913.8 303.5,910.1 304.0,914.6 304.6,908.9 305.1,914.9 305.7,916.6 306.2,917.0 306.8,908.5 307.3,916.5 307.9,916.3 308.4,912.7 309.0,912.8 309.5,913.4 310.1,910.5 310.6,911.1 311.2,913.9 311.7,915.2 312.3,912.4 312.8,906.8 313.4,914.4 313.9,906.2 314.5,916.7 315.0,915.1 315.6,909.6 316.1,915.6 316.7,915.3 317.2,911.0 317.8,907.4 318.3,915.6 318.9,912.4 319.4,910.1 320.0,914.1 320.5,908.7 321.1,914.1 321.6,915.6 322.2,907.7 322.7,907.6 323.3,911.6 323.8,908.9 324.4,902.3 324.9,911.6 325.5,906.1 326.0,911.1 326.6,902.6 327.1,907.9 327.7,908.0 328.2,908.1 328.8,903.3 329.3,901.1 329.9,908.1 330.4,909.1 331.0,906.1 331.5,907.1 332.1,903.1 332.6,901.8 333.2,909.1 333.7,910.0 334.3,911.1 334.8,906.0 335.4,901.6 335.9,895.7 336.5,905.3 337.0,907.8 337.6,906.1 338.1,906.0 338.7,900.0 339.2,907.4 339.8,908.0 340.3,911.7 340.9,907.4 341.4,908.2 342.0,896.7 342.5,897.9 343.1,898.0 343.6,905.1 344.2,902.1 344.7,898.6 345.3,898.7 345.8,903.4 346.4,895.9 346.9,902.6 347.5,902.5 348.0,907.7 348.6,900.8 349.1,894.5 349.7,904.9 350.2,900.8 350.8,899.7 351.3,897.7 351.9,900.5 352.4,897.2 353.0,897.9 353.5,897.6 354.1,902.9 354.6,901.4 355.2,894.7 355.7,898.8 356.3,896.9 356.8,899.3 357.4,900.2 357.9,897.6 358.5,902.5 359.0,902.4 359.6,895.2 360.1,898.4 360.7,894.9 361.2,893.3 361.8,893.8 362.3,894.6 362.9,895.0 363.4,900.1 364.0,899.7 364.5,896.4 365.1,895.6 365.6,899.6 366.2,900.6 366.7,903.4 367.3,899.7 367.8,900.6 368.4,894.1 368.9,898.0 369.5,900.8 370.0,896.9 370.6,896.7 371.1,906.7 371.7,902.6 372.2,899.4 372.8,902.8 373.3,900.6 373.9,897.6 374.4,899.4 375.0,899.3 375.5,903.3 376.1,899.6 376.6,900.2 377.2,896.6 377.7,897.0 378.3,900.2 378.8,900.6 379.4,903.1 379.9,903.2 380.5,902.4 381.0,898.6 381.6,903.9 382.1,897.8 382.7,903.6 383.2,905.2 383.8,908.5 384.3,902.9 384.9,905.4 385.4,905.5 386.0,901.1 386.5,909.6 387.1,905.9 387.6,910.3 388.2,904.8 388.7,911.1 389.3,912.4 389.8,911.0 390.4,918.6 390.9,913.2 391.5,915.8 392.0,907.3 392.6,917.0 393.1,909.9 393.7,912.1 394.2,913.5 394.8,915.3 395.3,923.2 395.9,917.3 396.4,918.8 397.0,917.1 397.5,919.2 398.1,914.5 398.6,921.7 399.2,922.3 399.7,917.0 400.3,915.8 400.8,920.6 401.4,924.1 401.9,921.2 402.5,919.4 403.0,927.1 403.6,921.2 404.1,929.7 404.7,932.1 405.2,922.7 405.8,931.9 406.3,932.8 406.9,933.7 407.4,937.5 408.0,939.2 408.5,935.9 409.1,936.9 409.6,936.7 410.2,936.9 410.7,942.6 411.3,942.5 411.8,941.2 412.4,946.9 412.9,947.5 413.5,947.5 414.0,944.9 414.6,946.1 415.1,952.1 415.7,951.2 416.2,949.9 416.8,946.5 417.3,948.2 417.9,950.2 418.4,950.4 419.0,954.7 419.5,954.6 420.1,946.7 420.6,954.1 421.2,955.9 421.7,951.3 422.3,950.6 422.8,955.8 423.4,956.3 423.9,962.2 424.5,958.4 425.0,962.3 425.6,964.4 426.1,964.5 426.7,959.5 427.2,962.3 427.8,961.1 428.3,960.4 428.9,967.2 429.4,960.3 430.0,961.3 430.5,962.2 431.1,966.4 431.6,966.5 432.2,969.0 432.7,969.9 433.3,958.2 433.8,965.5 434.4,969.0 434.9,972.0 435.5,972.7 436.0,966.8 436.6,969.5 437.1,966.3 437.7,974.4 438.2,972.2 438.8,974.5 439.3,973.0 439.9,970.7 440.4,968.8 441.0,980.0 441.5,969.3 442.1,970.8 442.6,979.5 443.2,972.4 443.7,977.9 444.3,981.0 444.8,981.3 445.4,979.8 445.9,978.9 446.5,982.0 447.0,979.7 447.6,980.9 448.1,978.6 448.7,978.4 449.2,975.4 449.8,984.9 450.3,981.1 450.9,986.9 451.4,975.7 452.0,976.1 452.5,980.0 453.1,978.4 453.6,980.9 454.2,979.6 454.7,980.3 455.3,982.1 455.8,986.9 456.4,984.3 456.9,979.4 457.5,982.0 458.0,981.6 458.6,987.8 459.1,975.7 459.7,980.0 460.2,983.8 460.8,980.5 461.3,986.2 461.9,980.5 462.4,983.0 463.0,986.1 463.5,989.3 464.1,987.7 464.6,982.5 465.2,987.6 465.7,981.3 466.3,983.4 466.8,988.3 467.4,980.5 467.9,989.2 468.5,981.8 469.0,988.0 469.6,986.3 470.1,987.9 470.7,987.6 471.2,982.2 471.8,986.9 472.3,989.5 472.9,986.7 473.4,990.2 474.0,983.5 474.5,985.9 475.1,992.7 475.6,989.2 476.2,989.1 476.7,989.9 477.3,993.1 477.8,987.1 478.4,992.1 478.9,989.6 479.5,989.5 480.0,986.7 480.6,994.7 481.1,991.4 481.7,988.8 482.2,989.7 482.8,988.3 483.3,993.7 483.9,986.2 484.4,989.2 485.0,990.5 485.5,991.7 486.1,988.7 486.6,988.8 487.2,994.5 487.7,997.2 488.3,989.4 488.8,991.2 489.4,991.2 489.9,990.4 490.5,995.4 491.0,985.5 491.6,988.8 492.1,992.2 492.7,994.5 493.2,995.1 493.8,996.1 494.3,996.3 494.9,993.6 495.4,994.0 496.0,996.2 496.5,998.4 497.1,998.4 497.6,994.2 498.2,993.7 498.7,999.6 499.3,997.7 499.8,1000.3 500.4,995.7 500.9,994.8 501.5,997.6 502.0,990.9 502.6,998.4 503.1,994.4 503.7,994.2 504.2,996.0 504.8,992.2 505.3,994.2 505.9,1000.6 506.4,992.2 507.0,996.5 507.5,992.9 508.1,999.8 508.6,1002.0 509.2,989.8 509.7,997.3 510.3,997.0 510.8,998.8 511.4,999.5 511.9,997.6 512.5,998.5 513.0,994.2 513.6,1002.2 514.1,998.4 514.7,993.0 515.2,995.5 515.8,996.0 516.3,992.5 516.9,994.2 517.4,993.4 518.0,999.3 518.5,1001.9 519.1,997.4 519.6,1001.0 520.2,993.1 520.7,996.9 521.3,995.6 521.8,999.3 522.4,994.6 522.9,996.6 523.5,996.7 524.0,995.8 524.6,993.8 525.1,999.7 525.7,994.3 526.2,998.2 526.8,993.2 527.3,993.0 527.9,994.3 528.4,994.8 529.0,1000.7 529.5,995.0 530.1,995.9 530.6,995.6 531.2,998.8 531.7,1000.5 532.3,995.5 532.8,996.4 533.4,1001.1 533.9,1001.5 534.5,997.6 535.0,996.9 535.6,989.6 536.1,995.0 536.7,1000.8 537.2,995.5 537.8,990.8 538.3,996.0 538.9,995.1 539.4,999.0 540.0,996.8 540.5,997.7 541.1,1002.1 541.6,996.0 542.2,994.6 542.7,997.5 543.3,998.3 543.8,993.7 544.4,999.3 544.9,992.3 545.5,994.4 546.0,999.0 546.6,1001.7 547.1,996.5 547.7,1000.2 548.2,996.7 548.8,994.2 549.3,995.9 549.9,999.0 550.4,998.7 551.0,1001.8 551.5,997.9 552.1,1000.8 552.6,1001.1 553.2,993.1 553.7,992.7 554.3,995.4 554.8,999.4 555.4,999.9 555.9,993.6 556.5,994.3 557.0,992.3 557.6,993.4 558.1,1002.7 558.7,995.0 559.2,991.4 559.8,992.1 560.3,989.5 560.9,997.6 561.4,994.7 562.0,1002.0 562.5,1000.4 563.1,991.9 563.6,990.7 564.2,990.8 564.7,998.2 565.3,1004.2 565.8,994.2 566.4,993.7 566.9,994.6 567.5,992.7 568.0,989.8 568.6,993.4 569.1,991.2 569.7,995.1 570.2,994.3 570.8,994.0 571.3,996.7 571.9,990.9 572.4,998.6 573.0,997.5 573.5,997.8 574.1,992.7 574.6,994.9 575.2,998.4 575.7,995.8 576.3,989.7 576.8,995.7 577.4,992.9 577.9,993.3 578.5,993.5 579.0,989.0 579.6,991.1 580.1,989.9 580.7,990.5 581.2,994.5 581.8,995.7 582.3,994.2 582.9,995.1 583.4,992.1 584.0,991.4 584.5,989.6 585.1,994.5 585.6,991.9 586.2,993.2 586.7,992.5 587.3,997.1 587.8,989.0 588.4,990.5 588.9,987.9 589.5,989.4 590.0,993.3 590.6,990.6 591.1,984.0 591.7,988.2 592.2,991.6 592.8,991.0 593.3,989.3 593.9,992.5 594.4,990.1 595.0,990.6 595.5,992.6 596.1,992.2 596.6,985.0 597.2,989.0 597.7,993.7 598.3,990.2 598.8,993.0 599.4,987.8 599.9,991.2 600.5,988.5 601.0,987.7 601.6,988.6 602.1,990.9 602.7,985.4 603.2,986.8 603.8,985.0 604.3,985.6 604.9,986.0 605.4,985.3 606.0,985.8 606.5,989.2 607.1,982.5 607.6,978.4 608.2,989.9 608.7,990.6 609.3,980.7 609.8,983.1 610.4,987.2 610.9,984.0 611.5,982.7 612.0,981.5 612.6,978.9 613.1,988.2 613.7,984.0 614.2,978.9 614.8,985.9 615.3,987.4 615.9,984.8 616.4,985.6 617.0,980.0 617.5,986.0 618.1,983.6 618.6,982.9 619.2,981.9 619.7,985.0 620.3,993.0 620.8,983.5 621.4,984.3 621.9,983.8 622.5,983.8 623.0,989.1 623.6,986.6 624.1,990.0 624.7,988.9 625.2,978.3 625.8,986.7 626.3,982.8 626.9,978.0 627.4,978.4 628.0,981.7 628.5,986.1 629.1,984.4 629.6,982.2 630.2,978.8 630.7,980.7 631.3,981.9 631.8,982.2 632.4,979.0 632.9,974.2 633.5,976.9 634.0,981.1 634.6,979.0 635.1,981.1 635.7,980.7 636.2,976.1 636.8,979.5 637.3,981.2 637.9,975.0 638.4,975.1 639.0,980.4 639.5,975.7 640.1,977.0 640.6,975.9 641.2,976.0 641.7,975.4 642.3,979.1 642.8,976.0 643.4,975.1 643.9,975.9 644.5,973.3 645.0,971.1 645.6,969.7 646.1,978.9 646.7,970.9 647.2,969.4 647.8,974.3 648.3,974.1 648.9,973.5 649.4,973.2 650.0,967.4 650.5,976.8 651.1,973.8 651.6,969.1 652.2,968.5 652.7,961.8 653.3,966.1 653.8,971.6 654.4,971.7 654.9,967.2 655.5,965.4 656.0,967.9 656.6,966.9 657.1,967.4 657.7,969.8 658.2,959.4 658.8,967.3 659.3,962.1 659.9,969.0 660.4,964.2 661.0,961.6 661.5,968.3 662.1,968.9 662.6,964.3 663.2,971.1 663.7,964.7 664.3,964.5 664.8,966.1 665.4,965.1 665.9,963.5 666.5,970.4 667.0,964.3 667.6,966.9 668.1,963.2 668.7,962.5 669.2,962.6 669.8,960.5 670.3,967.4 670.9,959.7 671.4,963.8 672.0,964.7 672.5,957.4 673.1,964.8 673.6,960.0 674.2,961.1 674.7,959.1 675.3,964.7 675.8,957.6 676.4,958.7 676.9,962.8 677.5,968.7 678.0,965.2 678.6,965.6 679.1,958.6 679.7,965.7 680.2,961.1 680.8,961.0 681.3,970.6 681.9,967.1 682.4,963.3 683.0,959.4 683.5,963.7 684.1,966.3 684.6,964.4 685.2,968.2 685.7,962.8 686.3,966.5 686.8,968.2 687.4,965.0 687.9,964.0 688.5,970.4 689.0,966.8 689.6,968.0 690.1,964.3 690.7,968.1 691.2,968.7 691.8,969.0 692.3,968.4 692.9,969.2 693.4,968.1 694.0,970.0 694.5,968.4 695.1,968.5 695.6,975.4 696.2,962.5 696.7,965.9 697.3,971.6 697.8,970.8 698.4,980.6 698.9,976.2 699.5,978.5 700.0,972.4 700.6,973.9 701.1,971.3 701.7,974.8 702.2,979.7 702.8,975.6 703.3,981.6 703.9,980.5 704.4,976.1 705.0,977.9 705.5,980.6 706.1,984.6 706.6,980.6 707.2,981.1 707.7,983.7 708.3,984.9 708.8,985.8 709.4,988.1 709.9,980.9 710.5,985.8 711.0,988.9 711.6,992.7 712.1,990.2 712.7,988.1 713.2,989.5 713.8,986.5 714.3,991.5 714.9,986.2 715.4,987.0 716.0,988.2 716.5,991.1 717.1,994.3 717.6,991.1 718.2,996.6 718.7,995.8 719.3,997.0 719.8,995.4 720.4,994.8 720.9,994.2 721.5,997.6 722.0,995.7 722.6,994.1 723.1,998.6 723.7,999.9 724.2,996.7 724.8,995.4 725.3,997.9 725.9,993.0 726.4,1002.5 727.0,998.7 727.5,1003.2 728.1,1002.6 728.6,1000.1 729.2,1001.4 729.7,995.1 730.3,1001.5 730.8,998.3 731.4,1005.0 731.9,1001.8 732.5,1004.3 733.0,1001.5 733.6,1000.1 734.1,1000.5 734.7,1007.6 735.2,1005.1 735.8,1003.6 736.3,1004.7 736.9,1001.7 737.4,1004.8 738.0,1003.1 738.5,1011.5 739.1,1001.6 739.6,1005.3 740.2,1001.2 740.7,1001.1 741.3,1000.4 741.8,1010.4 742.4,1008.0 742.9,1010.0 743.5,1009.1 744.0,1005.8 744.6,1003.4 745.1,1004.4 745.7,1002.8 746.2,1006.6 746.8,1006.2 747.3,1006.5 747.9,1013.3 748.4,1004.3 749.0,1009.2 749.5,1006.6 750.1,1008.4 750.6,1008.8 751.2,1014.0 751.7,1008.4 752.3,1011.2 752.8,1017.0 753.4,1017.3 753.9,1013.6 754.5,1014.0 755.0,1018.4 755.6,1015.2 756.1,1012.2 756.7,1011.2 757.2,1011.1 757.8,1014.3 758.3,1013.4 758.9,1018.6 759.4,1012.5 760.0,1017.7 760.5,1015.4 761.1,1015.0 761.6,1017.6 762.2,1014.7 762.7,1014.4 763.3,1009.2 763.8,1013.6 764.4,1010.5 764.9,1014.7 765.5,1014.0 766.0,1013.6 766.6,1011.1 767.1,1012.3 767.7,1018.1 768.2,1016.9 768.8,1013.1 769.3,1018.1 769.9,1013.4 770.4,1009.0 771.0,1013.2 771.5,1013.6 772.1,1011.4 772.6,1012.3 773.2,1015.3 773.7,1011.8 774.3,1014.2 774.8,1015.9 775.4,1011.6 775.9,1013.3 776.5,1011.7 777.0,1016.7 777.6,1019.8 778.1,1017.3 778.7,1009.5 779.2,1018.3 779.8,1012.6 780.3,1016.0 780.9,1012.0 781.4,1021.8 782.0,1016.9 782.5,1014.4 783.1,1016.8 783.6,1021.2 784.2,1011.0 784.7,1019.4 785.3,1016.9 785.8,1011.1 786.4,1017.9 786.9,1019.3 787.5,1016.4 788.0,1014.2 788.6,1015.6 789.1,1018.5 789.7,1021.4 790.2,1019.6 790.8,1021.8 791.3,1016.0 791.9,1015.6 792.4,1024.1 793.0,1025.6 793.5,1019.1 794.1,1020.8 794.6,1020.6 795.2,1023.0 795.7,1022.5 796.3,1021.8 796.8,1020.7 797.4,1014.7 797.9,1025.7 798.5,1017.0 799.0,1018.1 799.6,1015.4 800.1,1019.0 800.7,1017.7 801.2,1019.4 801.8,1018.1 802.3,1022.8 802.9,1022.3 803.4,1017.2 804.0,1025.1 804.5,1019.1 805.1,1028.8 805.6,1022.4 806.2,1023.2 806.7,1022.0 807.3,1024.5 807.8,1031.4 808.4,1023.8 808.9,1023.6 809.5,1021.8 810.0,1021.0 810.6,1025.9 811.1,1026.7 811.7,1020.6 812.2,1022.4 812.8,1021.8 813.3,1020.9 813.9,1022.9 814.4,1020.4 815.0,1019.9 815.5,1031.0 816.1,1015.7 816.6,1021.6 817.2,1024.3 817.7,1020.4 818.3,1018.9 818.8,1023.8 819.4,1024.6 819.9,1026.4 820.5,1017.7 821.0,1023.1 821.6,1026.1 822.1,1029.8 822.7,1027.1 823.2,1021.0 823.8,1025.2 824.3,1024.6 824.9,1026.6 825.4,1027.9 826.0,1030.7 826.5,1023.9 827.1,1029.0 827.6,1025.6 828.2,1024.6 828.7,1024.8 829.3,1025.2 829.8,1029.4 830.4,1029.0 830.9,1019.4 831.5,1027.7 832.0,1029.9 832.6,1029.6 833.1,1030.5 833.7,1027.2 834.2,1029.6 834.8,1022.0 835.3,1027.5 835.9,1024.9 836.4,1022.7 837.0,1022.8 837.5,1026.7 838.1,1029.2 838.6,1021.7 839.2,1027.4 839.7,1030.0 840.3,1026.5 840.8,1031.5 841.4,1027.4 841.9,1031.1 842.5,1030.4 843.0,1034.1 843.6,1034.7 844.1,1026.6 844.7,1034.4 845.2,1036.1 845.8,1025.1 846.3,1036.1 846.9,1033.4 847.4,1028.9 848.0,1036.4 848.5,1033.7 849.1,1030.6 849.6,1031.3 850.2,1031.9 850.7,1032.7 851.3,1032.6 851.8,1032.0 852.4,1030.0 852.9,1032.9 853.5,1034.6 854.0,1036.1 854.6,1031.3 855.1,1030.4 855.7,1028.3 856.2,1037.3 856.8,1036.2 857.3,1028.7 857.9,1026.6 858.4,1032.7 859.0,1030.0 859.5,1034.7 860.1,1039.7 860.6,1032.9 861.2,1029.6 861.7,1036.4 862.3,1036.8 862.8,1035.7 863.4,1034.6 863.9,1033.6 864.5,1035.5 865.0,1029.1 865.6,1035.3 866.1,1034.7 866.7,1036.4 867.2,1027.7 867.8,1035.9 868.3,1036.3 868.9,1032.9 869.4,1036.3 870.0,1032.9 870.5,1036.2 871.1,1030.1 871.6,1034.0 872.2,1036.3 872.7,1034.9 873.3,1038.4 873.8,1037.4 874.4,1031.5 874.9,1034.7 875.5,1039.3 876.0,1037.8 876.6,1040.2 877.1,1035.8 877.7,1037.6 878.2,1039.1 878.8,1032.8 879.3,1037.5 879.9,1032.2 880.4,1037.4 881.0,1040.9 881.5,1038.7 882.1,1038.0 882.6,1037.4 883.2,1040.3 883.7,1035.2 884.3,1044.7 884.8,1040.1 885.4,1040.3 885.9,1040.8 886.5,1036.8 887.0,1042.0 887.6,1040.8 888.1,1037.6 888.7,1038.5 889.2,1038.3 889.8,1036.5 890.3,1033.0 890.9,1038.9 891.4,1040.8 892.0,1044.0 892.5,1041.4 893.1,1045.6 893.6,1040.0 894.2,1040.4 894.7,1040.8 895.3,1039.5 895.8,1044.0 896.4,1037.8 896.9,1041.1 897.5,1041.3 898.0,1040.1 898.6,1048.6 899.1,1042.2 899.7,1039.5 900.2,1044.5 900.8,1040.8 901.3,1042.2 901.9,1038.5 902.4,1034.9 903.0,1046.9 903.5,1041.9 904.1,1039.4 904.6,1037.2 905.2,1038.7 905.7,1039.3 906.3,1040.1 906.8,1034.2 907.4,1038.9 907.9,1045.4 908.5,1043.4 909.0,1046.5 909.6,1042.9 910.1,1039.7 910.7,1045.8 911.2,1040.3 911.8,1042.5 912.3,1042.8 912.9,1042.5 913.4,1036.9 914.0,1046.0 914.5,1039.7 915.1,1043.6 915.6,1040.1 916.2,1042.5 916.7,1044.9 917.3,1037.0 917.8,1037.6 918.4,1045.4 918.9,1039.9 919.5,1040.2 920.0,1046.6 920.6,1044.9 921.1,1043.3 921.7,1046.1 922.2,1041.7 922.8,1045.5 923.3,1045.4 923.9,1045.3 924.4,1042.7 925.0,1046.6 925.5,1047.6 926.1,1048.9 926.6,1041.9 927.2,1041.8 927.7,1046.4 928.3,1043.1 928.8,1049.5 929.4,1044.1 929.9,1043.1 930.5,1039.2 931.0,1044.7 931.6,1041.3 932.1,1046.8 932.7,1044.6 933.2,1044.7 933.8,1043.2 934.3,1039.4 934.9,1042.8 935.4,1040.6 936.0,1042.9 936.5,1041.0 937.1,1046.0 937.6,1045.7 938.2,1041.7 938.7,1042.7 939.3,1041.3 939.8,1043.0 940.4,1050.1 940.9,1041.3 941.5,1033.0 942.0,1044.2 942.6,1041.0 943.1,1038.7 943.7,1037.6 944.2,1042.5 944.8,1037.7 945.3,1043.3 945.9,1040.6 946.4,1036.5 947.0,1039.5 947.5,1041.6 948.1,1037.1 948.6,1034.1 949.2,1038.6 949.7,1045.6 950.3,1036.3 950.8,1036.0 951.4,1034.4 951.9,1041.4 952.5,1036.3 953.0,1036.6 953.6,1037.6 954.1,1037.0 954.7,1030.3 955.2,1037.3 955.8,1031.1 956.3,1029.3 956.9,1032.4 957.4,1034.0 958.0,1031.9 958.5,1029.5 959.1,1028.9 959.6,1031.7 960.2,1029.3 960.7,1025.9 961.3,1024.5 961.8,1027.6 962.4,1027.1 962.9,1021.0 963.5,1026.8 964.0,1028.9 964.6,1030.5 965.1,1028.8 965.7,1023.9 966.2,1022.9 966.8,1026.4 967.3,1021.3 967.9,1021.3 968.4,1030.8 969.0,1018.0 969.5,1023.1 970.1,1018.0 970.6,1024.1 971.2,1019.0 971.7,1022.9 972.3,1023.7 972.8,1023.1 973.4,1025.5 973.9,1026.6 974.5,1016.9 975.0,1018.3 975.6,1024.6 976.1,1021.3 976.7,1022.2 977.2,1021.1 977.8,1023.1 978.3,1019.6 978.9,1024.6 979.4,1022.3 980.0,1026.7 980.5,1017.6 981.1,1017.8 981.6,1020.5 982.2,1016.7 982.7,1017.2 983.3,1019.6 983.8,1018.9 984.4,1027.6 984.9,1018.6 985.5,1022.2 986.0,1019.9 986.6,1018.2 987.1,1022.5 987.7,1025.0 988.2,1025.7 988.8,1020.9 989.3,1025.5 989.9,1023.3 990.4,1021.0 991.0,1024.5 991.5,1019.9 992.1,1026.2 992.6,1017.8 993.2,1018.2 993.7,1014.5 994.3,1022.7 994.8,1019.1 995.4,1019.7 995.9,1023.2 996.5,1026.3 997.0,1021.7 997.6,1017.2 998.1,1027.1 998.7,1018.7 999.2,1022.8 999.8,1023.9 1000.3,1025.7 1000.9,1022.7 1001.4,1026.0 1002.0,1024.9 1002.5,1023.9 1003.1,1022.7 1003.6,1023.8 1004.2,1020.6 1004.7,1020.7 1005.3,1024.6 1005.8,1029.9 1006.4,1018.5 1006.9,1023.9 1007.5,1026.1 1008.0,1021.4 1008.6,1023.0 1009.1,1026.9 1009.7,1019.7 1010.2,1026.4 1010.8,1026.5 1011.3,1025.2 1011.9,1028.1 1012.4,1026.9 1013.0,1025.1 1013.5,1025.9 1014.1,1021.0 1014.6,1022.2 1015.2,1029.1 1015.7,1027.0 1016.3,1028.8 1016.8,1030.2 1017.4,1024.6 1017.9,1036.0 1018.5,1023.8 1019.0,1031.5 1019.6,1023.5 1020.1,1030.1 1020.7,1028.0 1021.2,1025.0 1021.8,1027.8 1022.3,1028.3 1022.9,1027.8 1023.4,1029.7 1024.0,1028.7 1024.5,1031.4 1025.1,1034.5 1025.6,1029.3 1026.2,1028.1 1026.7,1039.1 1027.3,1028.8 1027.8,1027.7 1028.4,1036.4 1028.9,1029.8 1029.5,1034.4 1030.0,1032.4 1030.6,1030.7 1031.1,1035.4 1031.7,1030.1 1032.2,1036.2 1032.8,1027.8 1033.3,1035.2 1033.9,1034.1 1034.4,1031.7 1035.0,1027.5 1035.5,1032.5 1036.1,1034.5 1036.6,1034.7 1037.2,1038.4 1037.7,1037.8 1038.3,1032.0 1038.8,1032.7 1039.4,1031.0 1039.9,1034.4 1040.5,1035.4 1041.0,1036.2 1041.6,1033.6 1042.1,1037.6 1042.7,1033.2 1043.2,1036.1 1043.8,1040.5 1044.3,1034.1 1044.9,1035.5 1045.4,1029.6 1046.0,1039.1 1046.5,1039.5 1047.1,1037.5 1047.6,1038.5 1048.2,1032.2 1048.7,1039.4 1049.3,1039.2 1049.8,1042.2 1050.4,1035.4 1050.9,1036.7 1051.5,1033.1 1052.0,1032.3 1052.6,1038.6 1053.1,1037.3 1053.7,1034.8 1054.2,1039.1 1054.8,1041.3 1055.3,1035.8 1055.9,1039.4 1056.4,1038.3 1057.0,1038.8 1057.5,1041.5 1058.1,1037.2 1058.6,1040.0 1059.2,1033.2 1059.7,1039.8 1060.3,1045.2 1060.8,1044.3 1061.4,1041.9 1061.9,1036.6 1062.5,1041.4 1063.0,1039.8 1063.6,1038.8 1064.1,1040.8 1064.7,1041.1 1065.2,1043.8 1065.8,1040.4 1066.3,1035.1 1066.9,1040.1 1067.4,1045.1 1068.0,1041.2 1068.5,1043.7 1069.1,1043.2 1069.6,1041.4 1070.2,1044.4 1070.7,1045.2 1071.3,1045.5 1071.8,1039.2 1072.4,1042.4 1072.9,1042.6 1073.5,1043.2 1074.0,1038.3 1074.6,1040.1 1075.1,1043.8 1075.7,1045.4 1076.2,1042.2 1076.8,1039.4 1077.3,1047.2 1077.9,1043.9 1078.4,1045.3 1079.0,1041.5 1079.5,1042.1 1080.1,1042.7 1080.6,1043.4 1081.2,1038.8 1081.7,1041.6 1082.3,1035.0 1082.8,1043.3 1083.4,1038.9 1083.9,1047.4 1084.5,1045.2 1085.0,1045.7 1085.6,1046.1 1086.1,1045.2 1086.7,1042.4 1087.2,1043.0 1087.8,1044.0 1088.3,1041.7 1088.9,1041.4 1089.4,1045.9 1090.0,1050.1 1090.5,1044.8 1091.1,1041.4 1091.6,1038.5 1092.2,1038.6 1092.7,1041.7 1093.3,1046.2 1093.8,1044.0 1094.4,1041.6 1094.9,1044.9 1095.5,1044.7 1096.0,1047.3 1096.6,1047.0 1097.1,1045.7 1097.7,1042.5 1098.2,1042.6 1098.8,1045.5 1099.3,1044.5 1099.9,1049.7 1100.4,1049.7 1101.0,1042.6 1101.5,1050.5 1102.1,1043.6 1102.6,1046.9 1103.2,1048.9 1103.7,1043.7 1104.3,1047.1 1104.8,1046.2 1105.4,1049.5 1105.9,1046.1 1106.5,1045.1 1107.0,1049.3 1107.6,1048.3 1108.1,1049.6 1108.7,1046.7 1109.2,1044.0 1109.8,1050.5 1110.3,1048.5 1110.9,1054.3 1111.4,1047.6 1112.0,1042.7 1112.5,1046.6 1113.1,1048.8 1113.6,1043.0 1114.2,1044.9 1114.7,1047.9 1115.3,1046.7 1115.8,1049.3 1116.4,1046.6 1116.9,1054.2 1117.5,1046.8 1118.0,1048.9 1118.6,1046.1 1119.1,1048.9 1119.7,1049.3 1120.2,1047.2 1120.8,1046.0 1121.3,1054.9 1121.9,1048.7 1122.4,1049.1 1123.0,1046.3 1123.5,1055.1 1124.1,1047.4 1124.6,1050.2 1125.2,1050.4 1125.7,1053.7 1126.3,1047.9 1126.8,1051.8 1127.4,1051.7 1127.9,1049.9 1128.5,1048.3 1129.0,1047.8 1129.6,1050.7 1130.1,1049.9 1130.7,1052.4 1131.2,1054.8 1131.8,1052.8 1132.3,1053.8 1132.9,1049.6 1133.4,1047.2 1134.0,1052.5 1134.5,1054.5 1135.1,1051.3 1135.6,1049.4 1136.2,1051.7 1136.7,1052.7 1137.3,1054.8 1137.8,1051.8 1138.4,1053.6 1138.9,1052.0 1139.5,1046.2 1140.0,1055.6 1140.6,1051.4 1141.1,1057.7 1141.7,1057.6 1142.2,1052.1 1142.8,1052.6 1143.3,1054.9 1143.9,1053.6 1144.4,1057.1 1145.0,1057.3 1145.5,1049.4 1146.1,1047.7 1146.6,1055.5 1147.2,1057.1 1147.7,1052.4 1148.3,1051.3 1148.8,1053.3 1149.4,1051.1 1149.9,1046.1 1150.5,1047.8 1151.0,1050.4 1151.6,1054.4 1152.1,1050.5 1152.7,1051.6 1153.2,1048.1 1153.8,1054.0 1154.3,1046.5 1154.9,1053.1 1155.4,1052.0 1156.0,1051.8 1156.5,1051.6 1157.1,1051.7 1157.6,1050.7 1158.2,1052.9 1158.7,1057.8 1159.3,1053.1 1159.8,1047.7 1160.4,1051.0 1160.9,1054.4 1161.5,1053.9 1162.0,1053.9 1162.6,1052.6 1163.1,1052.3 1163.7,1051.5 1164.2,1049.9 1164.8,1055.5 1165.3,1055.8 1165.9,1060.4 1166.4,1056.5 1167.0,1054.3 1167.5,1057.5 1168.1,1057.4 1168.6,1051.6 1169.2,1056.0 1169.7,1057.3 1170.3,1053.2 1170.8,1054.5 1171.4,1055.0 1171.9,1058.6 1172.5,1054.8 1173.0,1057.8 1173.6,1052.8 1174.1,1059.5 1174.7,1059.4 1175.2,1061.1 1175.8,1057.5 1176.3,1056.5 1176.9,1053.5 1177.4,1059.9 1178.0,1061.2 1178.5,1058.0 1179.1,1057.7 1179.6,1055.7 1180.2,1061.6 1180.7,1056.8 1181.3,1059.7 1181.8,1052.9 1182.4,1058.3 1182.9,1058.2 1183.5,1060.0 1184.0,1061.1 1184.6,1055.7 1185.1,1055.5 1185.7,1058.7 1186.2,1059.9 1186.8,1052.6 1187.3,1054.8 1187.9,1061.2 1188.4,1055.6 1189.0,1056.2 1189.5,1056.2 1190.1,1058.1 1190.6,1057.9 1191.2,1055.9 1191.7,1061.6 1192.3,1060.5 1192.8,1057.6 1193.4,1056.7 1193.9,1054.8 1194.5,1058.2 1195.0,1053.6 1195.6,1055.7 1196.1,1056.5 1196.7,1057.0 1197.2,1055.9 1197.8,1060.8 1198.3,1056.4 1198.9,1058.7 1199.4,1057.9 1200.0,1056.0 1200.5,1057.8 1201.1,1056.0 1201.6,1054.3 1202.2,1053.9 1202.7,1057.2 1203.3,1054.4 1203.8,1056.8 1204.4,1056.2 1204.9,1057.1 1205.5,1056.7 1206.0,1055.0 1206.6,1057.3 1207.1,1055.9 1207.7,1056.8 1208.2,1055.7 1208.8,1054.5 1209.3,1054.5 1209.9,1054.4 1210.4,1055.4 1211.0,1053.7 1211.5,1056.6 1212.1,1056.0 1212.6,1055.7 1213.2,1054.7 1213.7,1059.1 1214.3,1059.5 1214.8,1058.8 1215.4,1056.0 1215.9,1057.0 1216.5,1059.1 1217.0,1059.1 1217.6,1058.7 1218.1,1059.0 1218.7,1060.3 1219.2,1057.4 1219.8,1054.3 1220.3,1058.3 1220.9,1057.9 1221.4,1061.7 1222.0,1057.4 1222.5,1057.8 1223.1,1058.6 1223.6,1055.6 1224.2,1055.7 1224.7,1054.8 1225.3,1054.9 1225.8,1059.8 1226.4,1060.5 1226.9,1053.2 1227.5,1058.4 1228.0,1058.9 1228.6,1059.0 1229.1,1060.6 1229.7,1051.9 1230.2,1061.3 1230.8,1055.8 1231.3,1052.0 1231.9,1060.6 1232.4,1059.1 1233.0,1054.2 1233.5,1052.6 1234.1,1057.8 1234.6,1061.4 1235.2,1060.9 1235.7,1056.7 1236.3,1057.1 1236.8,1060.5 1237.4,1057.9 1237.9,1057.0 1238.5,1058.4 1239.0,1056.6 1239.6,1053.5 1240.1,1058.3 1240.7,1056.2 1241.2,1061.0 1241.8,1059.0 1242.3,1056.8 1242.9,1054.8 1243.4,1057.3 1244.0,1058.5 1244.5,1056.9 1245.1,1061.6 1245.6,1062.8 1246.2,1060.3 1246.7,1055.4 1247.3,1056.3 1247.8,1053.2 1248.4,1057.9 1248.9,1057.4 1249.5,1058.9 1250.0,1056.7 1250.6,1054.9 1251.1,1059.7 1251.7,1057.4 1252.2,1059.5 1252.8,1062.3 1253.3,1057.1 1253.9,1061.7 1254.4,1057.5 1255.0,1058.0 1255.5,1060.0 1256.1,1052.9 1256.6,1059.0 1257.2,1059.0 1257.7,1059.7 1258.3,1061.0 1258.8,1059.0 1259.4,1058.5 1259.9,1060.3 1260.5,1059.8 1261.0,1062.7 1261.6,1057.9 1262.1,1061.1 1262.7,1061.5 1263.2,1062.2 1263.8,1059.5 1264.3,1059.5 1264.9,1056.0 1265.4,1059.9 1266.0,1056.1 1266.5,1059.6 1267.1,1059.3 1267.6,1059.8 1268.2,1060.0 1268.7,1061.6 1269.3,1064.0 1269.8,1062.8 1270.4,1059.9 1270.9,1059.9 1271.5,1061.4 1272.0,1063.1 1272.6,1059.3 1273.1,1062.8 1273.7,1066.1 1274.2,1061.6 1274.8,1059.0 1275.3,1064.6 1275.9,1062.9 1276.4,1061.0 1277.0,1060.7 1277.5,1062.0 1278.1,1062.5 1278.6,1059.3 1279.2,1061.9 1279.7,1057.2 1280.3,1060.3 1280.8,1059.0 1281.4,1061.4 1281.9,1062.5 1282.5,1064.6 1283.0,1063.3 1283.6,1058.3 1284.1,1061.6 1284.7,1064.5 1285.2,1058.8 1285.8,1061.2 1286.3,1064.9 1286.9,1061.6 1287.4,1059.3 1288.0,1062.6 1288.5,1060.5 1289.1,1062.9 1289.6,1060.0 1290.2,1061.9 1290.7,1060.8 1291.3,1059.1 1291.8,1061.4 1292.4,1069.6 1292.9,1064.5 1293.5,1069.4 1294.0,1060.2 1294.6,1063.2 1295.1,1063.5 1295.7,1060.5 1296.2,1061.9 1296.8,1063.5 1297.3,1067.1 1297.9,1062.6 1298.4,1059.5 1299.0,1064.6 1299.5,1067.9 1300.1,1062.2 1300.6,1062.6 1301.2,1062.9 1301.7,1059.9 1302.3,1060.1 1302.8,1062.7 1303.4,1064.8 1303.9,1064.0 1304.5,1061.4 1305.0,1062.5 1305.6,1065.9 1306.1,1063.6 1306.7,1062.1 1307.2,1065.7 1307.8,1070.4 1308.3,1061.9 1308.9,1060.7 1309.4,1062.2 1310.0,1059.8 1310.5,1061.0 1311.1,1062.5 1311.6,1062.5 1312.2,1062.4 1312.7,1062.6 1313.3,1060.3 1313.8,1065.2 1314.4,1063.5 1314.9,1063.3 1315.5,1065.4 1316.0,1063.4 1316.6,1065.3 1317.1,1070.8 1317.7,1062.4 1318.2,1062.2 1318.8,1063.5 1319.3,1065.7 1319.9,1060.5 1320.4,1065.4 1321.0,1065.5 1321.5,1065.5 1322.1,1063.6 1322.6,1065.1 1323.2,1065.6 1323.7,1065.7 1324.3,1062.8 1324.8,1066.6 1325.4,1063.2 1325.9,1067.6 1326.5,1061.2 1327.0,1065.8 1327.6,1064.7 1328.1,1067.1 1328.7,1064.6 1329.2,1071.0 1329.8,1065.3 1330.3,1069.1 1330.9,1066.9 1331.4,1066.7 1332.0,1070.3 1332.5,1067.8 1333.1,1064.5 1333.6,1066.8 1334.2,1065.1 1334.7,1067.9 1335.3,1066.5 1335.8,1062.2 1336.4,1064.3 1336.9,1066.4 1337.5,1068.4 1338.0,1068.7 1338.6,1062.7 1339.1,1067.7 1339.7,1066.4 1340.2,1066.8 1340.8,1067.6 1341.3,1066.7 1341.9,1066.2 1342.4,1063.0 1343.0,1072.1 1343.5,1067.8 1344.1,1068.9 1344.6,1074.1 1345.2,1071.9 1345.7,1070.9 1346.3,1069.9 1346.8,1067.2 1347.4,1068.2 1347.9,1069.2 1348.5,1071.8 1349.0,1070.5 1349.6,1070.6 1350.1,1070.2 1350.7,1069.5 1351.2,1070.0 1351.8,1063.8 1352.3,1064.4 1352.9,1064.7 1353.4,1068.2 1354.0,1070.0 1354.5,1069.2 1355.1,1070.1 1355.6,1068.5 1356.2,1069.7 1356.7,1065.4 1357.3,1070.4 1357.8,1066.6 1358.4,1068.0 1358.9,1067.8 1359.5,1069.1 1360.0,1066.2 1360.6,1066.0 1361.1,1072.2 1361.7,1065.9 1362.2,1071.8 1362.8,1069.3 1363.3,1068.5 1363.9,1069.2 1364.4,1072.4 1365.0,1069.2 1365.5,1069.6 1366.1,1071.7 1366.6,1067.5 1367.2,1070.3 1367.7,1070.6 1368.3,1068.7 1368.8,1073.3 1369.4,1069.2 1369.9,1070.2 1370.5,1072.0 1371.0,1070.5 1371.6,1071.1 1372.1,1068.4 1372.7,1073.8 1373.2,1075.9 1373.8,1073.7 1374.3,1071.8 1374.9,1074.3 1375.4,1073.3 1376.0,1070.6 1376.5,1071.2 1377.1,1073.1 1377.6,1072.1 1378.2,1070.3 1378.7,1071.8 1379.3,1074.3 1379.8,1071.8 1380.4,1071.4 1380.9,1072.8 1381.5,1067.7 1382.0,1073.3 1382.6,1076.2 1383.1,1072.2 1383.7,1068.6 1384.2,1073.2 1384.8,1072.4 1385.3,1069.1 1385.9,1070.8 1386.4,1074.2 1387.0,1075.1 1387.5,1073.1 1388.1,1072.8 1388.6,1074.4 1389.2,1071.2 1389.7,1072.2 1390.3,1072.8 1390.8,1072.8 1391.4,1072.6 1391.9,1073.2 1392.5,1074.5 1393.0,1071.7 1393.6,1072.9 1394.1,1072.7 1394.7,1072.9 1395.2,1075.7 1395.8,1072.9 1396.3,1076.7 1396.9,1073.3 1397.4,1070.2 1398.0,1073.0 1398.5,1071.8 1399.1,1075.4 1399.6,1070.2 1400.2,1072.8 1400.7,1067.9 1401.3,1073.1 1401.8,1069.9 1402.4,1075.5 1402.9,1074.6 1403.5,1073.4 1404.0,1075.0 1404.6,1071.5 1405.1,1073.1 1405.7,1072.2 1406.2,1074.3 1406.8,1070.4 1407.3,1076.7 1407.9,1073.0 1408.4,1071.9 1409.0,1077.8 1409.5,1078.6 1410.1,1075.9 1410.6,1067.7 1411.2,1074.5 1411.7,1072.6 1412.3,1072.6 1412.8,1071.1 1413.4,1073.8 1413.9,1072.5 1414.5,1075.4 1415.0,1071.6 1415.6,1075.1 1416.1,1074.5 1416.7,1076.1 1417.2,1070.5 1417.8,1072.7 1418.3,1072.8 1418.9,1074.0 1419.4,1073.3 1420.0,1071.9 1420.5,1072.6 1421.1,1074.0 1421.6,1072.4 1422.2,1073.2 1422.7,1069.8 1423.3,1072.9 1423.8,1075.5 1424.4,1075.5 1424.9,1072.6 1425.5,1072.0 1426.0,1073.7 1426.6,1072.7 1427.1,1070.7 1427.7,1074.8 1428.2,1073.9 1428.8,1074.7 1429.3,1078.4 1429.9,1072.8 1430.4,1076.1 1431.0,1075.6 1431.5,1077.3 1432.1,1077.9 1432.6,1074.8 1433.2,1072.3 1433.7,1073.1 1434.3,1073.3 1434.8,1078.6 1435.4,1071.4 1435.9,1075.3 1436.5,1072.1 1437.0,1071.2 1437.6,1074.6 1438.1,1072.8 1438.7,1074.6 1439.2,1072.3 1439.8,1075.7 1440.3,1076.8 1440.9,1072.3 1441.4,1074.5 1442.0,1072.4 1442.5,1070.5 1443.1,1070.0 1443.6,1077.9 1444.2,1073.2 1444.7,1070.8 1445.3,1074.2 1445.8,1073.8 1446.4,1072.8 1446.9,1073.9 1447.5,1072.9 1448.0,1072.3 1448.6,1074.6 1449.1,1077.7 1449.7,1075.8 1450.2,1075.0 1450.8,1075.0 1451.3,1075.0 1451.9,1076.7 1452.4,1077.1 1453.0,1071.9 1453.5,1070.9 1454.1,1072.9 1454.6,1076.5 1455.2,1077.0 1455.7,1074.2 1456.3,1075.4 1456.8,1072.8 1457.4,1074.4 1457.9,1072.2 1458.5,1075.1 1459.0,1070.7 1459.6,1070.0 1460.1,1071.3 1460.7,1073.8 1461.2,1074.7 1461.8,1076.2 1462.3,1074.3 1462.9,1076.5 1463.4,1074.2 1464.0,1074.5 1464.5,1076.5 1465.1,1072.4 1465.6,1074.2 1466.2,1075.0 1466.7,1074.2 1467.3,1074.6 1467.8,1075.2 1468.4,1076.4 1468.9,1073.6 1469.5,1077.3 1470.0,1076.2 1470.6,1077.7 1471.1,1076.7 1471.7,1077.4 1472.2,1075.6 1472.8,1077.1 1473.3,1074.9 1473.9,1077.9 1474.4,1079.9 1475.0,1076.4 1475.5,1078.0 1476.1,1074.2 1476.6,1076.0 1477.2,1078.6 1477.7,1076.3 1478.3,1078.0 1478.8,1079.3 1479.4,1076.9 1479.9,1080.5 1480.5,1074.7 1481.0,1076.8 1481.6,1077.3 1482.1,1078.2 1482.7,1073.6 1483.2,1080.7 1483.8,1078.1 1484.3,1077.8 1484.9,1079.0 1485.4,1077.5 1486.0,1079.2 1486.5,1077.9 1487.1,1077.2 1487.6,1076.1 1488.2,1081.5 1488.7,1074.4 1489.3,1074.0 1489.8,1077.5 1490.4,1076.3 1490.9,1082.7 1491.5,1081.5 1492.0,1078.4 1492.6,1076.2 1493.1,1079.2 1493.7,1076.5 1494.2,1081.3 1494.8,1078.5 1495.3,1080.6 1495.9,1081.5 1496.4,1078.2 1497.0,1081.3 1497.5,1076.5 1498.1,1079.2 1498.6,1078.9 1499.2,1079.1 1499.7,1078.3 1500.3,1081.6 1500.8,1078.0 1501.4,1079.6 1501.9,1077.6 1502.5,1081.9 1503.0,1080.4 1503.6,1079.3 1504.1,1078.5 1504.7,1078.9 1505.2,1077.9 1505.8,1075.8 1506.3,1075.5 1506.9,1081.1 1507.4,1076.0 1508.0,1081.1 1508.5,1076.8 1509.1,1078.7 1509.6,1079.9 1510.2,1073.9 1510.7,1074.8 1511.3,1078.3 1511.8,1082.8 1512.4,1074.2 1512.9,1078.3 1513.5,1077.2 1514.0,1078.1 1514.6,1078.0 1515.1,1077.1 1515.7,1079.6 1516.2,1080.8 1516.8,1080.4 1517.3,1073.2 1517.9,1080.4 1518.4,1077.7 1519.0,1077.2 1519.5,1080.6 1520.1,1079.3 1520.6,1082.0 1521.2,1075.9 1521.7,1080.9 1522.3,1078.1 1522.8,1079.8 1523.4,1078.5 1523.9,1078.4 1524.5,1076.7 1525.0,1076.3 1525.6,1082.9 1526.1,1078.7 1526.7,1081.7 1527.2,1077.9 1527.8,1081.2 1528.3,1079.1 1528.9,1078.6 1529.4,1077.7 1530.0,1080.6 1530.5,1076.7 1531.1,1077.1 1531.6,1082.0 1532.2,1079.2 1532.7,1079.0 1533.3,1075.7 1533.8,1077.6 1534.4,1081.4 1534.9,1078.2 1535.5,1075.7 1536.0,1081.1 1536.6,1076.7 1537.1,1080.7 1537.7,1084.3 1538.2,1082.7 1538.8,1079.9 1539.3,1078.8 1539.9,1078.4 1540.4,1080.7 1541.0,1080.3 1541.5,1083.2 1542.1,1080.4 1542.6,1082.7 1543.2,1081.4 1543.7,1083.9 1544.3,1075.7 1544.8,1080.9 1545.4,1078.7 1545.9,1079.4 1546.5,1076.4 1547.0,1080.6 1547.6,1077.8 1548.1,1082.1 1548.7,1083.6 1549.2,1082.8 1549.8,1077.0 1550.3,1079.8 1550.9,1082.0 1551.4,1077.6 1552.0,1082.1 1552.5,1082.3 1553.1,1078.1 1553.6,1081.2 1554.2,1080.6 1554.7,1080.7 1555.3,1082.5 1555.8,1080.3 1556.4,1081.8 1556.9,1080.3 1557.5,1079.7 1558.0,1078.5 1558.6,1082.2 1559.1,1079.7 1559.7,1083.8 1560.2,1080.8 1560.8,1079.1 1561.3,1079.5 1561.9,1081.7 1562.4,1082.2 1563.0,1080.0 1563.5,1078.8 1564.1,1080.8 1564.6,1080.6 1565.2,1082.3 1565.7,1078.1 1566.3,1082.9 1566.8,1078.2 1567.4,1078.7 1567.9,1081.7 1568.5,1082.1 1569.0,1079.5 1569.6,1079.5 1570.1,1080.0 1570.7,1078.4 1571.2,1079.3 1571.8,1081.9 1572.3,1082.2 1572.9,1079.5 1573.4,1079.7 1574.0,1079.6 1574.5,1081.9 1575.1,1076.4 1575.6,1079.6 1576.2,1079.2 1576.7,1078.6 1577.3,1078.8 1577.8,1076.9 1578.4,1079.0 1578.9,1079.3 1579.5,1078.0 1580.0,1080.2 1580.6,1081.3 1581.1,1080.3 1581.7,1078.7 1582.2,1078.2 1582.8,1078.4 1583.3,1076.1 1583.9,1078.5 1584.4,1080.2 1585.0,1077.9 1585.5,1078.8 1586.1,1076.8 1586.6,1078.3 1587.2,1078.8 1587.7,1078.3 1588.3,1074.4 1588.8,1076.9 1589.4,1077.5 1589.9,1077.2 1590.5,1078.8 1591.0,1077.6 1591.6,1074.5 1592.1,1077.2 1592.7,1076.4 1593.2,1079.7 1593.8,1079.1 1594.3,1078.7 1594.9,1080.5 1595.4,1078.5 1596.0,1077.9 1596.5,1076.4 1597.1,1079.9 1597.6,1077.8 1598.2,1079.4 1598.7,1074.4 1599.3,1081.1 1599.8,1078.9 1600.4,1079.3 1600.9,1077.5 1601.5,1075.7 1602.0,1078.0 1602.6,1077.2 1603.1,1076.5 1603.7,1076.6 1604.2,1078.6 1604.8,1077.2 1605.3,1075.2 1605.9,1078.1 1606.4,1078.1 1607.0,1078.0 1607.5,1076.0 1608.1,1075.7 1608.6,1076.9 1609.2,1079.4 1609.7,1075.2 1610.3,1075.0 1610.8,1076.0 1611.4,1074.3 1611.9,1079.6 1612.5,1075.1 1613.0,1077.7 1613.6,1075.1 1614.1,1080.0 1614.7,1078.1 1615.2,1077.2 1615.8,1078.1 1616.3,1077.8 1616.9,1074.1 1617.4,1077.0 1618.0,1076.4 1618.5,1078.7 1619.1,1076.7 1619.6,1074.4 1620.2,1079.0 1620.7,1075.9 1621.3,1074.4 1621.8,1073.5 1622.4,1076.3 1622.9,1072.8 1623.5,1074.8 1624.0,1075.2 1624.6,1071.1 1625.1,1071.9 1625.7,1070.2 1626.2,1074.1 1626.8,1073.3 1627.3,1073.2 1627.9,1072.6 1628.4,1073.9 1629.0,1079.4 1629.5,1073.6 1630.1,1072.3 1630.6,1071.8 1631.2,1074.8 1631.7,1068.5 1632.3,1070.9 1632.8,1072.9 1633.4,1068.7 1633.9,1072.3 1634.5,1068.0 1635.0,1069.3 1635.6,1068.0 1636.1,1069.0 1636.7,1064.3 1637.2,1067.8 1637.8,1067.9 1638.3,1067.1 1638.9,1069.4 1639.4,1068.3 1640.0,1066.1 1640.5,1068.0 1641.1,1065.0 1641.6,1065.8 1642.2,1066.6 1642.7,1065.7 1643.3,1067.4 1643.8,1064.9 1644.4,1064.0 1644.9,1066.3 1645.5,1065.1 1646.0,1065.4 1646.6,1068.6 1647.1,1065.4 1647.7,1063.7 1648.2,1063.4 1648.8,1061.4 1649.3,1063.1 1649.9,1061.2 1650.4,1064.1 1651.0,1062.0 1651.5,1059.7 1652.1,1062.4 1652.6,1063.7 1653.2,1062.7 1653.7,1062.1 1654.3,1063.8 1654.8,1059.9 1655.4,1061.4 1655.9,1060.6 1656.5,1061.7 1657.0,1058.7 1657.6,1062.4 1658.1,1059.8 1658.7,1061.8 1659.2,1062.4 1659.8,1060.8 1660.3,1063.8 1660.9,1058.7 1661.4,1059.1 1662.0,1058.8 1662.5,1059.5 1663.1,1061.3 1663.6,1062.2 1664.2,1060.2 1664.7,1059.1 1665.3,1059.2 1665.8,1057.0 1666.4,1060.0 1666.9,1057.1 1667.5,1061.6 1668.0,1057.9 1668.6,1063.1 1669.1,1056.0 1669.7,1061.3 1670.2,1056.9 1670.8,1059.2 1671.3,1058.9 1671.9,1060.8 1672.4,1062.6 1673.0,1062.0 1673.5,1057.5 1674.1,1062.2 1674.6,1057.4 1675.2,1059.1 1675.7,1062.9 1676.3,1058.3 1676.8,1059.4 1677.4,1060.7 1677.9,1058.6 1678.5,1061.8 1679.0,1058.2 1679.6,1063.2 1680.1,1062.0 1680.7,1061.6 1681.2,1064.1 1681.8,1060.4 1682.3,1063.4 1682.9,1063.5 1683.4,1063.1 1684.0,1063.9 1684.5,1063.1 1685.1,1061.9 1685.6,1061.4 1686.2,1066.2 1686.7,1067.0 1687.3,1065.8 1687.8,1065.9 1688.4,1064.3 1688.9,1069.9 1689.5,1066.8 1690.0,1069.1 1690.6,1069.4 1691.1,1067.1 1691.7,1069.1 1692.2,1070.3 1692.8,1069.0 1693.3,1070.0 1693.9,1070.9 1694.4,1066.1 1695.0,1071.2 1695.5,1070.5 1696.1,1070.9 1696.6,1068.6 1697.2,1070.3 1697.7,1071.2 1698.3,1070.9 1698.8,1072.2 1699.4,1071.2 1699.9,1072.1 1700.5,1072.3 1701.0,1076.1 1701.6,1073.0 1702.1,1070.5 1702.7,1071.2 1703.2,1074.7 1703.8,1075.2 1704.3,1073.4 1704.9,1073.2 1705.4,1075.4 1706.0,1071.7 1706.5,1075.7 1707.1,1075.5 1707.6,1075.8 1708.2,1072.1 1708.7,1076.1 1709.3,1077.1 1709.8,1075.3 1710.4,1074.7 1710.9,1074.2 1711.5,1075.8 1712.0,1077.4 1712.6,1076.8 1713.1,1077.4 1713.7,1078.9 1714.2,1076.1 1714.8,1074.6 1715.3,1075.0 1715.9,1077.2 1716.4,1077.7 1717.0,1078.1 1717.5,1080.7 1718.1,1076.9 1718.6,1078.3 1719.2,1076.0 1719.7,1076.4 1720.3,1076.9 1720.8,1078.5 1721.4,1083.2 1721.9,1079.8 1722.5,1080.3 1723.0,1077.6 1723.6,1079.2 1724.1,1078.6 1724.7,1081.8 1725.2,1080.1 1725.8,1082.2 1726.3,1078.9 1726.9,1080.7 1727.4,1081.7 1728.0,1083.5 1728.5,1084.1 1729.1,1079.5 1729.6,1083.2 1730.2,1080.9 1730.7,1081.1 1731.3,1080.9 1731.8,1081.7 1732.4,1078.4 1732.9,1082.3 1733.5,1080.8 1734.0,1082.0 1734.6,1078.6 1735.1,1081.7 1735.7,1081.3 1736.2,1081.7 1736.8,1082.2 1737.3,1083.8 1737.9,1082.4 1738.4,1083.2 1739.0,1081.5 1739.5,1080.9 1740.1,1081.7 1740.6,1081.7 1741.2,1083.7 1741.7,1083.7 1742.3,1084.1 1742.8,1083.5 1743.4,1082.3 1743.9,1081.4 1744.5,1084.8 1745.0,1084.8 1745.6,1080.6 1746.1,1087.1 1746.7,1082.3 1747.2,1085.4 1747.8,1081.9 1748.3,1084.2 1748.9,1083.8 1749.4,1085.2 1750.0,1084.0 1750.5,1082.5 1751.1,1086.2 1751.6,1081.1 1752.2,1083.0 1752.7,1081.1 1753.3,1085.3 1753.8,1084.1 1754.4,1083.2 1754.9,1086.3 1755.5,1085.0 1756.0,1083.3 1756.6,1083.7 1757.1,1084.1 1757.7,1083.7 1758.2,1085.4 1758.8,1084.6 1759.3,1084.1 1759.9,1084.6 1760.4,1083.2 1761.0,1085.1 1761.5,1085.9 1762.1,1084.5 1762.6,1083.3 1763.2,1083.9 1763.7,1083.0 1764.3,1085.8 1764.8,1085.8 1765.4,1083.3 1765.9,1084.4 1766.5,1083.2 1767.0,1084.3 1767.6,1083.4 1768.1,1086.5 1768.7,1083.3 1769.2,1086.4 1769.8,1083.9 1770.3,1085.5 1770.9,1084.8 1771.4,1084.1 1772.0,1084.0 1772.5,1085.7 1773.1,1086.4 1773.6,1086.3 1774.2,1086.5 1774.7,1085.3 1775.3,1087.4 1775.8,1085.3 1776.4,1085.6 1776.9,1085.6 1777.5,1086.3 1778.0,1083.4 1778.6,1086.7 1779.1,1086.3 1779.7,1086.8 1780.2,1091.3 1780.8,1086.3 1781.3,1084.0 1781.9,1084.5 1782.4,1086.9 1783.0,1085.4 1783.5,1086.8 1784.1,1086.6 1784.6,1085.6 1785.2,1082.9 1785.7,1084.5 1786.3,1085.0 1786.8,1086.4 1787.4,1084.9 1787.9,1086.4 1788.5,1089.1 1789.0,1084.9 1789.6,1083.2 1790.1,1083.3 1790.7,1086.5 1791.2,1085.7 1791.8,1089.7 1792.3,1084.3 1792.9,1083.3 1793.4,1085.9 1794.0,1087.3 1794.5,1088.8 1795.1,1089.2 1795.6,1088.1 1796.2,1086.4 1796.7,1085.9 1797.3,1085.4 1797.8,1087.4 1798.4,1086.8 1798.9,1084.9 1799.5,1086.3 1800.0,1085.2 1800.6,1087.5 1801.1,1087.7 1801.7,1088.1 1802.2,1085.6 1802.8,1086.2 1803.3,1086.8 1803.9,1084.6 1804.4,1086.3 1805.0,1086.8 1805.5,1087.4 1806.1,1086.2 1806.6,1089.6 1807.2,1088.2 1807.7,1086.3 1808.3,1086.0 1808.8,1086.6 1809.4,1087.8 1809.9,1088.1 1810.5,1088.1 1811.0,1087.7 1811.6,1087.5 1812.1,1085.3 1812.7,1086.2 1813.2,1087.0 1813.8,1087.6 1814.3,1085.1 1814.9,1088.1 1815.4,1088.6 1816.0,1084.4 1816.5,1084.3 1817.1,1085.2 1817.6,1085.7 1818.2,1087.5 1818.7,1088.9 1819.3,1089.1 1819.8,1086.9 1820.4,1086.4 1820.9,1089.8 1821.5,1088.7 1822.0,1088.2 1822.6,1087.1 1823.1,1086.9 1823.7,1088.7 1824.2,1087.9 1824.8,1087.7 1825.3,1087.6 1825.9,1088.9 1826.4,1089.4 1827.0,1088.9 1827.5,1088.2 1828.1,1085.4 1828.6,1088.7 1829.2,1088.0 1829.7,1084.9 1830.3,1087.2 1830.8,1086.4 1831.4,1087.9 1831.9,1087.9 1832.5,1088.8 1833.0,1090.6 1833.6,1085.5 1834.1,1089.3 1834.7,1085.9 1835.2,1089.1 1835.8,1087.8 1836.3,1087.6 1836.9,1082.5 1837.4,1088.0 1838.0,1088.5 1838.5,1087.7 1839.1,1088.6 1839.6,1089.9 1840.2,1087.9 1840.7,1088.2 1841.3,1087.6 1841.8,1086.0 1842.4,1089.8 1842.9,1089.3 1843.5,1087.1 1844.0,1087.4 1844.6,1089.2 1845.1,1088.4 1845.7,1086.9 1846.2,1087.3 1846.8,1090.6 1847.3,1087.8 1847.9,1088.3 1848.4,1089.5 1849.0,1089.8 1849.5,1090.1 1850.1,1088.4 1850.6,1088.6 1851.2,1089.1 1851.7,1087.8 1852.3,1092.0 1852.8,1088.8 1853.4,1090.7 1853.9,1088.0 1854.5,1088.1 1855.0,1088.2 1855.6,1088.1 1856.1,1086.8 1856.7,1088.0 1857.2,1089.7 1857.8,1090.7 1858.3,1090.3 1858.9,1090.4 1859.4,1091.3 1860.0,1089.0 1860.5,1090.2 1861.1,1090.4 1861.6,1088.0 1862.2,1088.6 1862.7,1089.8 1863.3,1090.8 1863.8,1086.9 1864.4,1090.6 1864.9,1087.7 1865.5,1086.7 1866.0,1087.0 1866.6,1085.5 1867.1,1087.8 1867.7,1088.2 1868.2,1090.1 1868.8,1089.2 1869.3,1090.2 1869.9,1091.6 1870.4,1090.7 1871.0,1087.6 1871.5,1087.2 1872.1,1088.4 1872.6,1088.1 1873.2,1089.2 1873.7,1087.8 1874.3,1087.4 1874.8,1090.0 1875.4,1089.1 1875.9,1090.2 1876.5,1090.3 1877.0,1087.5 1877.6,1089.7 1878.1,1089.2 1878.7,1089.4 1879.2,1089.4 1879.8,1087.5 1880.3,1087.7 1880.9,1086.7 1881.4,1086.4 1882.0,1087.1 1882.5,1086.1 1883.1,1089.6 1883.6,1088.9 1884.2,1088.4 1884.7,1089.5 1885.3,1085.9 1885.8,1091.4 1886.4,1087.0 1886.9,1088.8 1887.5,1088.5 1888.0,1087.6 1888.6,1089.2 1889.1,1088.1 1889.7,1089.7 1890.2,1089.7 1890.8,1088.2 1891.3,1091.1 1891.9,1089.6 1892.4,1087.7 1893.0,1087.6" stroke="#7c7c00" stroke-width="13"/>
<path d="M203.9,764.8 204.5,764.8 205.0,768.2 205.6,772.7 206.1,773.7 206.7,773.4 207.2,774.2 207.8,777.8 208.3,780.6 208.9,785.1 209.4,787.3 210.0,789.7 210.5,791.2 211.1,800.5 211.6,798.6 212.2,797.3 212.7,804.5 213.3,809.9 213.8,809.2 214.4,812.9 214.9,810.8 215.5,818.6 216.0,820.0 216.6,823.5 217.1,823.1 217.7,830.6 218.2,829.0 218.8,831.2 219.3,833.3 219.9,827.5 220.4,834.9 221.0,837.3 221.5,839.0 222.1,836.4 222.6,836.0 223.2,838.7 223.7,838.0 224.3,844.8 224.8,842.8 225.4,847.0 225.9,848.3 226.5,848.9 227.0,848.5 227.6,850.0 228.1,857.7 228.7,850.1 229.2,857.0 229.8,854.4 230.3,856.4 230.9,859.1 231.4,867.7 232.0,863.6 232.5,865.7 233.1,867.1 233.6,869.2 234.2,868.4 234.7,873.1 235.3,870.5 235.8,869.2 236.4,871.9 236.9,873.2 237.5,879.7 238.0,870.7 238.6,874.6 239.1,878.1 239.7,879.6 240.2,880.0 240.8,878.8 241.3,882.8 241.9,885.0 242.4,881.2 243.0,885.8 243.5,887.6 244.1,888.6 244.6,895.0 245.2,886.7 245.7,893.2 246.3,894.0 246.8,889.3 247.4,897.6 247.9,892.2 248.5,897.3 249.0,895.0 249.6,897.2 250.1,901.5 250.7,904.0 251.2,901.9 251.8,903.2 252.3,903.0 252.9,907.7 253.4,907.3 254.0,899.6 254.5,913.4 255.1,906.2 255.6,904.4 256.2,907.9 256.7,911.2 257.3,911.6 257.8,909.4 258.4,916.7 258.9,914.2 259.5,917.2 260.0,923.4 260.6,919.6 261.1,912.7 261.7,916.6 262.2,919.3 262.8,923.1 263.3,926.0 263.9,920.9 264.4,922.8 265.0,925.3 265.5,927.0 266.1,929.0 266.6,929.7 267.2,923.6 267.7,929.4 268.3,924.9 268.8,928.7 269.4,931.3 269.9,931.6 270.5,930.0 271.0,928.1 271.6,934.0 272.1,933.6 272.7,925.7 273.2,937.0 273.8,936.6 274.3,928.3 274.9,939.0 275.4,937.5 276.0,937.2 276.5,932.7 277.1,934.2 277.6,937.8 278.2,940.1 278.7,939.6 279.3,943.8 279.8,937.7 280.4,934.8 280.9,936.8 281.5,942.5 282.0,943.0 282.6,944.6 283.1,943.6 283.7,944.9 284.2,943.2 284.8,944.8 285.3,946.3 285.9,945.8 286.4,942.0 287.0,940.8 287.5,944.3 288.1,953.0 288.6,946.4 289.2,942.9 289.7,943.8 290.3,944.5 290.8,950.1 291.4,951.3 291.9,944.0 292.5,946.4 293.0,947.1 293.6,942.0 294.1,949.6 294.7,949.9 295.2,951.8 295.8,948.7 296.3,950.5 296.9,953.3 297.4,952.0 298.0,956.7 298.5,957.1 299.1,954.0 299.6,955.1 300.2,954.4 300.7,962.4 301.3,953.4 301.8,951.6 302.4,950.2 302.9,951.4 303.5,956.9 304.0,956.1 304.6,956.1 305.1,947.7 305.7,961.8 306.2,959.2 306.8,951.3 307.3,958.7 307.9,954.8 308.4,966.0 309.0,959.0 309.5,955.9 310.1,953.9 310.6,962.5 311.2,956.0 311.7,956.6 312.3,958.9 312.8,958.2 313.4,954.5 313.9,961.7 314.5,958.1 315.0,963.7 315.6,959.8 316.1,962.3 316.7,965.1 317.2,962.5 317.8,960.0 318.3,956.8 318.9,961.0 319.4,957.4 320.0,960.8 320.5,961.3 321.1,963.2 321.6,967.0 322.2,966.6 322.7,966.9 323.3,965.0 323.8,965.6 324.4,962.2 324.9,970.2 325.5,964.8 326.0,967.5 326.6,967.0 327.1,961.2 327.7,968.1 328.2,964.2 328.8,967.5 329.3,970.0 329.9,963.4 330.4,965.5 331.0,962.1 331.5,964.3 332.1,963.4 332.6,961.3 333.2,962.3 333.7,963.6 334.3,962.4 334.8,963.0 335.4,961.3 335.9,958.5 336.5,955.1 337.0,960.2 337.6,958.8 338.1,961.2 338.7,956.9 339.2,958.3 339.8,956.2 340.3,953.6 340.9,953.8 341.4,944.5 342.0,955.0 342.5,950.9 343.1,955.1 343.6,955.8 344.2,950.2 344.7,949.9 345.3,951.5 345.8,951.0 346.4,952.6 346.9,945.9 347.5,948.0 348.0,953.4 348.6,947.3 349.1,951.9 349.7,946.9 350.2,942.7 350.8,946.5 351.3,946.1 351.9,940.2 352.4,949.1 353.0,945.5 353.5,944.4 354.1,934.9 354.6,936.1 355.2,935.2 355.7,936.7 356.3,939.1 356.8,939.9 357.4,938.9 357.9,933.4 358.5,941.1 359.0,933.1 359.6,932.7 360.1,934.3 360.7,940.1 361.2,927.3 361.8,940.1 362.3,935.2 362.9,935.1 363.4,930.1 364.0,938.5 364.5,938.2 365.1,940.2 365.6,938.8 366.2,942.6 366.7,940.4 367.3,945.5 367.8,949.8 368.4,954.1 368.9,946.4 369.5,953.6 370.0,951.3 370.6,954.7 371.1,946.3 371.7,945.6 372.2,949.3 372.8,952.9 373.3,954.3 373.9,944.5 374.4,953.5 375.0,958.1 375.5,952.1 376.1,956.9 376.6,951.1 377.2,955.8 377.7,952.4 378.3,954.4 378.8,950.9 379.4,960.3 379.9,964.5 380.5,956.9 381.0,960.8 381.6,959.8 382.1,962.4 382.7,965.7 383.2,967.5 383.8,969.0 384.3,971.8 384.9,975.5 385.4,982.5 386.0,979.6 386.5,981.0 387.1,978.6 387.6,980.2 388.2,984.0 388.7,985.1 389.3,987.2 389.8,985.9 390.4,989.0 390.9,989.5 391.5,992.2 392.0,992.7 392.6,996.0 393.1,997.3 393.7,995.2 394.2,1000.7 394.8,1000.0 395.3,1004.5 395.9,993.7 396.4,999.7 397.0,1000.6 397.5,1008.5 398.1,1005.8 398.6,1007.2 399.2,1006.6 399.7,1005.8 400.3,1006.9 400.8,1008.8 401.4,1003.1 401.9,1008.6 402.5,1008.4 403.0,1011.4 403.6,1011.1 404.1,1009.3 404.7,1011.6 405.2,1010.1 405.8,1013.4 406.3,1019.1 406.9,1014.7 407.4,1022.4 408.0,1013.4 408.5,1021.8 409.1,1017.9 409.6,1023.1 410.2,1017.7 410.7,1023.2 411.3,1027.0 411.8,1020.0 412.4,1025.4 412.9,1026.9 413.5,1019.4 414.0,1024.8 414.6,1024.1 415.1,1021.4 415.7,1027.2 416.2,1027.4 416.8,1027.0 417.3,1024.1 417.9,1026.5 418.4,1026.6 419.0,1028.2 419.5,1030.6 420.1,1026.5 420.6,1026.4 421.2,1033.3 421.7,1031.2 422.3,1025.7 422.8,1033.7 423.4,1035.2 423.9,1035.7 424.5,1034.3 425.0,1030.1 425.6,1031.4 426.1,1034.8 426.7,1035.8 427.2,1032.8 427.8,1036.5 428.3,1036.8 428.9,1032.0 429.4,1035.4 430.0,1044.2 430.5,1034.8 431.1,1038.8 431.6,1035.7 432.2,1038.4 432.7,1039.9 433.3,1037.5 433.8,1042.8 434.4,1045.3 434.9,1043.4 435.5,1035.8 436.0,1041.8 436.6,1041.3 437.1,1042.8 437.7,1046.5 438.2,1039.7 438.8,1045.9 439.3,1042.2 439.9,1046.0 440.4,1044.9 441.0,1045.3 441.5,1048.0 442.1,1050.0 442.6,1041.6 443.2,1046.6 443.7,1039.0 444.3,1045.2 444.8,1051.1 445.4,1043.8 445.9,1046.0 446.5,1045.5 447.0,1046.6 447.6,1050.1 448.1,1050.4 448.7,1046.5 449.2,1045.6 449.8,1049.0 450.3,1051.9 450.9,1050.9 451.4,1053.6 452.0,1052.0 452.5,1049.6 453.1,1051.8 453.6,1047.3 454.2,1054.7 454.7,1049.3 455.3,1049.0 455.8,1049.8 456.4,1052.9 456.9,1050.0 457.5,1045.9 458.0,1057.1 458.6,1050.4 459.1,1046.3 459.7,1045.9 460.2,1051.6 460.8,1047.0 461.3,1050.3 461.9,1047.6 462.4,1051.4 463.0,1053.4 463.5,1047.8 464.1,1058.1 464.6,1050.4 465.2,1054.0 465.7,1058.7 466.3,1055.7 466.8,1056.2 467.4,1049.0 467.9,1048.8 468.5,1054.0 469.0,1054.8 469.6,1056.8 470.1,1055.7 470.7,1054.4 471.2,1053.6 471.8,1053.5 472.3,1054.4 472.9,1050.5 473.4,1053.0 474.0,1055.2 474.5,1056.5 475.1,1054.3 475.6,1057.4 476.2,1057.5 476.7,1057.4 477.3,1055.9 477.8,1053.7 478.4,1058.2 478.9,1057.1 479.5,1053.8 480.0,1057.2 480.6,1058.0 481.1,1055.0 481.7,1055.0 482.2,1050.6 482.8,1053.1 483.3,1055.7 483.9,1055.9 484.4,1051.4 485.0,1059.5 485.5,1054.5 486.1,1054.1 486.6,1051.2 487.2,1055.9 487.7,1051.0 488.3,1056.4 488.8,1052.7 489.4,1056.2 489.9,1049.5 490.5,1055.0 491.0,1057.4 491.6,1054.8 492.1,1057.0 492.7,1054.1 493.2,1060.3 493.8,1054.8 494.3,1051.9 494.9,1049.1 495.4,1060.2 496.0,1053.1 496.5,1058.6 497.1,1052.1 497.6,1053.0 498.2,1060.3 498.7,1052.7 499.3,1057.5 499.8,1052.2 500.4,1051.8 500.9,1055.3 501.5,1053.9 502.0,1052.7 502.6,1056.9 503.1,1051.2 503.7,1058.0 504.2,1056.1 504.8,1050.6 505.3,1056.9 505.9,1056.0 506.4,1061.9 507.0,1057.5 507.5,1057.1 508.1,1059.8 508.6,1048.9 509.2,1050.6 509.7,1051.4 510.3,1050.6 510.8,1056.4 511.4,1055.5 511.9,1062.0 512.5,1051.1 513.0,1051.6 513.6,1056.4 514.1,1055.2 514.7,1055.4 515.2,1052.5 515.8,1056.7 516.3,1055.5 516.9,1053.3 517.4,1057.2 518.0,1049.3 518.5,1057.2 519.1,1060.2 519.6,1052.9 520.2,1061.7 520.7,1057.7 521.3,1053.6 521.8,1058.7 522.4,1051.2 522.9,1051.4 523.5,1053.5 524.0,1056.4 524.6,1052.3 525.1,1052.1 525.7,1051.9 526.2,1060.2 526.8,1056.8 527.3,1050.0 527.9,1050.5 528.4,1055.1 529.0,1058.4 529.5,1053.3 530.1,1058.7 530.6,1056.1 531.2,1050.5 531.7,1050.8 532.3,1055.1 532.8,1055.0 533.4,1051.0 533.9,1052.0 534.5,1048.3 535.0,1053.8 535.6,1054.5 536.1,1051.1 536.7,1053.2 537.2,1054.3 537.8,1048.4 538.3,1054.5 538.9,1048.3 539.4,1052.6 540.0,1050.6 540.5,1050.0 541.1,1051.0 541.6,1055.6 542.2,1049.2 542.7,1052.0 543.3,1054.3 543.8,1054.0 544.4,1051.4 544.9,1049.3 545.5,1052.7 546.0,1050.6 546.6,1049.4 547.1,1053.4 547.7,1055.0 548.2,1052.2 548.8,1049.7 549.3,1048.4 549.9,1053.1 550.4,1051.5 551.0,1050.9 551.5,1048.5 552.1,1047.5 552.6,1043.9 553.2,1050.2 553.7,1046.0 554.3,1042.6 554.8,1044.3 555.4,1042.1 555.9,1041.8 556.5,1048.7 557.0,1044.9 557.6,1042.6 558.1,1042.8 558.7,1040.4 559.2,1040.4 559.8,1044.7 560.3,1042.0 560.9,1042.1 561.4,1036.8 562.0,1039.3 562.5,1045.5 563.1,1041.0 563.6,1043.4 564.2,1039.6 564.7,1044.4 565.3,1043.5 565.8,1043.9 566.4,1041.7 566.9,1038.2 567.5,1039.2 568.0,1039.8 568.6,1039.4 569.1,1037.7 569.7,1036.9 570.2,1038.2 570.8,1037.7 571.3,1041.4 571.9,1039.0 572.4,1044.7 573.0,1040.1 573.5,1035.1 574.1,1036.9 574.6,1039.7 575.2,1043.2 575.7,1035.0 576.3,1036.3 576.8,1037.2 577.4,1036.9 577.9,1032.2 578.5,1037.7 579.0,1036.5 579.6,1040.3 580.1,1034.6 580.7,1040.4 581.2,1036.8 581.8,1036.5 582.3,1034.4 582.9,1030.7 583.4,1027.4 584.0,1032.1 584.5,1026.8 585.1,1033.2 585.6,1028.9 586.2,1027.2 586.7,1036.4 587.3,1035.9 587.8,1036.4 588.4,1029.6 588.9,1028.8 589.5,1030.6 590.0,1031.0 590.6,1033.4 591.1,1029.3 591.7,1027.8 592.2,1028.6 592.8,1024.2 593.3,1030.0 593.9,1026.9 594.4,1033.7 595.0,1025.9 595.5,1027.8 596.1,1024.7 596.6,1029.5 597.2,1032.3 597.7,1033.5 598.3,1024.3 598.8,1029.9 599.4,1028.1 599.9,1028.8 600.5,1025.2 601.0,1025.5 601.6,1024.7 602.1,1020.9 602.7,1023.8 603.2,1028.2 603.8,1018.9 604.3,1025.4 604.9,1019.4 605.4,1022.2 606.0,1026.5 606.5,1017.8 607.1,1025.4 607.6,1015.3 608.2,1025.6 608.7,1018.5 609.3,1030.9 609.8,1018.8 610.4,1016.1 610.9,1016.0 611.5,1018.9 612.0,1016.6 612.6,1018.9 613.1,1015.9 613.7,1021.8 614.2,1024.3 614.8,1015.4 615.3,1020.4 615.9,1017.5 616.4,1019.6 617.0,1020.1 617.5,1017.1 618.1,1015.5 618.6,1009.0 619.2,1023.1 619.7,1011.2 620.3,1018.9 620.8,1013.8 621.4,1016.2 621.9,1010.3 622.5,1016.0 623.0,1011.5 623.6,1011.0 624.1,1011.1 624.7,1012.6 625.2,1009.1 625.8,1011.3 626.3,1007.8 626.9,1014.4 627.4,1007.8 628.0,1012.5 628.5,1008.3 629.1,1006.9 629.6,1007.5 630.2,1009.8 630.7,1010.6 631.3,1012.2 631.8,1008.7 632.4,1010.9 632.9,1005.6 633.5,1001.3 634.0,1011.4 634.6,1007.7 635.1,1008.8 635.7,1001.7 636.2,1007.3 636.8,1007.1 637.3,1010.0 637.9,1003.1 638.4,1007.0 639.0,1005.0 639.5,1005.8 640.1,1008.5 640.6,1004.8 641.2,1006.0 641.7,1004.7 642.3,1003.5 642.8,1002.7 643.4,1001.8 643.9,1002.3 644.5,1001.9 645.0,1001.6 645.6,998.5 646.1,996.1 646.7,998.3 647.2,994.7 647.8,1004.2 648.3,995.5 648.9,996.8 649.4,1000.2 650.0,996.3 650.5,997.6 651.1,1000.5 651.6,994.4 652.2,1001.8 652.7,993.5 653.3,998.2 653.8,992.9 654.4,993.1 654.9,989.6 655.5,997.7 656.0,995.5 656.6,988.7 657.1,998.2 657.7,990.2 658.2,991.5 658.8,989.8 659.3,986.3 659.9,999.2 660.4,988.4 661.0,988.2 661.5,994.5 662.1,989.9 662.6,986.9 663.2,993.5 663.7,998.4 664.3,992.0 664.8,987.3 665.4,987.5 665.9,987.9 666.5,986.6 667.0,987.7 667.6,989.4 668.1,990.3 668.7,991.5 669.2,997.3 669.8,986.9 670.3,992.8 670.9,992.7 671.4,988.2 672.0,998.7 672.5,996.6 673.1,987.7 673.6,1000.0 674.2,990.7 674.7,996.7 675.3,1000.4 675.8,994.9 676.4,999.3 676.9,992.7 677.5,994.6 678.0,995.1 678.6,997.5 679.1,1003.8 679.7,1004.0 680.2,995.2 680.8,994.4 681.3,1000.0 681.9,996.7 682.4,996.1 683.0,999.8 683.5,1002.2 684.1,1000.0 684.6,1000.2 685.2,1000.0 685.7,1003.8 686.3,1005.5 686.8,1003.1 687.4,1000.3 687.9,1003.4 688.5,1001.9 689.0,999.1 689.6,1003.5 690.1,1004.6 690.7,1006.7 691.2,1006.9 691.8,1004.0 692.3,1003.2 692.9,1007.2 693.4,1010.6 694.0,1007.6 694.5,1008.5 695.1,1004.7 695.6,1004.0 696.2,1008.8 696.7,1007.2 697.3,1002.3 697.8,1011.3 698.4,1014.2 698.9,1017.7 699.5,1010.1 700.0,1010.3 700.6,1012.4 701.1,1011.5 701.7,1018.5 702.2,1016.7 702.8,1012.3 703.3,1018.4 703.9,1016.7 704.4,1018.0 705.0,1013.1 705.5,1010.8 706.1,1020.4 706.6,1017.6 707.2,1019.9 707.7,1021.0 708.3,1020.0 708.8,1026.4 709.4,1023.7 709.9,1015.0 710.5,1022.3 711.0,1024.8 711.6,1024.6 712.1,1024.6 712.7,1022.2 713.2,1024.6 713.8,1025.3 714.3,1028.3 714.9,1026.5 715.4,1026.4 716.0,1028.0 716.5,1026.3 717.1,1031.4 717.6,1027.7 718.2,1034.8 718.7,1028.4 719.3,1031.5 719.8,1030.3 720.4,1034.5 720.9,1034.1 721.5,1029.5 722.0,1038.6 722.6,1037.7 723.1,1035.7 723.7,1033.7 724.2,1030.3 724.8,1037.6 725.3,1033.9 725.9,1036.8 726.4,1029.4 727.0,1034.9 727.5,1040.5 728.1,1040.6 728.6,1038.3 729.2,1040.7 729.7,1035.6 730.3,1044.1 730.8,1037.5 731.4,1036.2 731.9,1037.6 732.5,1041.1 733.0,1042.4 733.6,1036.2 734.1,1042.0 734.7,1043.6 735.2,1044.5 735.8,1041.2 736.3,1042.7 736.9,1037.1 737.4,1037.4 738.0,1048.0 738.5,1042.8 739.1,1041.7 739.6,1047.0 740.2,1042.5 740.7,1042.1 741.3,1045.5 741.8,1046.7 742.4,1037.0 742.9,1037.5 743.5,1046.4 744.0,1046.9 744.6,1039.8 745.1,1044.6 745.7,1048.5 746.2,1047.6 746.8,1046.0 747.3,1050.5 747.9,1043.6 748.4,1046.4 749.0,1046.9 749.5,1044.6 750.1,1045.1 750.6,1049.4 751.2,1049.0 751.7,1048.9 752.3,1042.7 752.8,1052.9 753.4,1050.0 753.9,1049.9 754.5,1049.7 755.0,1053.4 755.6,1048.6 756.1,1050.3 756.7,1049.3 757.2,1055.4 757.8,1056.2 758.3,1051.1 758.9,1059.6 759.4,1050.6 760.0,1052.8 760.5,1054.5 761.1,1051.4 761.6,1053.9 762.2,1051.4 762.7,1052.9 763.3,1055.9 763.8,1059.0 764.4,1053.0 764.9,1050.2 765.5,1052.9 766.0,1051.9 766.6,1056.0 767.1,1058.9 767.7,1059.9 768.2,1053.0 768.8,1063.7 769.3,1054.0 769.9,1057.8 770.4,1058.6 771.0,1055.4 771.5,1060.7 772.1,1055.9 772.6,1058.4 773.2,1055.9 773.7,1056.7 774.3,1059.3 774.8,1058.1 775.4,1058.8 775.9,1061.3 776.5,1056.8 777.0,1059.8 777.6,1055.7 778.1,1063.5 778.7,1061.0 779.2,1064.5 779.8,1061.1 780.3,1062.4 780.9,1062.3 781.4,1061.8 782.0,1061.3 782.5,1068.2 783.1,1065.4 783.6,1064.4 784.2,1066.0 784.7,1065.2 785.3,1072.0 785.8,1070.2 786.4,1066.2 786.9,1063.8 787.5,1071.9 788.0,1062.0 788.6,1066.9 789.1,1069.0 789.7,1069.8 790.2,1063.1 790.8,1067.1 791.3,1065.1 791.9,1067.3 792.4,1064.4 793.0,1068.1 793.5,1065.6 794.1,1068.0 794.6,1064.4 795.2,1065.6 795.7,1064.5 796.3,1071.1 796.8,1067.2 797.4,1069.3 797.9,1065.0 798.5,1069.6 799.0,1067.1 799.6,1070.3 800.1,1067.6 800.7,1062.6 801.2,1072.0 801.8,1063.9 802.3,1072.2 802.9,1071.3 803.4,1077.0 804.0,1069.5 804.5,1078.1 805.1,1076.7 805.6,1074.7 806.2,1078.7 806.7,1072.2 807.3,1072.4 807.8,1071.8 808.4,1075.7 808.9,1072.7 809.5,1082.4 810.0,1079.9 810.6,1080.6 811.1,1075.0 811.7,1073.6 812.2,1072.5 812.8,1073.8 813.3,1080.5 813.9,1076.6 814.4,1078.9 815.0,1077.1 815.5,1073.6 816.1,1082.6 816.6,1076.9 817.2,1079.2 817.7,1079.4 818.3,1078.1 818.8,1081.4 819.4,1076.8 819.9,1084.1 820.5,1081.9 821.0,1080.8 821.6,1081.2 822.1,1080.4 822.7,1083.8 823.2,1087.4 823.8,1086.7 824.3,1083.2 824.9,1083.0 825.4,1088.6 826.0,1086.8 826.5,1087.8 827.1,1088.9 827.6,1086.3 828.2,1088.0 828.7,1083.9 829.3,1084.7 829.8,1087.6 830.4,1083.9 830.9,1085.0 831.5,1089.0 832.0,1086.4 832.6,1087.2 833.1,1094.5 833.7,1085.8 834.2,1091.4 834.8,1092.1 835.3,1093.1 835.9,1094.9 836.4,1094.1 837.0,1093.3 837.5,1087.1 838.1,1088.7 838.6,1093.3 839.2,1084.5 839.7,1094.4 840.3,1094.5 840.8,1096.7 841.4,1090.7 841.9,1095.2 842.5,1087.0 843.0,1089.3 843.6,1091.7 844.1,1096.9 844.7,1090.8 845.2,1093.4 845.8,1094.7 846.3,1089.0 846.9,1090.8 847.4,1086.8 848.0,1100.3 848.5,1096.5 849.1,1092.4 849.6,1091.3 850.2,1094.0 850.7,1099.4 851.3,1090.1 851.8,1091.6 852.4,1089.0 852.9,1096.8 853.5,1097.3 854.0,1093.1 854.6,1092.2 855.1,1097.2 855.7,1100.2 856.2,1098.9 856.8,1097.4 857.3,1096.8 857.9,1101.2 858.4,1094.6 859.0,1098.2 859.5,1099.6 860.1,1099.9 860.6,1097.7 861.2,1097.1 861.7,1100.5 862.3,1100.7 862.8,1098.1 863.4,1098.8 863.9,1100.2 864.5,1101.6 865.0,1100.6 865.6,1101.5 866.1,1097.8 866.7,1101.1 867.2,1099.1 867.8,1103.9 868.3,1107.1 868.9,1100.6 869.4,1108.7 870.0,1100.4 870.5,1102.3 871.1,1101.2 871.6,1101.9 872.2,1103.7 872.7,1105.4 873.3,1104.2 873.8,1103.0 874.4,1107.2 874.9,1104.8 875.5,1104.8 876.0,1105.1 876.6,1109.1 877.1,1104.8 877.7,1104.0 878.2,1104.8 878.8,1107.3 879.3,1109.9 879.9,1110.4 880.4,1100.1 881.0,1108.5 881.5,1106.5 882.1,1108.1 882.6,1109.3 883.2,1102.0 883.7,1108.2 884.3,1105.3 884.8,1114.4 885.4,1107.2 885.9,1106.9 886.5,1106.1 887.0,1108.2 887.6,1113.1 888.1,1109.8 888.7,1112.0 889.2,1109.3 889.8,1113.1 890.3,1106.4 890.9,1112.5 891.4,1109.7 892.0,1117.0 892.5,1108.9 893.1,1113.3 893.6,1106.6 894.2,1110.6 894.7,1110.2 895.3,1108.2 895.8,1107.6 896.4,1109.8 896.9,1108.8 897.5,1107.9 898.0,1115.5 898.6,1109.2 899.1,1107.0 899.7,1109.9 900.2,1115.0 900.8,1107.4 901.3,1113.9 901.9,1104.5 902.4,1111.6 903.0,1110.7 903.5,1112.9 904.1,1115.0 904.6,1113.6 905.2,1106.4 905.7,1113.4 906.3,1110.9 906.8,1112.1 907.4,1110.6 907.9,1111.3 908.5,1116.3 909.0,1115.7 909.6,1112.8 910.1,1109.3 910.7,1111.3 911.2,1113.8 911.8,1112.6 912.3,1117.5 912.9,1113.0 913.4,1111.8 914.0,1116.4 914.5,1114.6 915.1,1109.3 915.6,1114.2 916.2,1116.4 916.7,1119.2 917.3,1109.4 917.8,1116.2 918.4,1114.9 918.9,1115.7 919.5,1113.3 920.0,1118.4 920.6,1117.8 921.1,1113.8 921.7,1116.1 922.2,1125.1 922.8,1114.6 923.3,1114.1 923.9,1118.1 924.4,1122.9 925.0,1121.1 925.5,1118.8 926.1,1122.5 926.6,1120.4 927.2,1122.7 927.7,1126.2 928.3,1118.7 928.8,1122.6 929.4,1118.6 929.9,1117.5 930.5,1119.6 931.0,1125.5 931.6,1129.9 932.1,1129.0 932.7,1121.9 933.2,1126.2 933.8,1124.2 934.3,1128.3 934.9,1124.2 935.4,1122.9 936.0,1124.8 936.5,1127.0 937.1,1121.1 937.6,1124.7 938.2,1120.1 938.7,1128.3 939.3,1120.2 939.8,1122.4 940.4,1125.4 940.9,1125.4 941.5,1121.4 942.0,1122.4 942.6,1118.7 943.1,1112.2 943.7,1115.5 944.2,1121.5 944.8,1123.0 945.3,1114.3 945.9,1119.0 946.4,1119.5 947.0,1114.6 947.5,1119.9 948.1,1121.1 948.6,1122.2 949.2,1120.3 949.7,1118.4 950.3,1123.7 950.8,1118.0 951.4,1116.0 951.9,1118.5 952.5,1117.2 953.0,1120.2 953.6,1117.9 954.1,1123.9 954.7,1120.9 955.2,1116.6 955.8,1116.3 956.3,1114.8 956.9,1117.8 957.4,1116.0 958.0,1117.4 958.5,1113.8 959.1,1115.1 959.6,1114.6 960.2,1110.4 960.7,1119.4 961.3,1112.0 961.8,1112.1 962.4,1112.3 962.9,1107.6 963.5,1114.7 964.0,1109.2 964.6,1112.6 965.1,1113.5 965.7,1109.1 966.2,1112.1 966.8,1110.5 967.3,1105.6 967.9,1110.0 968.4,1105.2 969.0,1108.5 969.5,1103.0 970.1,1105.1 970.6,1101.3 971.2,1105.5 971.7,1104.6 972.3,1102.0 972.8,1098.2 973.4,1094.6 973.9,1104.9 974.5,1099.8 975.0,1096.2 975.6,1100.1 976.1,1099.9 976.7,1101.6 977.2,1094.1 977.8,1100.2 978.3,1103.4 978.9,1105.5 979.4,1103.8 980.0,1103.1 980.5,1106.2 981.1,1105.0 981.6,1099.9 982.2,1106.9 982.7,1103.4 983.3,1114.2 983.8,1109.9 984.4,1113.3 984.9,1114.7 985.5,1109.2 986.0,1110.0 986.6,1115.4 987.1,1114.1 987.7,1111.5 988.2,1112.1 988.8,1117.7 989.3,1121.4 989.9,1117.4 990.4,1116.4 991.0,1117.4 991.5,1113.4 992.1,1120.3 992.6,1122.3 993.2,1116.4 993.7,1121.9 994.3,1123.1 994.8,1124.2 995.4,1122.9 995.9,1121.7 996.5,1126.4 997.0,1121.2 997.6,1127.4 998.1,1124.2 998.7,1126.0 999.2,1127.0 999.8,1124.5 1000.3,1129.2 1000.9,1122.6 1001.4,1127.5 1002.0,1123.1 1002.5,1130.4 1003.1,1125.5 1003.6,1129.7 1004.2,1122.7 1004.7,1131.8 1005.3,1122.6 1005.8,1121.8 1006.4,1122.3 1006.9,1129.7 1007.5,1128.8 1008.0,1127.3 1008.6,1126.0 1009.1,1129.5 1009.7,1132.9 1010.2,1129.6 1010.8,1125.8 1011.3,1134.8 1011.9,1132.3 1012.4,1132.9 1013.0,1128.9 1013.5,1128.6 1014.1,1132.7 1014.6,1129.0 1015.2,1135.8 1015.7,1131.8 1016.3,1138.3 1016.8,1135.9 1017.4,1132.9 1017.9,1136.7 1018.5,1138.1 1019.0,1129.3 1019.6,1137.6 1020.1,1136.5 1020.7,1128.5 1021.2,1133.9 1021.8,1135.6 1022.3,1140.0 1022.9,1136.5 1023.4,1135.3 1024.0,1132.2 1024.5,1135.9 1025.1,1138.1 1025.6,1135.8 1026.2,1136.7 1026.7,1140.8 1027.3,1140.5 1027.8,1141.1 1028.4,1140.2 1028.9,1143.4 1029.5,1137.0 1030.0,1136.1 1030.6,1148.9 1031.1,1144.2 1031.7,1138.3 1032.2,1136.3 1032.8,1148.4 1033.3,1141.3 1033.9,1143.6 1034.4,1152.3 1035.0,1141.1 1035.5,1137.4 1036.1,1145.9 1036.6,1141.2 1037.2,1151.7 1037.7,1141.5 1038.3,1142.6 1038.8,1142.7 1039.4,1143.7 1039.9,1142.8 1040.5,1141.8 1041.0,1144.5 1041.6,1140.3 1042.1,1140.0 1042.7,1143.6 1043.2,1142.9 1043.8,1147.5 1044.3,1148.3 1044.9,1149.8 1045.4,1151.8 1046.0,1142.0 1046.5,1143.8 1047.1,1147.5 1047.6,1147.8 1048.2,1150.5 1048.7,1144.3 1049.3,1143.1 1049.8,1148.8 1050.4,1148.0 1050.9,1143.0 1051.5,1146.0 1052.0,1143.7 1052.6,1148.4 1053.1,1147.1 1053.7,1146.1 1054.2,1143.5 1054.8,1143.6 1055.3,1148.0 1055.9,1142.3 1056.4,1143.5 1057.0,1149.4 1057.5,1150.1 1058.1,1148.7 1058.6,1145.4 1059.2,1143.9 1059.7,1148.3 1060.3,1146.9 1060.8,1145.9 1061.4,1149.8 1061.9,1149.7 1062.5,1141.3 1063.0,1156.8 1063.6,1149.0 1064.1,1147.7 1064.7,1148.0 1065.2,1152.1 1065.8,1150.2 1066.3,1148.1 1066.9,1147.6 1067.4,1150.4 1068.0,1154.6 1068.5,1150.7 1069.1,1151.9 1069.6,1149.9 1070.2,1151.4 1070.7,1150.7 1071.3,1152.9 1071.8,1152.6 1072.4,1146.1 1072.9,1145.8 1073.5,1149.5 1074.0,1144.9 1074.6,1150.0 1075.1,1147.6 1075.7,1146.2 1076.2,1144.3 1076.8,1145.7 1077.3,1145.5 1077.9,1155.0 1078.4,1150.9 1079.0,1152.8 1079.5,1149.5 1080.1,1149.8 1080.6,1148.7 1081.2,1151.6 1081.7,1149.8 1082.3,1148.6 1082.8,1147.1 1083.4,1145.1 1083.9,1145.5 1084.5,1151.9 1085.0,1147.6 1085.6,1152.9 1086.1,1144.5 1086.7,1150.7 1087.2,1153.3 1087.8,1145.0 1088.3,1145.8 1088.9,1150.4 1089.4,1151.1 1090.0,1151.4 1090.5,1148.7 1091.1,1152.2 1091.6,1153.0 1092.2,1144.4 1092.7,1148.3 1093.3,1150.7 1093.8,1150.0 1094.4,1150.8 1094.9,1153.4 1095.5,1148.6 1096.0,1153.0 1096.6,1158.5 1097.1,1155.8 1097.7,1154.5 1098.2,1154.7 1098.8,1158.7 1099.3,1158.1 1099.9,1158.6 1100.4,1154.2 1101.0,1156.0 1101.5,1156.4 1102.1,1156.5 1102.6,1158.5 1103.2,1159.3 1103.7,1161.3 1104.3,1157.7 1104.8,1156.3 1105.4,1161.2 1105.9,1159.1 1106.5,1159.1 1107.0,1158.4 1107.6,1157.4 1108.1,1160.9 1108.7,1158.8 1109.2,1161.1 1109.8,1163.1 1110.3,1167.1 1110.9,1162.9 1111.4,1162.5 1112.0,1165.2 1112.5,1167.9 1113.1,1163.2 1113.6,1165.5 1114.2,1167.2 1114.7,1162.4 1115.3,1161.8 1115.8,1166.5 1116.4,1162.3 1116.9,1160.3 1117.5,1163.5 1118.0,1167.1 1118.6,1166.8 1119.1,1162.9 1119.7,1168.6 1120.2,1164.7 1120.8,1167.2 1121.3,1163.1 1121.9,1168.0 1122.4,1171.6 1123.0,1164.4 1123.5,1163.0 1124.1,1165.4 1124.6,1166.9 1125.2,1168.9 1125.7,1166.1 1126.3,1167.1 1126.8,1166.2 1127.4,1163.7 1127.9,1169.8 1128.5,1166.5 1129.0,1171.5 1129.6,1164.8 1130.1,1165.6 1130.7,1168.6 1131.2,1169.5 1131.8,1170.9 1132.3,1171.3 1132.9,1170.4 1133.4,1164.3 1134.0,1174.6 1134.5,1169.5 1135.1,1166.6 1135.6,1169.4 1136.2,1166.1 1136.7,1172.3 1137.3,1170.0 1137.8,1170.4 1138.4,1168.5 1138.9,1171.6 1139.5,1170.6 1140.0,1167.4 1140.6,1169.0 1141.1,1170.2 1141.7,1165.9 1142.2,1172.1 1142.8,1167.6 1143.3,1169.8 1143.9,1169.8 1144.4,1165.3 1145.0,1169.2 1145.5,1164.8 1146.1,1169.3 1146.6,1166.7 1147.2,1169.4 1147.7,1166.3 1148.3,1165.0 1148.8,1169.4 1149.4,1163.2 1149.9,1166.6 1150.5,1167.7 1151.0,1170.1 1151.6,1170.1 1152.1,1168.5 1152.7,1166.6 1153.2,1166.1 1153.8,1165.3 1154.3,1169.1 1154.9,1163.1 1155.4,1167.0 1156.0,1171.1 1156.5,1171.1 1157.1,1173.0 1157.6,1172.0 1158.2,1168.4 1158.7,1170.8 1159.3,1163.2 1159.8,1169.6 1160.4,1171.5 1160.9,1168.7 1161.5,1171.2 1162.0,1173.6 1162.6,1170.1 1163.1,1173.8 1163.7,1169.8 1164.2,1174.8 1164.8,1173.3 1165.3,1168.8 1165.9,1171.6 1166.4,1173.7 1167.0,1169.3 1167.5,1172.2 1168.1,1179.3 1168.6,1173.6 1169.2,1178.1 1169.7,1170.2 1170.3,1169.9 1170.8,1173.9 1171.4,1172.8 1171.9,1176.9 1172.5,1168.5 1173.0,1173.7 1173.6,1175.4 1174.1,1176.5 1174.7,1175.9 1175.2,1173.4 1175.8,1175.6 1176.3,1174.5 1176.9,1174.3 1177.4,1176.3 1178.0,1174.9 1178.5,1173.7 1179.1,1174.8 1179.6,1176.8 1180.2,1179.1 1180.7,1177.6 1181.3,1173.2 1181.8,1174.8 1182.4,1181.8 1182.9,1177.0 1183.5,1178.9 1184.0,1177.7 1184.6,1174.0 1185.1,1176.8 1185.7,1175.5 1186.2,1178.9 1186.8,1178.4 1187.3,1174.0 1187.9,1177.8 1188.4,1178.0 1189.0,1178.1 1189.5,1180.2 1190.1,1179.6 1190.6,1182.0 1191.2,1174.0 1191.7,1180.3 1192.3,1182.8 1192.8,1177.3 1193.4,1179.8 1193.9,1178.1 1194.5,1174.8 1195.0,1181.8 1195.6,1177.1 1196.1,1179.3 1196.7,1178.7 1197.2,1178.7 1197.8,1177.5 1198.3,1175.6 1198.9,1181.0 1199.4,1179.8 1200.0,1183.1 1200.5,1178.9 1201.1,1182.8 1201.6,1179.2 1202.2,1174.2 1202.7,1179.9 1203.3,1181.3 1203.8,1180.3 1204.4,1183.5 1204.9,1180.8 1205.5,1178.5 1206.0,1175.7 1206.6,1176.6 1207.1,1180.7 1207.7,1176.4 1208.2,1178.9 1208.8,1181.3 1209.3,1182.2 1209.9,1182.3 1210.4,1178.1 1211.0,1180.6 1211.5,1181.9 1212.1,1178.6 1212.6,1178.0 1213.2,1178.1 1213.7,1179.0 1214.3,1177.8 1214.8,1185.6 1215.4,1179.2 1215.9,1181.1 1216.5,1178.9 1217.0,1181.7 1217.6,1186.9 1218.1,1181.3 1218.7,1185.5 1219.2,1181.2 1219.8,1181.8 1220.3,1182.4 1220.9,1184.3 1221.4,1179.5 1222.0,1179.3 1222.5,1181.9 1223.1,1183.3 1223.6,1180.3 1224.2,1181.7 1224.7,1182.4 1225.3,1183.3 1225.8,1182.0 1226.4,1176.4 1226.9,1182.3 1227.5,1183.7 1228.0,1179.2 1228.6,1183.9 1229.1,1181.0 1229.7,1181.6 1230.2,1178.5 1230.8,1186.4 1231.3,1188.0 1231.9,1182.0 1232.4,1177.8 1233.0,1178.7 1233.5,1180.4 1234.1,1181.1 1234.6,1180.6 1235.2,1183.5 1235.7,1180.2 1236.3,1181.7 1236.8,1182.5 1237.4,1182.9 1237.9,1179.3 1238.5,1183.8 1239.0,1178.1 1239.6,1182.2 1240.1,1178.5 1240.7,1180.3 1241.2,1182.3 1241.8,1180.5 1242.3,1184.7 1242.9,1178.4 1243.4,1177.0 1244.0,1177.5 1244.5,1183.2 1245.1,1178.1 1245.6,1184.0 1246.2,1179.2 1246.7,1176.2 1247.3,1177.3 1247.8,1180.2 1248.4,1178.1 1248.9,1176.4 1249.5,1180.2 1250.0,1181.3 1250.6,1177.4 1251.1,1177.9 1251.7,1181.2 1252.2,1179.7 1252.8,1178.2 1253.3,1179.2 1253.9,1182.4 1254.4,1181.1 1255.0,1179.8 1255.5,1174.5 1256.1,1178.3 1256.6,1176.5 1257.2,1177.4 1257.7,1181.6 1258.3,1178.7 1258.8,1176.2 1259.4,1180.1 1259.9,1173.1 1260.5,1181.8 1261.0,1177.6 1261.6,1179.1 1262.1,1177.8 1262.7,1180.6 1263.2,1175.7 1263.8,1176.1 1264.3,1172.9 1264.9,1172.7 1265.4,1177.9 1266.0,1174.6 1266.5,1178.9 1267.1,1173.7 1267.6,1175.9 1268.2,1171.3 1268.7,1177.6 1269.3,1174.3 1269.8,1176.5 1270.4,1179.3 1270.9,1178.3 1271.5,1179.8 1272.0,1178.5 1272.6,1177.4 1273.1,1174.2 1273.7,1176.0 1274.2,1178.7 1274.8,1175.9 1275.3,1177.6 1275.9,1176.1 1276.4,1181.4 1277.0,1178.7 1277.5,1177.1 1278.1,1182.6 1278.6,1178.5 1279.2,1181.3 1279.7,1185.8 1280.3,1183.8 1280.8,1179.5 1281.4,1178.7 1281.9,1181.8 1282.5,1182.2 1283.0,1181.6 1283.6,1184.3 1284.1,1183.7 1284.7,1183.5 1285.2,1180.1 1285.8,1180.6 1286.3,1185.9 1286.9,1181.7 1287.4,1190.2 1288.0,1182.8 1288.5,1184.9 1289.1,1186.5 1289.6,1188.4 1290.2,1186.6 1290.7,1186.5 1291.3,1181.1 1291.8,1182.9 1292.4,1185.7 1292.9,1183.7 1293.5,1187.8 1294.0,1184.6 1294.6,1185.3 1295.1,1187.0 1295.7,1188.3 1296.2,1184.2 1296.8,1185.0 1297.3,1181.2 1297.9,1184.3 1298.4,1187.3 1299.0,1187.3 1299.5,1189.1 1300.1,1185.3 1300.6,1187.6 1301.2,1181.8 1301.7,1185.6 1302.3,1190.3 1302.8,1182.4 1303.4,1184.8 1303.9,1186.8 1304.5,1185.2 1305.0,1184.3 1305.6,1188.5 1306.1,1186.9 1306.7,1190.7 1307.2,1188.4 1307.8,1188.2 1308.3,1187.1 1308.9,1189.5 1309.4,1186.8 1310.0,1187.6 1310.5,1189.5 1311.1,1187.4 1311.6,1192.1 1312.2,1184.9 1312.7,1187.8 1313.3,1192.2 1313.8,1191.6 1314.4,1189.4 1314.9,1191.4 1315.5,1186.6 1316.0,1188.0 1316.6,1184.1 1317.1,1188.0 1317.7,1189.4 1318.2,1190.8 1318.8,1186.5 1319.3,1192.1 1319.9,1190.5 1320.4,1190.0 1321.0,1187.3 1321.5,1190.1 1322.1,1188.2 1322.6,1191.1 1323.2,1193.3 1323.7,1190.6 1324.3,1188.4 1324.8,1191.2 1325.4,1191.0 1325.9,1193.5 1326.5,1192.5 1327.0,1195.4 1327.6,1187.3 1328.1,1191.9 1328.7,1191.5 1329.2,1192.6 1329.8,1188.6 1330.3,1195.2 1330.9,1193.0 1331.4,1191.2 1332.0,1194.3 1332.5,1196.1 1333.1,1194.7 1333.6,1195.2 1334.2,1193.8 1334.7,1199.6 1335.3,1193.0 1335.8,1196.1 1336.4,1194.1 1336.9,1194.9 1337.5,1198.4 1338.0,1196.1 1338.6,1198.0 1339.1,1195.4 1339.7,1196.9 1340.2,1199.3 1340.8,1194.8 1341.3,1192.9 1341.9,1197.4 1342.4,1196.8 1343.0,1199.8 1343.5,1197.6 1344.1,1193.7 1344.6,1196.9 1345.2,1193.5 1345.7,1196.8 1346.3,1195.6 1346.8,1197.4 1347.4,1195.2 1347.9,1199.4 1348.5,1198.5 1349.0,1196.4 1349.6,1197.6 1350.1,1199.2 1350.7,1195.1 1351.2,1194.5 1351.8,1201.3 1352.3,1194.9 1352.9,1195.1 1353.4,1194.7 1354.0,1195.5 1354.5,1199.6 1355.1,1200.6 1355.6,1199.7 1356.2,1199.0 1356.7,1196.4 1357.3,1199.1 1357.8,1196.7 1358.4,1198.0 1358.9,1195.6 1359.5,1195.8 1360.0,1199.0 1360.6,1196.7 1361.1,1197.6 1361.7,1196.5 1362.2,1194.9 1362.8,1199.6 1363.3,1196.8 1363.9,1195.5 1364.4,1198.3 1365.0,1199.3 1365.5,1197.4 1366.1,1193.1 1366.6,1197.0 1367.2,1195.9 1367.7,1194.8 1368.3,1195.3 1368.8,1196.7 1369.4,1196.9 1369.9,1195.0 1370.5,1196.5 1371.0,1192.4 1371.6,1193.1 1372.1,1197.8 1372.7,1198.9 1373.2,1194.8 1373.8,1195.2 1374.3,1196.2 1374.9,1195.7 1375.4,1195.4 1376.0,1194.8 1376.5,1195.9 1377.1,1197.5 1377.6,1194.9 1378.2,1196.0 1378.7,1196.6 1379.3,1196.4 1379.8,1194.8 1380.4,1198.3 1380.9,1193.9 1381.5,1195.2 1382.0,1197.3 1382.6,1196.9 1383.1,1196.4 1383.7,1195.6 1384.2,1197.9 1384.8,1198.8 1385.3,1202.8 1385.9,1194.6 1386.4,1196.1 1387.0,1199.9 1387.5,1198.4 1388.1,1198.4 1388.6,1200.0 1389.2,1200.5 1389.7,1198.2 1390.3,1198.3 1390.8,1195.6 1391.4,1199.9 1391.9,1200.4 1392.5,1200.0 1393.0,1196.8 1393.6,1195.4 1394.1,1200.4 1394.7,1197.4 1395.2,1197.5 1395.8,1202.4 1396.3,1199.0 1396.9,1198.1 1397.4,1201.1 1398.0,1198.8 1398.5,1201.3 1399.1,1203.1 1399.6,1198.6 1400.2,1196.5 1400.7,1199.3 1401.3,1202.1 1401.8,1202.9 1402.4,1202.0 1402.9,1200.7 1403.5,1201.0 1404.0,1197.4 1404.6,1194.7 1405.1,1199.5 1405.7,1198.0 1406.2,1198.6 1406.8,1197.3 1407.3,1201.2 1407.9,1196.2 1408.4,1197.9 1409.0,1202.0 1409.5,1198.9 1410.1,1199.1 1410.6,1200.8 1411.2,1199.4 1411.7,1201.6 1412.3,1202.4 1412.8,1201.0 1413.4,1201.6 1413.9,1200.4 1414.5,1199.8 1415.0,1198.3 1415.6,1203.6 1416.1,1202.1 1416.7,1197.3 1417.2,1201.7 1417.8,1201.1 1418.3,1203.2 1418.9,1202.1 1419.4,1201.3 1420.0,1200.4 1420.5,1199.5 1421.1,1203.0 1421.6,1201.7 1422.2,1202.2 1422.7,1201.5 1423.3,1201.8 1423.8,1199.8 1424.4,1199.4 1424.9,1200.3 1425.5,1201.0 1426.0,1201.1 1426.6,1200.0 1427.1,1200.7 1427.7,1203.9 1428.2,1196.3 1428.8,1198.2 1429.3,1202.6 1429.9,1197.8 1430.4,1203.8 1431.0,1203.7 1431.5,1199.4 1432.1,1200.4 1432.6,1201.4 1433.2,1199.6 1433.7,1202.9 1434.3,1201.9 1434.8,1197.4 1435.4,1198.2 1435.9,1203.2 1436.5,1199.0 1437.0,1201.2 1437.6,1200.7 1438.1,1201.2 1438.7,1199.9 1439.2,1201.9 1439.8,1204.2 1440.3,1201.1 1440.9,1201.6 1441.4,1201.2 1442.0,1201.4 1442.5,1201.3 1443.1,1202.8 1443.6,1199.8 1444.2,1198.2 1444.7,1204.3 1445.3,1201.2 1445.8,1202.2 1446.4,1202.5 1446.9,1203.4 1447.5,1198.4 1448.0,1199.8 1448.6,1201.6 1449.1,1201.9 1449.7,1200.4 1450.2,1202.8 1450.8,1198.7 1451.3,1198.5 1451.9,1199.5 1452.4,1201.7 1453.0,1206.3 1453.5,1200.5 1454.1,1200.5 1454.6,1198.5 1455.2,1204.0 1455.7,1199.7 1456.3,1201.4 1456.8,1203.7 1457.4,1198.5 1457.9,1198.6 1458.5,1201.7 1459.0,1201.1 1459.6,1199.7 1460.1,1202.2 1460.7,1199.5 1461.2,1199.3 1461.8,1198.3 1462.3,1198.2 1462.9,1199.2 1463.4,1202.4 1464.0,1201.0 1464.5,1200.1 1465.1,1199.9 1465.6,1198.2 1466.2,1201.0 1466.7,1201.4 1467.3,1203.1 1467.8,1198.7 1468.4,1203.9 1468.9,1201.3 1469.5,1201.3 1470.0,1201.1 1470.6,1197.8 1471.1,1202.3 1471.7,1201.9 1472.2,1199.3 1472.8,1198.6 1473.3,1201.6 1473.9,1200.3 1474.4,1197.9 1475.0,1200.1 1475.5,1200.6 1476.1,1198.1 1476.6,1201.3 1477.2,1203.0 1477.7,1200.0 1478.3,1201.0 1478.8,1199.6 1479.4,1199.3 1479.9,1203.2 1480.5,1199.2 1481.0,1204.4 1481.6,1200.2 1482.1,1200.4 1482.7,1198.1 1483.2,1200.0 1483.8,1202.6 1484.3,1201.5 1484.9,1202.2 1485.4,1203.6 1486.0,1200.7 1486.5,1202.0 1487.1,1206.2 1487.6,1200.2 1488.2,1203.8 1488.7,1198.9 1489.3,1201.8 1489.8,1203.6 1490.4,1198.9 1490.9,1200.8 1491.5,1198.2 1492.0,1201.9 1492.6,1199.8 1493.1,1202.3 1493.7,1203.8 1494.2,1200.7 1494.8,1199.9 1495.3,1202.7 1495.9,1197.6 1496.4,1200.9 1497.0,1199.9 1497.5,1198.0 1498.1,1203.3 1498.6,1201.1 1499.2,1200.5 1499.7,1201.5 1500.3,1200.4 1500.8,1199.7 1501.4,1202.0 1501.9,1202.3 1502.5,1202.8 1503.0,1202.8 1503.6,1201.6 1504.1,1206.0 1504.7,1204.0 1505.2,1204.8 1505.8,1200.3 1506.3,1202.5 1506.9,1202.6 1507.4,1205.5 1508.0,1202.9 1508.5,1202.3 1509.1,1203.1 1509.6,1201.5 1510.2,1202.7 1510.7,1204.3 1511.3,1206.1 1511.8,1201.3 1512.4,1209.4 1512.9,1204.4 1513.5,1205.7 1514.0,1202.9 1514.6,1204.6 1515.1,1205.0 1515.7,1205.8 1516.2,1204.0 1516.8,1203.4 1517.3,1204.4 1517.9,1206.0 1518.4,1209.8 1519.0,1203.4 1519.5,1203.7 1520.1,1203.1 1520.6,1203.4 1521.2,1207.6 1521.7,1205.1 1522.3,1205.9 1522.8,1208.9 1523.4,1207.2 1523.9,1207.2 1524.5,1206.0 1525.0,1206.5 1525.6,1206.1 1526.1,1207.4 1526.7,1208.3 1527.2,1205.8 1527.8,1205.8 1528.3,1206.6 1528.9,1206.5 1529.4,1208.0 1530.0,1208.1 1530.5,1205.6 1531.1,1205.4 1531.6,1204.2 1532.2,1204.7 1532.7,1207.2 1533.3,1207.1 1533.8,1200.9 1534.4,1205.7 1534.9,1204.6 1535.5,1206.1 1536.0,1207.6 1536.6,1204.3 1537.1,1203.3 1537.7,1206.2 1538.2,1205.9 1538.8,1208.2 1539.3,1205.3 1539.9,1204.6 1540.4,1205.5 1541.0,1204.2 1541.5,1205.9 1542.1,1207.5 1542.6,1205.6 1543.2,1202.9 1543.7,1204.7 1544.3,1208.1 1544.8,1208.7 1545.4,1208.7 1545.9,1206.3 1546.5,1204.6 1547.0,1206.5 1547.6,1207.9 1548.1,1207.0 1548.7,1204.8 1549.2,1207.4 1549.8,1207.7 1550.3,1202.1 1550.9,1204.3 1551.4,1208.0 1552.0,1207.3 1552.5,1206.9 1553.1,1207.7 1553.6,1206.1 1554.2,1205.8 1554.7,1207.8 1555.3,1203.9 1555.8,1205.0 1556.4,1210.5 1556.9,1206.3 1557.5,1208.8 1558.0,1208.6 1558.6,1208.5 1559.1,1207.6 1559.7,1202.2 1560.2,1208.9 1560.8,1207.7 1561.3,1208.7 1561.9,1209.0 1562.4,1211.9 1563.0,1205.2 1563.5,1207.7 1564.1,1212.0 1564.6,1206.0 1565.2,1209.0 1565.7,1208.4 1566.3,1207.4 1566.8,1203.9 1567.4,1206.9 1567.9,1205.7 1568.5,1205.4 1569.0,1205.5 1569.6,1205.8 1570.1,1207.5 1570.7,1204.1 1571.2,1206.5 1571.8,1206.4 1572.3,1204.6 1572.9,1205.9 1573.4,1206.5 1574.0,1205.6 1574.5,1203.6 1575.1,1207.0 1575.6,1206.3 1576.2,1207.0 1576.7,1203.7 1577.3,1208.9 1577.8,1204.9 1578.4,1207.7 1578.9,1206.5 1579.5,1204.7 1580.0,1206.5 1580.6,1210.6 1581.1,1209.5 1581.7,1209.9 1582.2,1208.5 1582.8,1208.9 1583.3,1205.4 1583.9,1210.9 1584.4,1210.8 1585.0,1208.4 1585.5,1209.0 1586.1,1208.2 1586.6,1210.3 1587.2,1210.9 1587.7,1212.8 1588.3,1210.3 1588.8,1210.1 1589.4,1211.1 1589.9,1209.5 1590.5,1209.8 1591.0,1210.4 1591.6,1212.6 1592.1,1212.5 1592.7,1210.6 1593.2,1212.0 1593.8,1210.6 1594.3,1209.1 1594.9,1207.9 1595.4,1210.8 1596.0,1210.1 1596.5,1209.9 1597.1,1209.1 1597.6,1210.4 1598.2,1208.0 1598.7,1210.8 1599.3,1209.4 1599.8,1209.6 1600.4,1209.9 1600.9,1205.5 1601.5,1209.8 1602.0,1213.7 1602.6,1207.2 1603.1,1211.3 1603.7,1208.1 1604.2,1211.2 1604.8,1208.1 1605.3,1208.1 1605.9,1206.9 1606.4,1210.8 1607.0,1209.4 1607.5,1204.3 1608.1,1208.1 1608.6,1207.5 1609.2,1206.9 1609.7,1209.2 1610.3,1207.2 1610.8,1207.9 1611.4,1207.8 1611.9,1208.0 1612.5,1207.1 1613.0,1210.4 1613.6,1203.5 1614.1,1203.8 1614.7,1204.3 1615.2,1205.9 1615.8,1208.7 1616.3,1206.8 1616.9,1206.5 1617.4,1207.2 1618.0,1207.2 1618.5,1204.1 1619.1,1205.2 1619.6,1204.6 1620.2,1205.1 1620.7,1205.0 1621.3,1204.3 1621.8,1205.2 1622.4,1200.3 1622.9,1208.4 1623.5,1205.4 1624.0,1201.5 1624.6,1200.4 1625.1,1205.5 1625.7,1203.9 1626.2,1202.5 1626.8,1201.8 1627.3,1201.9 1627.9,1199.8 1628.4,1199.0 1629.0,1198.7 1629.5,1199.6 1630.1,1198.6 1630.6,1201.9 1631.2,1199.7 1631.7,1201.4 1632.3,1198.7 1632.8,1196.2 1633.4,1198.6 1633.9,1199.7 1634.5,1196.8 1635.0,1196.6 1635.6,1199.1 1636.1,1199.3 1636.7,1197.0 1637.2,1198.1 1637.8,1198.1 1638.3,1199.1 1638.9,1195.3 1639.4,1198.6 1640.0,1198.4 1640.5,1198.9 1641.1,1199.1 1641.6,1195.6 1642.2,1197.7 1642.7,1196.5 1643.3,1199.0 1643.8,1195.7 1644.4,1194.3 1644.9,1195.3 1645.5,1193.8 1646.0,1196.1 1646.6,1193.5 1647.1,1194.5 1647.7,1195.8 1648.2,1193.4 1648.8,1193.1 1649.3,1192.5 1649.9,1193.7 1650.4,1190.0 1651.0,1194.8 1651.5,1191.2 1652.1,1189.9 1652.6,1194.0 1653.2,1190.2 1653.7,1191.8 1654.3,1191.4 1654.8,1189.3 1655.4,1187.8 1655.9,1188.8 1656.5,1187.9 1657.0,1190.3 1657.6,1188.1 1658.1,1189.2 1658.7,1190.7 1659.2,1190.5 1659.8,1196.6 1660.3,1193.0 1660.9,1194.8 1661.4,1198.3 1662.0,1201.1 1662.5,1196.9 1663.1,1200.4 1663.6,1199.0 1664.2,1200.5 1664.7,1201.5 1665.3,1199.8 1665.8,1200.7 1666.4,1197.9 1666.9,1198.9 1667.5,1201.3 1668.0,1200.9 1668.6,1201.7 1669.1,1200.7 1669.7,1199.7 1670.2,1200.0 1670.8,1196.8 1671.3,1198.8 1671.9,1198.0 1672.4,1201.6 1673.0,1196.2 1673.5,1197.5 1674.1,1197.4 1674.6,1196.8 1675.2,1196.8 1675.7,1197.0 1676.3,1198.2 1676.8,1199.3 1677.4,1198.4 1677.9,1197.3 1678.5,1197.1 1679.0,1197.2 1679.6,1200.3 1680.1,1201.1 1680.7,1196.5 1681.2,1197.2 1681.8,1197.0 1682.3,1198.3 1682.9,1198.1 1683.4,1202.5 1684.0,1203.8 1684.5,1201.0 1685.1,1198.5 1685.6,1203.8 1686.2,1198.0 1686.7,1202.3 1687.3,1200.3 1687.8,1201.8 1688.4,1201.0 1688.9,1202.6 1689.5,1204.7 1690.0,1200.5 1690.6,1200.9 1691.1,1201.7 1691.7,1201.9 1692.2,1207.5 1692.8,1205.0 1693.3,1204.3 1693.9,1206.0 1694.4,1201.8 1695.0,1205.6 1695.5,1201.2 1696.1,1205.5 1696.6,1204.5 1697.2,1205.1 1697.7,1203.5 1698.3,1208.6 1698.8,1205.9 1699.4,1210.1 1699.9,1204.7 1700.5,1205.5 1701.0,1210.2 1701.6,1206.8 1702.1,1208.0 1702.7,1205.8 1703.2,1206.6 1703.8,1208.0 1704.3,1206.6 1704.9,1208.5 1705.4,1210.1 1706.0,1207.6 1706.5,1208.3 1707.1,1209.8 1707.6,1209.8 1708.2,1208.1 1708.7,1210.6 1709.3,1210.5 1709.8,1206.6 1710.4,1208.5 1710.9,1210.3 1711.5,1207.5 1712.0,1208.4 1712.6,1209.3 1713.1,1208.9 1713.7,1209.9 1714.2,1213.4 1714.8,1210.3 1715.3,1209.8 1715.9,1208.7 1716.4,1212.5 1717.0,1212.1 1717.5,1209.0 1718.1,1210.8 1718.6,1208.4 1719.2,1215.2 1719.7,1210.5 1720.3,1211.8 1720.8,1209.8 1721.4,1211.3 1721.9,1210.9 1722.5,1213.6 1723.0,1213.3 1723.6,1212.2 1724.1,1212.7 1724.7,1213.9 1725.2,1209.6 1725.8,1213.0 1726.3,1212.3 1726.9,1211.6 1727.4,1212.2 1728.0,1211.4 1728.5,1212.2 1729.1,1213.7 1729.6,1212.3 1730.2,1210.6 1730.7,1212.6 1731.3,1213.7 1731.8,1212.8 1732.4,1209.5 1732.9,1210.5 1733.5,1214.7 1734.0,1213.0 1734.6,1212.7 1735.1,1211.5 1735.7,1213.8 1736.2,1214.9 1736.8,1212.9 1737.3,1213.3 1737.9,1214.2 1738.4,1213.9 1739.0,1213.6 1739.5,1215.1 1740.1,1210.4 1740.6,1211.9 1741.2,1211.8 1741.7,1210.5 1742.3,1213.0 1742.8,1214.9 1743.4,1211.2 1743.9,1213.4 1744.5,1214.1 1745.0,1210.6 1745.6,1212.4 1746.1,1211.6 1746.7,1214.9 1747.2,1212.7 1747.8,1213.6 1748.3,1214.6 1748.9,1215.9 1749.4,1212.8 1750.0,1212.9 1750.5,1212.4 1751.1,1212.2 1751.6,1212.4 1752.2,1210.4 1752.7,1211.0 1753.3,1212.4 1753.8,1215.0 1754.4,1212.5 1754.9,1211.1 1755.5,1213.6 1756.0,1214.7 1756.6,1213.5 1757.1,1211.3 1757.7,1212.4 1758.2,1214.3 1758.8,1215.2 1759.3,1212.8 1759.9,1212.6 1760.4,1214.0 1761.0,1213.9 1761.5,1213.4 1762.1,1214.7 1762.6,1214.1 1763.2,1211.8 1763.7,1212.4 1764.3,1213.5 1764.8,1210.8 1765.4,1214.0 1765.9,1212.3 1766.5,1217.4 1767.0,1213.0 1767.6,1212.4 1768.1,1213.6 1768.7,1215.1 1769.2,1213.9 1769.8,1211.6 1770.3,1213.4 1770.9,1212.3 1771.4,1213.3 1772.0,1213.3 1772.5,1212.9 1773.1,1215.3 1773.6,1212.3 1774.2,1212.9 1774.7,1214.7 1775.3,1215.9 1775.8,1213.3 1776.4,1214.1 1776.9,1217.2 1777.5,1213.5 1778.0,1216.6 1778.6,1213.8 1779.1,1214.7 1779.7,1213.2 1780.2,1213.6 1780.8,1216.1 1781.3,1213.3 1781.9,1214.6 1782.4,1215.7 1783.0,1214.7 1783.5,1212.5 1784.1,1216.4 1784.6,1215.2 1785.2,1216.5 1785.7,1212.6 1786.3,1212.6 1786.8,1214.9 1787.4,1214.4 1787.9,1217.2 1788.5,1218.3 1789.0,1215.2 1789.6,1216.8 1790.1,1216.6 1790.7,1216.5 1791.2,1218.0 1791.8,1214.8 1792.3,1217.5 1792.9,1215.4 1793.4,1215.1 1794.0,1217.3 1794.5,1216.6 1795.1,1216.5 1795.6,1217.7 1796.2,1218.3 1796.7,1218.1 1797.3,1214.1 1797.8,1216.2 1798.4,1216.0 1798.9,1216.7 1799.5,1218.1 1800.0,1216.7 1800.6,1218.5 1801.1,1216.6 1801.7,1220.7 1802.2,1215.7 1802.8,1217.7 1803.3,1217.9 1803.9,1217.1 1804.4,1218.7 1805.0,1218.2 1805.5,1216.3 1806.1,1218.4 1806.6,1214.9 1807.2,1216.9 1807.7,1217.8 1808.3,1220.9 1808.8,1218.8 1809.4,1218.3 1809.9,1218.7 1810.5,1217.9 1811.0,1216.8 1811.6,1217.1 1812.1,1216.8 1812.7,1220.1 1813.2,1218.0 1813.8,1217.6 1814.3,1217.7 1814.9,1217.1 1815.4,1216.6 1816.0,1219.6 1816.5,1217.1 1817.1,1217.2 1817.6,1217.4 1818.2,1214.5 1818.7,1215.0 1819.3,1216.3 1819.8,1215.2 1820.4,1214.7 1820.9,1218.5 1821.5,1214.4 1822.0,1217.6 1822.6,1214.6 1823.1,1216.2 1823.7,1214.9 1824.2,1215.2 1824.8,1216.6 1825.3,1214.2 1825.9,1217.1 1826.4,1218.6 1827.0,1217.9 1827.5,1218.2 1828.1,1217.1 1828.6,1218.9 1829.2,1218.1 1829.7,1220.7 1830.3,1214.7 1830.8,1218.2 1831.4,1217.1 1831.9,1217.4 1832.5,1215.2 1833.0,1217.7 1833.6,1218.6 1834.1,1219.0 1834.7,1219.1 1835.2,1214.9 1835.8,1218.2 1836.3,1218.9 1836.9,1220.0 1837.4,1218.9 1838.0,1220.4 1838.5,1218.6 1839.1,1219.3 1839.6,1216.0 1840.2,1217.9 1840.7,1217.7 1841.3,1218.6 1841.8,1220.2 1842.4,1217.8 1842.9,1219.2 1843.5,1216.9 1844.0,1219.1 1844.6,1218.0 1845.1,1217.4 1845.7,1218.3 1846.2,1218.1 1846.8,1217.7 1847.3,1217.4 1847.9,1219.7 1848.4,1219.1 1849.0,1221.0 1849.5,1217.4 1850.1,1218.2 1850.6,1219.7 1851.2,1217.9 1851.7,1216.3 1852.3,1219.1 1852.8,1221.6 1853.4,1217.4 1853.9,1217.0 1854.5,1219.3 1855.0,1218.0 1855.6,1217.4 1856.1,1218.5 1856.7,1219.0 1857.2,1220.1 1857.8,1220.5 1858.3,1217.9 1858.9,1219.9 1859.4,1221.2 1860.0,1223.5 1860.5,1220.0 1861.1,1219.9 1861.6,1221.0 1862.2,1220.9 1862.7,1220.0 1863.3,1219.5 1863.8,1219.5 1864.4,1224.4 1864.9,1218.4 1865.5,1220.1 1866.0,1220.3 1866.6,1220.4 1867.1,1220.4 1867.7,1221.8 1868.2,1221.2 1868.8,1217.1 1869.3,1221.2 1869.9,1222.8 1870.4,1222.5 1871.0,1218.1 1871.5,1223.1 1872.1,1221.9 1872.6,1219.5 1873.2,1222.3 1873.7,1220.9 1874.3,1221.0 1874.8,1221.5 1875.4,1218.6 1875.9,1220.9 1876.5,1219.2 1877.0,1222.7 1877.6,1216.3 1878.1,1220.2 1878.7,1219.8 1879.2,1220.9 1879.8,1221.4 1880.3,1222.2 1880.9,1220.0 1881.4,1221.0 1882.0,1219.4 1882.5,1221.6 1883.1,1222.7 1883.6,1219.0 1884.2,1219.0 1884.7,1220.4 1885.3,1222.0 1885.8,1221.1 1886.4,1218.5 1886.9,1218.9 1887.5,1221.2 1888.0,1223.6 1888.6,1219.6 1889.1,1220.2 1889.7,1219.6 1890.2,1220.6 1890.8,1223.0 1891.3,1220.6 1891.9,1218.0 1892.4,1220.3 1893.0,1219.5" stroke="#00007c" stroke-width="13"/>
</g>
<g>
<line x1="362.7" y1="440" x2="362.7" y2="1279" stroke="#000" stroke-width="2.5" stroke-dasharray="2.7 4.14"/>
<line x1="675.6" y1="512" x2="675.6" y2="1279" stroke="#000" stroke-width="2.5" stroke-dasharray="2.7 4.14"/>
<line x1="979.8" y1="636" x2="979.8" y2="1279" stroke="#000" stroke-width="2.5" stroke-dasharray="2.7 4.14"/>
<line x1="1648.6" y1="722" x2="1648.6" y2="1279" stroke="#000" stroke-width="2.5" stroke-dasharray="2.7 4.14"/>
</g>
<g fill="none" stroke="#000" stroke-width="7.0" stroke-linecap="round">
<line x1="334.0" y1="1283.3" x2="334.0" y2="1309"/><line x1="594.3" y1="1283.3" x2="594.3" y2="1309"/><line x1="854.5" y1="1283.3" x2="854.5" y2="1309"/><line x1="1114.8" y1="1283.3" x2="1114.8" y2="1309"/><line x1="1375.1" y1="1283.3" x2="1375.1" y2="1309"/><line x1="1635.3" y1="1283.3" x2="1635.3" y2="1309"/><line x1="1895.6" y1="1283.3" x2="1895.6" y2="1309"/><line x1="464.2" y1="1283.3" x2="464.2" y2="1296"/><line x1="724.4" y1="1283.3" x2="724.4" y2="1296"/><line x1="984.7" y1="1283.3" x2="984.7" y2="1296"/><line x1="1244.9" y1="1283.3" x2="1244.9" y2="1296"/><line x1="1505.2" y1="1283.3" x2="1505.2" y2="1296"/><line x1="1765.5" y1="1283.3" x2="1765.5" y2="1296"/>
<line x1="204.0" y1="36.7" x2="204.0" y2="1296"/>
<line x1="1895.2" y1="36.7" x2="1895.2" y2="1309"/>
<line x1="204.0" y1="36.7" x2="1895.2" y2="36.7" stroke-linecap="square"/>
<line x1="204.0" y1="1283.3" x2="1895.2" y2="1283.3" stroke-linecap="butt"/>
</g>
<g>
<line x1="582.0" y1="660" x2="582.0" y2="1283.5" stroke="#0000ff" stroke-width="2.5" stroke-dasharray="2.7 4.14"/>
<text x="333.5" y="1393.4" font-size="86" text-anchor="middle" textLength="95" lengthAdjust="spacingAndGlyphs">10</text>
<text x="593.8" y="1393.4" font-size="86" text-anchor="middle" textLength="95" lengthAdjust="spacingAndGlyphs">20</text>
<text x="854.0" y="1393.4" font-size="86" text-anchor="middle" textLength="95" lengthAdjust="spacingAndGlyphs">30</text>
<text x="1114.3" y="1393.4" font-size="86" text-anchor="middle" textLength="95" lengthAdjust="spacingAndGlyphs">40</text>
<text x="1374.6" y="1393.4" font-size="86" text-anchor="middle" textLength="95" lengthAdjust="spacingAndGlyphs">50</text>
<text x="1634.8" y="1393.4" font-size="86" text-anchor="middle" textLength="95" lengthAdjust="spacingAndGlyphs">60</text>
<text x="1895.1" y="1393.4" font-size="86" text-anchor="middle" textLength="95" lengthAdjust="spacingAndGlyphs">70</text>
<text transform="translate(379.8,323.9) rotate(-90)" font-size="72" textLength="163.2" lengthAdjust="spacingAndGlyphs">(003)</text>
<text transform="translate(597.0,519.6) rotate(-90)" font-size="72" textLength="163.8" lengthAdjust="spacingAndGlyphs">(101)</text>
<text transform="translate(692.5,419.9) rotate(-90)" font-size="72" textLength="167.4" lengthAdjust="spacingAndGlyphs">(006)</text>
<text transform="translate(997.9,516.7) rotate(-90)" font-size="72" textLength="163.2" lengthAdjust="spacingAndGlyphs">(012)</text>
<text transform="translate(1662.5,594.5) rotate(-90)" font-size="77" textLength="172.9" lengthAdjust="spacingAndGlyphs">(110)</text>
<rect x="345.9" y="354" width="28.5" height="34.5" fill="none" stroke="#2a2a2a" stroke-width="1.7"/>
<rect x="659.9" y="434.1" width="33.0" height="39.3" fill="none" stroke="#2a2a2a" stroke-width="1.9"/>
<rect x="959.9" y="546.3" width="33.1" height="38.6" fill="none" stroke="#2a2a2a" stroke-width="1.9"/>
<rect x="1626.4" y="619.2" width="35.2" height="43.1" fill="none" stroke="#2a2a2a" stroke-width="2.1"/>
<rect x="454.5" y="69.5" width="32.7" height="40.4" fill="none" stroke="#2a2a2a" stroke-width="1.7"/>
<text x="560.8" y="623.5" font-size="67" textLength="45.6" lengthAdjust="spacingAndGlyphs">Δ</text>
<text x="450.7" y="208.2" font-size="67.5" textLength="42.8" lengthAdjust="spacingAndGlyphs">Δ</text>
<text y="110.6" font-size="78"><tspan x="528.6" textLength="254.8" lengthAdjust="spacingAndGlyphs">Layered</tspan> <tspan x="802" textLength="222.8" lengthAdjust="spacingAndGlyphs">double</tspan> <tspan x="1042.6" textLength="359.2" lengthAdjust="spacingAndGlyphs">hydroxides</tspan> <tspan x="1437.8" textLength="452.2" lengthAdjust="spacingAndGlyphs">PDF#89-0460</tspan></text>
<text y="207.6" font-size="78"><tspan x="528.6" textLength="367.4" lengthAdjust="spacingAndGlyphs">Magnesium</tspan> <tspan x="913" textLength="228.8" lengthAdjust="spacingAndGlyphs">silicate</tspan> <tspan x="1160.8" textLength="451.1" lengthAdjust="spacingAndGlyphs">PDF#87-2037</tspan></text>
<text x="1797.8" y="698.3" font-size="92" textLength="49.3" lengthAdjust="spacingAndGlyphs">a</text>
<text x="1809.4" y="834.4" font-size="92" textLength="45.2" lengthAdjust="spacingAndGlyphs">b</text>
<text x="1804.9" y="955.2" font-size="92" textLength="44.7" lengthAdjust="spacingAndGlyphs">c</text>
<text x="1800.4" y="1070.5" font-size="92" textLength="51.5" lengthAdjust="spacingAndGlyphs">d</text>
<text x="1803" y="1202.8" font-size="92" textLength="51.1" lengthAdjust="spacingAndGlyphs">e</text>
<text x="814.4" y="1515.5" font-size="96" textLength="100.5" lengthAdjust="spacingAndGlyphs">2θ</text>
<text x="936" y="1515.5" font-size="96" textLength="346.7" lengthAdjust="spacingAndGlyphs">(degree)</text>
<text transform="translate(102.8,931.2) rotate(-90)" font-size="98" textLength="366.6" lengthAdjust="spacingAndGlyphs">Intensity</text>
<text transform="translate(102.8,540.8) rotate(-90)" font-size="98" textLength="203.6" lengthAdjust="spacingAndGlyphs">(a.u.)</text>
</g>
</svg>
</body></html>
